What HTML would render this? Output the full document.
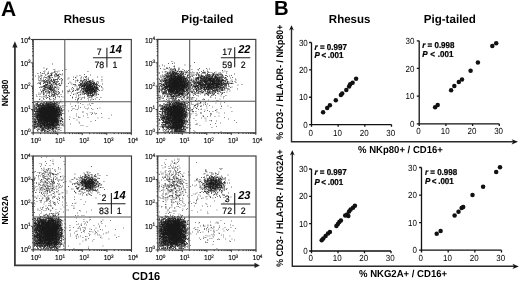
<!DOCTYPE html>
<html><head><meta charset="utf-8"><title>Figure</title>
<style>html,body{margin:0;padding:0;background:#fff}svg{display:block;text-rendering:geometricPrecision;filter:grayscale(1)}</style>
</head><body>
<svg width="520" height="282" viewBox="0 0 520 282" font-family='"Liberation Sans", sans-serif'>
<rect width="520" height="282" fill="#fff"/>
<text transform="translate(0.90,15.60) scale(1,1.0)" font-size="21" font-weight="bold" font-style="normal" text-anchor="start" fill="#000" >A</text>
<text transform="translate(273.90,14.50) scale(1,1.01)" font-size="20.3" font-weight="bold" font-style="normal" text-anchor="start" fill="#000" >B</text>
<text transform="translate(84.40,22.70) scale(1,1.02)" font-size="11.5" font-weight="bold" font-style="normal" text-anchor="middle" fill="#000" >Rhesus</text>
<text transform="translate(207.30,22.60) scale(1,1.02)" font-size="11.6" font-weight="bold" font-style="normal" text-anchor="middle" fill="#000" >Pig-tailed</text>
<text transform="translate(349.60,22.50) scale(1,1.02)" font-size="11.5" font-weight="bold" font-style="normal" text-anchor="middle" fill="#000" >Rhesus</text>
<text transform="translate(449.80,22.50) scale(1,1.02)" font-size="11.6" font-weight="bold" font-style="normal" text-anchor="middle" fill="#000" >Pig-tailed</text>
<path d="M14.9 46V265.4H255.5" stroke="#3a3a3a" stroke-width="1.8" fill="none"/>
<path d="M14.9 41.3L12.3 47.4H17.5Z" fill="#222"/>
<path d="M259.9 265.4L254.5 262.8V268Z" fill="#222"/>
<text transform="translate(7.9,106.3) rotate(-90) scale(1,1.06)" font-size="8.45" font-weight="bold" fill="#000">NKp80</text>
<text transform="translate(7.9,224.5) rotate(-90) scale(1,1.06)" font-size="8.3" font-weight="bold" fill="#000">NKG2A</text>
<text transform="translate(146.10,280.10) scale(1,1.05)" font-size="11" font-weight="bold" font-style="normal" text-anchor="middle" fill="#000" >CD16</text>
<path d="M87 115h.9M76 116h.9M97 108.5h.9M108.5 118.5h.9M75.5 109.5h.9M76 114h.9M79 123h.9M71.5 106.5h.9M92 113.5h.9M70 124h.9M90.5 121.5h.9M88 108h.9M91 108.5h.9M69.5 117h.9M85.5 108.5h.9M86.5 113.5h.9M92.5 103.5h.9M87.5 117.5h.9M78 102h.9M95 114h.9M97.5 118h.9M76.5 102h.9M89 104h.9M75 99.5h.9M82.5 125.5h.9M91.5 99.5h.9M70 104h.9M111 115h.9M96 113.5h.9M76.5 120h.9M78.5 122h.9M83 116h.9M82.5 112.5h.9M72 109h.9M82.5 111.5h.9M69 119.5h.9M78 117h.9M101.5 117.5h.9M83.5 101.5h.9M80 107.5h.9M99.5 108h.9M87 109h.9M90 105.5h.9M78.5 117.5h.9M95 120.5h.9M80.5 125.5h.9M92.5 109.5h.9M90.5 112.5h.9M101 113.5h.9M94 113h.9M84 107h.9M73.5 118.5h.9M81 99h.9M77 109.5h.9M99 99.5h.9M79.5 117.5h.9M61.5 103h.9M87.5 105h.9M92 113h.9M75 105.5h.9M91 114.5h.9M71 110.5h.9M86.5 126.5h.9M82.5 104.5h.9M68 111h.9M78 98h.9M75 106h.9M77 99h.9M72 97.5h.9M80.5 99.5h.9M76.5 93h.9M83 94h.9M64.5 105.5h.9M76 96h.9M72.5 91.5h.9M77 99.5h.9M67.5 93h.9M79.5 97.5h.9M64.5 103h.9M80 103.5h.9M78 106h.9M77 100.5h.9M60.5 100h.9M78 98.5h.9M62.5 97h.9M73.5 108.5h.9M72 97h.9M62.5 105.5h.9M61 96.5h.9M77.5 103h.9M70.5 83h.9M81.5 98h.9M73.5 94h.9" stroke="#222" stroke-width="0.9" stroke-opacity="0.7" fill="none"/>
<path d="M49 117.5h.9M50.5 118h.9M47.5 108.5h.9M45 113h.9M47 115.5h.9M44.5 118.5h.9M49.5 111.5h.9M55 109h.9M46.5 119.5h.9M46 120h.9M51.5 116.5h.9M50.5 111.5h.9M49.5 116.5h.9M44.5 115h.9M49 119h.9M52 108.5h.9M43 115.5h.9M47 114h.9M40.5 109.5h.9M43 116h.9M40.5 115h.9M48 112.5h.9M43 116.5h.9M50 107.5h.9M49.5 114.5h.9M48 117h.9M37.5 116h.9M46.5 120h.9M49 109h.9M49.5 107.5h.9M42 116h.9M47 117h.9M44.5 125h.9M45.5 117.5h.9M54 110.5h.9M45.5 118.5h.9M49 110.5h.9M53 107.5h.9M46.5 127.5h.9M48.5 116.5h.9M49.5 118h.9M49.5 117.5h.9M43.5 123.5h.9M49.5 116h.9M55.5 120.5h.9M42 109.5h.9M53 108h.9M49.5 121.5h.9M46 122h.9M58 117h.9M52.5 116h.9M43.5 115.5h.9M51.5 122h.9M48 118h.9M52 117h.9M52 120h.9M55.5 117h.9M46 118.5h.9M50 109h.9M49.5 125.5h.9M43.5 112h.9M46.5 114h.9M48 119h.9M53 119.5h.9M54.5 118h.9M43 107h.9M45.5 117h.9M52 109h.9M40 110.5h.9M47 117.5h.9M48.5 113.5h.9M55 118.5h.9M52 130h.9M47.5 118.5h.9M47.5 118h.9M48 110.5h.9M56 111.5h.9M47 109.5h.9M47.5 112h.9M50.5 109.5h.9M48.5 111.5h.9M48 113.5h.9M44 110h.9M49 107.5h.9M47 108h.9M54.5 117h.9M52 115h.9M49 119.5h.9M47.5 113h.9M54 118h.9M51.5 126h.9M43 120.5h.9M50.5 113.5h.9M41 109h.9M39.5 116.5h.9M47.5 105.5h.9M45 111h.9M50 118.5h.9M59.5 115h.9M45 112.5h.9M46 119.5h.9M50 109.5h.9M51.5 116h.9M51.5 110h.9M44 124h.9M48.5 112h.9M49 124.5h.9M44 109.5h.9M50 117.5h.9M45 109h.9M53.5 108h.9M50 115.5h.9M46.5 108.5h.9M48.5 120.5h.9M40 111h.9M44 115.5h.9M50.5 116.5h.9M39 117.5h.9M53 106h.9M41 122.5h.9M52.5 117.5h.9M52.5 109.5h.9M49.5 106.5h.9M42 108h.9M54.5 117.5h.9M55.5 113h.9M48.5 109h.9M48.5 122.5h.9M44.5 113h.9M54 112h.9M46.5 121.5h.9M49 117h.9M45.5 115h.9M46 111.5h.9M48.5 112.5h.9M53.5 113.5h.9M49 116.5h.9M46 117.5h.9M47.5 116h.9M46.5 116h.9M49 110h.9M47.5 104h.9M42.5 110h.9M45.5 111.5h.9M56.5 113.5h.9M46 108.5h.9M50.5 114h.9M55.5 115.5h.9M42.5 111.5h.9M46 113.5h.9M41 109.5h.9M52.5 115h.9M49 124h.9M45.5 120.5h.9M51 121.5h.9M46.5 122h.9M48.5 110.5h.9M44 124.5h.9M55 113.5h.9M46.5 113.5h.9M50.5 117.5h.9M49 115h.9M46.5 121h.9M52 111h.9M47.5 109.5h.9M48.5 118.5h.9M49 118h.9M54.5 120h.9M52 109.5h.9M51 120h.9M46.5 117h.9M42.5 123.5h.9M53.5 108.5h.9M53.5 116h.9M51.5 107h.9M52.5 111h.9M53 120h.9M53 112.5h.9M47 111h.9M56 119h.9M43.5 119.5h.9M51.5 111h.9M53 114.5h.9M57.5 120h.9M43.5 111h.9M41 119h.9M53 122.5h.9M44.5 109h.9M49 102h.9M41.5 109.5h.9M39.5 114h.9M49 114h.9M48 111.5h.9M49 115.5h.9M45 110h.9M42 114.5h.9M44.5 128h.9M41.5 118.5h.9M51.5 110.5h.9M48.5 110h.9M51 112.5h.9M44.5 106.5h.9M46 111h.9M44.5 111h.9M45 119h.9M50 112.5h.9M45.5 111h.9M50.5 108h.9M50.5 109h.9M58.5 114.5h.9M42.5 113.5h.9M53 120.5h.9M49 120h.9M42.5 116h.9M47 114.5h.9M52.5 105h.9M48.5 108.5h.9M49.5 118.5h.9M47.5 121.5h.9M54.5 115.5h.9M49 118.5h.9M39 112.5h.9M46 113h.9M40 111.5h.9M34 119.5h.9M46.5 116.5h.9M49 113h.9M43.5 117.5h.9M44.5 116.5h.9M49.5 123h.9M49 116h.9M49 122h.9M52.5 119.5h.9M51.5 114.5h.9M51.5 111.5h.9M46 103.5h.9M54 120.5h.9M43 105.5h.9M48.5 118h.9M43 110h.9M57 113.5h.9M55.5 116h.9M52.5 123.5h.9M37 119h.9M50 112h.9M49.5 115.5h.9M44 112.5h.9M48 114h.9M48 114.5h.9M49 112h.9M56 111h.9M46.5 118.5h.9M47 106.5h.9M40.5 111.5h.9M56 122.5h.9M53.5 101.5h.9M53 111.5h.9M52 118h.9M50 127.5h.9M48 102h.9M48 121.5h.9M49 122.5h.9M51.5 113.5h.9M46.5 110.5h.9M56.5 109h.9M49.5 119.5h.9M47.5 109h.9M44 113h.9M48.5 115.5h.9M47 120.5h.9M48 116.5h.9M48 107.5h.9M41.5 111h.9M45 115h.9M53 111h.9M45.5 119.5h.9M56 119.5h.9M47.5 114.5h.9M46 119h.9M51 117.5h.9M58.5 119.5h.9M48 125h.9M48 121h.9M44 116h.9M43.5 116.5h.9M44 114.5h.9M55 122h.9M45 119.5h.9M50 121.5h.9M58 113.5h.9M48 120.5h.9M46.5 113h.9M43 113.5h.9M49 112.5h.9M56 105h.9M53.5 119h.9M45 112h.9M46.5 111h.9M50.5 118.5h.9M50 115h.9M50.5 106.5h.9M50 116h.9M57.5 124.5h.9M51.5 117.5h.9M41 115.5h.9M51 114h.9M40 119.5h.9M42.5 120h.9M53 108.5h.9M48.5 117h.9M41 119.5h.9M47.5 117h.9M59.5 123.5h.9M45.5 108h.9M48.5 113h.9M48 105.5h.9M43.5 103.5h.9M49.5 107h.9M43.5 116h.9M54 114.5h.9M54 113.5h.9M54 116h.9M51.5 104.5h.9M47 110.5h.9M43 112h.9M42.5 114h.9M52.5 113.5h.9M53.5 124.5h.9M45.5 106.5h.9M53.5 109h.9M50 119.5h.9M52.5 111.5h.9M40.5 118h.9M55 118h.9M52 114.5h.9M55 119.5h.9M47 115h.9M47.5 119h.9M44 108h.9M60.5 107h.9M48 118.5h.9M56.5 108h.9M50 114h.9M41.5 112.5h.9M47 112.5h.9M53.5 121.5h.9M43 102.5h.9M54 119h.9M50.5 126h.9M44 115h.9M46.5 114.5h.9M47 118.5h.9M49 123.5h.9M46.5 109h.9M47.5 114h.9M44.5 117.5h.9M42 115h.9M49 111.5h.9M44.5 114h.9M53 114h.9M45.5 114h.9M51 108h.9M48 120h.9M51.5 117h.9M48.5 114.5h.9M52 116h.9M44 112h.9M48.5 115h.9M53.5 103.5h.9M52 108h.9M44 125.5h.9M40.5 113h.9M48.5 125h.9M54 117.5h.9M44 117h.9M45.5 118h.9M44 120.5h.9M50.5 117h.9M45.5 115.5h.9M51.5 121.5h.9M51 110h.9M44.5 111.5h.9M57.5 113h.9M47.5 110h.9M50 113.5h.9M49 114.5h.9M58 125h.9M42 130.5h.9M44.5 119.5h.9M43 117h.9M52.5 112.5h.9M53 101h.9M42.5 115.5h.9M47.5 124h.9M55.5 108h.9M36 124h.9M44 118h.9M54 102.5h.9M42 118h.9M55.5 109h.9M47 118h.9M45 117.5h.9M40.5 119.5h.9M47 120h.9M48.5 108h.9M44 121.5h.9M55 112.5h.9M57.5 115h.9M45.5 113h.9M46 125.5h.9M45.5 116h.9M44 108.5h.9M48 109.5h.9M50 116.5h.9M49 127h.9M42.5 111h.9M49.5 114h.9M43 119h.9M47.5 108h.9M39.5 110h.9M49.5 115h.9M48.5 114h.9M47 119.5h.9M47.5 119.5h.9M48 115h.9M43.5 119h.9M49.5 117h.9M51 117h.9M50 122.5h.9M50.5 115h.9M51 119h.9M46 121h.9M48 119.5h.9M52 111.5h.9M42 110h.9M54.5 119.5h.9M53.5 112.5h.9M50 124.5h.9M42 113.5h.9M37.5 111h.9M43 123h.9M55 117.5h.9M47.5 113.5h.9M50 108h.9M57 114.5h.9M56.5 110.5h.9M48.5 119.5h.9M51 116h.9M53.5 118h.9M45.5 119h.9M48.5 111h.9M52.5 117h.9M51.5 127.5h.9M51 113.5h.9M47.5 111.5h.9M50.5 107.5h.9M44.5 120.5h.9M41.5 115h.9M48.5 123.5h.9M50.5 127h.9M41 110.5h.9M47.5 120h.9M46 118h.9M45 116.5h.9M38.5 117h.9M46 116.5h.9M49 121h.9M52.5 119h.9M36.5 117h.9M51.5 123.5h.9M50.5 113h.9M49 104.5h.9M53 115h.9M58 118h.9M50 121h.9M55 111.5h.9M49 108.5h.9M56 109.5h.9M44.5 114.5h.9M52.5 115.5h.9M54 109h.9M42 111.5h.9M45 110.5h.9M46 106h.9M42 115.5h.9M51.5 114h.9M47 110h.9M53.5 107.5h.9M45 120h.9M50 120.5h.9M52 122h.9M50 117h.9M47.5 111h.9M53 110h.9M46 107.5h.9M47 116h.9M54.5 114.5h.9M59.5 114.5h.9M58 112.5h.9M48.5 121h.9M44.5 121.5h.9M51 106h.9M41.5 117.5h.9M42.5 115h.9M52 122.5h.9M50 111.5h.9M52 121h.9M51.5 120h.9M45 111.5h.9M44.5 109.5h.9M54 111.5h.9M49 109.5h.9M48 116h.9M41.5 114h.9M44 111.5h.9M47.5 122h.9M60.5 116h.9M53.5 117h.9M58.5 111h.9M48 109h.9M47.5 116.5h.9M54.5 115h.9M52 113h.9M46.5 122.5h.9M58 110h.9M57 110h.9M39.5 112.5h.9M52 117.5h.9M48 123h.9M47.5 115h.9M41 114.5h.9M46 112.5h.9M38.5 114.5h.9M54 119.5h.9M58 114.5h.9M40.5 114.5h.9M43.5 110.5h.9M46.5 109.5h.9M48.5 106h.9M47.5 123h.9M57.5 125.5h.9M58 109.5h.9M55 114h.9M52 119h.9M46 109.5h.9M55.5 114h.9M48.5 126.5h.9M47.5 110.5h.9M44 109h.9M51.5 119.5h.9M52.5 116.5h.9M49.5 112.5h.9M56 115h.9M46 110.5h.9M49.5 122h.9M46.5 125h.9M56 113h.9M40 116.5h.9M55.5 113.5h.9M52.5 110h.9M45 115.5h.9M39.5 120h.9M42 119.5h.9M46 110h.9M56.5 115.5h.9M45.5 105h.9M43.5 107.5h.9M51 120.5h.9M46 105h.9M40 110h.9M52 106.5h.9M50.5 108.5h.9M52 112h.9M49 106h.9M54.5 113h.9M51 118h.9M51 119.5h.9M42.5 113h.9M48 113h.9M43 124h.9M56.5 116.5h.9M43.5 111.5h.9M41 111h.9M48.5 109.5h.9M45.5 110h.9M51.5 124.5h.9M45.5 103h.9M61 109h.9M45 122.5h.9M43.5 107h.9M44.5 104h.9M47 122h.9M39.5 113.5h.9M49.5 113h.9M41 122h.9M47 121.5h.9M52.5 104h.9M43.5 114h.9M55.5 112.5h.9M50 113h.9M54.5 112.5h.9M47 116.5h.9M53.5 110.5h.9M60.5 121h.9M48.5 117.5h.9M41 123.5h.9M55 119h.9M52.5 114h.9M44 107.5h.9M53 105.5h.9M58.5 116.5h.9M52.5 118.5h.9M49.5 108.5h.9M57 120h.9M44.5 112h.9M51 116.5h.9M47 112h.9M50.5 104.5h.9M49.5 106h.9M43.5 115h.9M53 116.5h.9M44 117.5h.9M58.5 113h.9M52.5 123h.9M56 103.5h.9M43 114h.9M54 112.5h.9M49 104h.9M51 107.5h.9M39 124.5h.9M49.5 109h.9M45.5 109.5h.9M54.5 121h.9M54.5 107h.9M44 107h.9M55 120h.9M43 118h.9M51 110.5h.9M50.5 116h.9M46.5 104.5h.9M49 113.5h.9M46.5 112.5h.9M47 111.5h.9M50 114.5h.9M53 115.5h.9M54.5 110h.9M59.5 115.5h.9M52.5 108.5h.9M57.5 120.5h.9M57 115.5h.9M40 122h.9M52.5 108h.9M52.5 112h.9M48.5 121.5h.9M52 118.5h.9M53.5 114.5h.9M38.5 113.5h.9M52 115.5h.9M50.5 111h.9M45 113.5h.9M53.5 126.5h.9M48.5 130h.9M45 118.5h.9M50.5 115.5h.9M57 107.5h.9M53.5 112h.9M39 119h.9M50.5 102.5h.9M50.5 119h.9M44 110.5h.9M39.5 124h.9M44.5 119h.9M56.5 120h.9M51.5 108.5h.9M57 118.5h.9M48 111h.9M57 119h.9M40 117h.9M53 101.5h.9M45.5 113.5h.9M49.5 108h.9M60 112h.9M53.5 122h.9M46 125h.9M53 110.5h.9M44 123h.9M42 107.5h.9M46 122.5h.9M52.5 122h.9M51 107h.9M57.5 117h.9M54.5 119h.9M43.5 125h.9M53 123h.9M41.5 110.5h.9M56 113.5h.9M38 102h.9M48 127.5h.9M48 117.5h.9M54 108.5h.9M39 111.5h.9M49 105.5h.9M45.5 121.5h.9M45 114.5h.9M58.5 111.5h.9M42.5 119h.9M50.5 110.5h.9M60.5 109h.9M52.5 120.5h.9M50 110h.9M46.5 123h.9M52.5 118h.9M45 122h.9M54 126h.9M51.5 115.5h.9M50.5 119.5h.9M55 117h.9M45.5 120h.9M45.5 112.5h.9M54.5 120.5h.9M38.5 115h.9M40 103.5h.9M54 117h.9M43 117.5h.9M50.5 114.5h.9M50.5 105h.9M52 106h.9M49.5 109.5h.9M60 101.5h.9M54 108h.9M41.5 119h.9M51.5 112.5h.9M44.5 112.5h.9M48 112h.9M40.5 121h.9M56.5 101.5h.9M46.5 112h.9M50 106.5h.9M53.5 116.5h.9M54 120h.9M55.5 112h.9M48 108.5h.9M42.5 117h.9M47.5 104.5h.9M48 107h.9M51 112h.9M52 123h.9M42 105.5h.9M42.5 117.5h.9M43.5 114.5h.9M55 108.5h.9M50 111h.9M42 108.5h.9M54.5 114h.9M54.5 125h.9M55.5 119h.9M52 112.5h.9M48.5 106.5h.9M53 125h.9M47.5 120.5h.9M44.5 118h.9M55.5 115h.9M53.5 117.5h.9M54 111h.9M37.5 110h.9M47 113.5h.9M58.5 120.5h.9M47 121h.9M46 114.5h.9M47 107.5h.9M62 121.5h.9M55.5 121h.9M53 113h.9M55 112h.9M50.5 123h.9M46.5 110h.9M56 112.5h.9M42 114h.9M42.5 109h.9M56.5 122.5h.9M54.5 113.5h.9M51.5 119h.9M57 118h.9M41 112.5h.9M50 108.5h.9M53 117.5h.9M41.5 121h.9M54 110h.9M52 116.5h.9M37 112.5h.9M50 110.5h.9M50 122h.9M42.5 121h.9M57.5 113.5h.9M48 115.5h.9M41.5 120.5h.9M61.5 119h.9M55 110.5h.9M51.5 106h.9M55 115h.9M50.5 120h.9M53 104.5h.9M51 115h.9M51 125.5h.9M43 115h.9M45.5 110.5h.9M43 119.5h.9M46.5 115.5h.9M40.5 116.5h.9M43 113h.9M41.5 116h.9M51 122h.9M46 102.5h.9M53 118h.9M57 105h.9M43 109.5h.9M50.5 112.5h.9M42.5 120.5h.9M51.5 112h.9M41 108h.9M56.5 118h.9M39 117h.9M61 110.5h.9M53.5 126h.9M54.5 109h.9M49.5 120h.9M52 110.5h.9M37.5 117.5h.9M62 119.5h.9M52.5 121.5h.9M43.5 118.5h.9M39 110h.9M41 121h.9M48.5 107.5h.9M55 116h.9M43 112.5h.9M50 107h.9M43.5 117h.9M60 121h.9M45.5 114.5h.9M44.5 126h.9M53 116h.9M42 123.5h.9M36 117.5h.9M61 115h.9M56.5 119.5h.9M49.5 119h.9M42 116.5h.9M51 105h.9M54.5 126h.9M49.5 121h.9M60 113h.9M43 118.5h.9M48.5 104.5h.9M46.5 108h.9M46.5 107h.9M50.5 124.5h.9M61 114.5h.9M53 109h.9M45 127.5h.9M47 122.5h.9M47 109h.9M51.5 113h.9M57 123h.9M56 118.5h.9M61.5 118.5h.9M43.5 109.5h.9M54.5 116.5h.9M52.5 122.5h.9M55 120.5h.9M51 115.5h.9M48.5 119h.9M58.5 107.5h.9M54.5 123.5h.9M51.5 118h.9M51 123.5h.9M41 116.5h.9M62.5 107.5h.9M40.5 119h.9M55.5 116.5h.9M43.5 123h.9M50 105.5h.9M56.5 113h.9M37 116h.9M56.5 104.5h.9M43.5 105.5h.9M56.5 114.5h.9M45 118h.9M49 125h.9M49 103h.9M46.5 119h.9M46 116h.9M41 121.5h.9M49 126.5h.9M59 109.5h.9M49.5 110h.9M39.5 107h.9M47.5 112.5h.9M43.5 118h.9M43.5 113h.9M54 105h.9M38.5 117.5h.9M44 118.5h.9M45 104h.9M56.5 111.5h.9M50.5 99.5h.9M53 112h.9M45 105h.9M48 106h.9M54 118.5h.9M46.5 118h.9M44 119h.9M45 117h.9M59 118.5h.9M46.5 107.5h.9M58.5 109h.9M47 123.5h.9M51 111.5h.9M43 110.5h.9M46.5 115h.9M45 121h.9M54.5 107.5h.9M42.5 112.5h.9M41 106h.9M43 114.5h.9M51.5 109.5h.9M42.5 118h.9M43.5 109h.9M44.5 106h.9M44.5 115.5h.9M39.5 117h.9M54.5 108h.9M50 120h.9M50.5 122h.9M39 116h.9M38 112h.9M40.5 121.5h.9M48 106.5h.9M59.5 117h.9M53 121h.9M45 114h.9M42.5 114.5h.9M59.5 120.5h.9M57.5 116h.9M51 109h.9M55.5 110h.9M53.5 110h.9M44 105h.9M45.5 107h.9M54.5 116h.9M52.5 120h.9M42 118.5h.9M53.5 120h.9M39 115.5h.9M43 108.5h.9M50.5 121h.9M52.5 110.5h.9M57.5 105h.9M55.5 120h.9M54 115.5h.9M45.5 116.5h.9M57.5 111.5h.9M59.5 107.5h.9M52.5 106.5h.9M54.5 122h.9M44.5 117h.9M47 123h.9M46 120.5h.9M42.5 124h.9M43.5 110h.9M54 124h.9M56 117.5h.9M44 120h.9M53.5 113h.9M54 125.5h.9M54.5 112h.9M52.5 109h.9M51.5 104h.9M57 109h.9M58.5 107h.9M59 114.5h.9M53.5 111.5h.9M44.5 107h.9M52 107.5h.9M57.5 108.5h.9M51.5 105.5h.9M56 108.5h.9M55.5 117.5h.9M52.5 103h.9M48.5 124h.9M49 121.5h.9M54 115h.9M46.5 106h.9M59 110.5h.9M50.5 103.5h.9M58.5 105.5h.9M44.5 113.5h.9M57.5 103.5h.9M44 116.5h.9M46 112h.9M47 102h.9M56 115.5h.9M48.5 116h.9M47 104.5h.9M49.5 123.5h.9M42 105h.9M45.5 123h.9M55.5 106.5h.9M41.5 126h.9M52.5 113h.9M51 124h.9M43 111.5h.9M49.5 112h.9M61.5 118h.9M49.5 102.5h.9M39.5 109h.9M46 105.5h.9M52.5 104.5h.9M52 113.5h.9M41.5 113.5h.9M54.5 106.5h.9M46 121.5h.9M51 118.5h.9M43 109h.9M38 115h.9M52.5 114.5h.9M58.5 108h.9M56.5 112.5h.9M44.5 131.5h.9M45.5 122h.9M43.5 120h.9M41 111.5h.9M56 116h.9M52 107h.9M43.5 121.5h.9M54 121h.9M57 112h.9M47.5 121h.9M54 123.5h.9M50.5 107h.9M51.5 120.5h.9M58.5 117.5h.9M39 126h.9M58 113h.9M51.5 109h.9M51.5 108h.9M49.5 111h.9M54.5 118.5h.9M53.5 118.5h.9M42 110.5h.9M36 109h.9M60.5 108.5h.9M49.5 104h.9M44.5 110.5h.9M50.5 112h.9M44.5 120h.9M43 108h.9M51 109.5h.9M52 119.5h.9M51.5 106.5h.9M53 117h.9M57 120.5h.9M40.5 112.5h.9M47.5 123.5h.9M40.5 110h.9M47 113h.9M55.5 126h.9M50.5 105.5h.9M44 114h.9M42.5 107h.9M57.5 116.5h.9M52 120.5h.9M47.5 117.5h.9M41.5 120h.9M49.5 125h.9M46 104.5h.9M49.5 113.5h.9M55.5 119.5h.9M45.5 125h.9M53 121.5h.9M44.5 110h.9M42.5 118.5h.9M61 115.5h.9M50 118h.9M46 103h.9M40 116h.9M51 113h.9M39.5 121.5h.9M56 102.5h.9M59.5 110.5h.9M57.5 118h.9M43.5 106h.9M54.5 110.5h.9M58.5 115.5h.9M45 120.5h.9M52.5 126h.9M47.5 97.5h.9M44.5 121h.9M58 121.5h.9M52 123.5h.9M48.5 122h.9M53.5 111h.9M48 129h.9M55 114.5h.9M41 113.5h.9M47 119h.9M43.5 99.5h.9M34 116.5h.9M40.5 114h.9M51 114.5h.9M46 115h.9M56.5 111h.9M54 105.5h.9M60 114h.9M43 104h.9M42.5 110.5h.9M47.5 122.5h.9M42.5 112h.9M54.5 103h.9M62 122h.9M46.5 111.5h.9M34 109.5h.9M53.5 123.5h.9M51.5 103h.9M50 119h.9M44 122.5h.9M55 111h.9M53 119h.9M41.5 107h.9M60.5 113.5h.9M37 106.5h.9M55.5 123h.9M56.5 119h.9M50 126h.9M39.5 120.5h.9M39.5 121h.9M52 110h.9M57.5 109.5h.9M43.5 113.5h.9M45.5 106h.9M40.5 123.5h.9M45.5 121h.9M53.5 114h.9M53 122h.9M49.5 103.5h.9M39.5 108h.9M45 109.5h.9M51.5 115h.9M38.5 109h.9M39 121.5h.9M48 104.5h.9M54 121.5h.9M46.5 104h.9M41 117.5h.9M58.5 110.5h.9M50.5 125.5h.9M42 117.5h.9M43 124.5h.9M45.5 112h.9M47.5 124.5h.9M56 116.5h.9M49 107h.9M53 105h.9M60 122h.9M35 119h.9M54 122h.9M42 104.5h.9M61.5 125.5h.9M53.5 109.5h.9M53.5 106h.9M41.5 111.5h.9M55.5 125.5h.9M41.5 114.5h.9M40 108h.9M56.5 131.5h.9M48 128h.9M57.5 112.5h.9M50 125h.9M42.5 108h.9M55 115.5h.9M54 116.5h.9M36.5 104h.9M40 122.5h.9M37.5 113.5h.9M42 125h.9M58 108h.9M54 106.5h.9M53 129h.9M52 121.5h.9M46 114h.9M35.5 107h.9M44.5 124h.9M41.5 107.5h.9M42.5 122.5h.9M43.5 112.5h.9M55.5 122h.9M59 122h.9M37 126h.9M47 125h.9M39.5 122h.9M47.5 127.5h.9M38.5 122.5h.9M36 113h.9M58 123h.9M39 105h.9M50.5 120.5h.9M37 103.5h.9M34 114h.9M56 121h.9M41.5 104h.9M39 118.5h.9M55 122.5h.9M55 127.5h.9M51.5 101.5h.9M37.5 130h.9M50 127h.9M35.5 127h.9M38.5 127h.9M58 122.5h.9M52 105h.9M39 122.5h.9M61 113h.9M44.5 105h.9M58 121h.9M37.5 125.5h.9M34.5 107h.9M42 120.5h.9M54.5 108.5h.9M42 126h.9M38.5 128h.9M55.5 118.5h.9M38 125.5h.9M38 105.5h.9M55 110h.9M48.5 124.5h.9M52 114h.9M53 113.5h.9M55.5 107h.9M53.5 115h.9M38 121h.9M35.5 112h.9M56 106h.9M36.5 119h.9M40 127.5h.9M53.5 120.5h.9M57.5 110.5h.9M37 118.5h.9M44.5 125.5h.9M41.5 109h.9M38 110.5h.9M37 119.5h.9M38 123h.9M44.5 122.5h.9M51 108.5h.9M47.5 129h.9M60.5 110.5h.9M55.5 104.5h.9M39 119.5h.9M53 118.5h.9M34 111h.9M48 105h.9M40 118.5h.9M34.5 109.5h.9M40.5 108.5h.9M36.5 121h.9M47 105.5h.9M54.5 109.5h.9M41 114h.9M40.5 117.5h.9M56.5 125h.9M54 114h.9M37 109.5h.9M48 103h.9M56 112h.9M40.5 115.5h.9M37 113.5h.9M42 104h.9M48.5 107h.9M59.5 112.5h.9M36.5 111.5h.9M43.5 108.5h.9M38.5 108h.9M38.5 113h.9M41 126h.9M41.5 118h.9M47 107h.9M50 103h.9M51.5 118.5h.9M41.5 131h.9M41.5 108.5h.9M37 118h.9M41 126.5h.9M44.5 108h.9M52 126h.9M42 112.5h.9M40.5 111h.9M40 123.5h.9M53 124.5h.9M41 113h.9M34 108.5h.9M35.5 108h.9M40.5 116h.9M42.5 130h.9M45 126h.9M41 125.5h.9M38 124.5h.9M43.5 130.5h.9M36 127.5h.9M40.5 106.5h.9M56.5 126h.9M60.5 128h.9M42 122.5h.9M40.5 109h.9M57.5 123.5h.9M58 107.5h.9M42.5 107.5h.9M35 112h.9M36 114.5h.9M41.5 129.5h.9M45.5 109h.9M45.5 123.5h.9M39 110.5h.9M35 124.5h.9M40 119h.9M49.5 124h.9M56 117h.9M46.5 106.5h.9M40 112h.9M46.5 117.5h.9M40 105h.9M50.5 129h.9M41.5 103h.9M37 101.5h.9M39.5 107.5h.9M34.5 117h.9M54.5 130.5h.9M55.5 109.5h.9M62.5 125.5h.9M56.5 121.5h.9M38.5 109.5h.9M37.5 122h.9M56 120.5h.9M50 105h.9M56.5 129h.9M56 123.5h.9M41 105.5h.9M34 122.5h.9M39.5 109.5h.9M40.5 108h.9M38.5 104.5h.9M48.5 127h.9M40.5 120.5h.9M39.5 110.5h.9M55 123h.9M34 121h.9M48.5 126h.9M49.5 128.5h.9M39 118h.9M41 118.5h.9M49.5 129h.9M43 129h.9M38 114.5h.9M42.5 104h.9M60.5 110h.9M36.5 125.5h.9M37.5 118h.9M39.5 111h.9M54 127h.9M39 112h.9M35 122.5h.9M41.5 117h.9M37 115.5h.9M34.5 114.5h.9M55.5 125h.9M35.5 126.5h.9M34 125h.9M40.5 105h.9M34.5 128.5h.9M52 125.5h.9M42 119h.9M36.5 123.5h.9M40 120h.9M39 108.5h.9M55.5 102h.9M53.5 123h.9M41.5 122h.9M45 101.5h.9M55.5 124h.9M58.5 115h.9M34 122h.9M43.5 124h.9M39.5 118.5h.9M43.5 124.5h.9M39.5 115h.9M38.5 115.5h.9M39 109h.9M44.5 126.5h.9M34.5 125.5h.9M39.5 112h.9M41 128h.9M56 129h.9M41 129h.9M51.5 125.5h.9M58 106.5h.9M38.5 112.5h.9M41.5 131.5h.9M44 126.5h.9M34.5 122.5h.9M46 126h.9M38 106.5h.9M57 110.5h.9M53 123.5h.9M34 107h.9M57.5 127h.9M40.5 113.5h.9M36.5 125h.9M39.5 116h.9M41.5 113h.9M50 128h.9M45 107h.9M38 119h.9M38 106h.9M41.5 123.5h.9M53.5 128h.9M41.5 108h.9M37 111.5h.9M60.5 114.5h.9M36 118h.9M39.5 119.5h.9M48.5 129h.9M41 107.5h.9M48 124.5h.9M58.5 112h.9M36 111h.9M45.5 126h.9M39.5 117.5h.9M34 121.5h.9M42 128h.9M41 107h.9M39.5 126.5h.9M52.5 127h.9M47 108.5h.9M49 108h.9M57 121h.9M49.5 120.5h.9M37.5 120h.9M38 117h.9M34.5 115h.9M38 116.5h.9M36 107.5h.9M47.5 129.5h.9M41.5 121.5h.9M44 125h.9M53.5 119.5h.9M45 107.5h.9M52.5 107.5h.9M41.5 129h.9M46 128h.9M38.5 111h.9M43 111h.9M43.5 122.5h.9M39.5 103h.9M59 125.5h.9M45 123h.9M58 124.5h.9M42 111h.9M39.5 124.5h.9M47.5 128.5h.9M36.5 115h.9M57.5 121.5h.9M39 113h.9M57 111.5h.9M50.5 123.5h.9M54 103h.9M60 110h.9M48 103.5h.9M34.5 116.5h.9M54 122.5h.9M47.5 106.5h.9M42 106.5h.9M40 106h.9M40 115.5h.9M37 124.5h.9M36.5 116h.9M38.5 118.5h.9M51 124.5h.9M39 108h.9M53.5 132h.9M46 124h.9M55 107h.9M34.5 126h.9M42.5 106h.9M53.5 103h.9M39.5 125h.9M44.5 130.5h.9M57 121.5h.9M41 108.5h.9M41 120h.9M41 112h.9M37 117h.9M38.5 114h.9M40.5 126.5h.9M48 110h.9M54 107.5h.9M40 125.5h.9M37.5 115.5h.9M48.5 131.5h.9M37.5 123.5h.9M37.5 115h.9M55 116.5h.9M57 108h.9M53.5 125h.9M52.5 128.5h.9M44 113.5h.9M57.5 112h.9M40 117.5h.9M37 112h.9M37 114h.9M51 106.5h.9M38.5 107.5h.9M49 127.5h.9M37.5 112h.9M42.5 127h.9M42 128.5h.9M59 114h.9M35 124h.9M45.5 126.5h.9M41 116h.9M46 126.5h.9M34 123h.9M37 130.5h.9M59 112h.9M51 104.5h.9M54.5 121.5h.9M52.5 128h.9M37.5 111.5h.9M40 114.5h.9M38 109h.9M39 99.5h.9M55 124.5h.9M41.5 103.5h.9M38 121.5h.9M49 123h.9M40 112.5h.9M40 124.5h.9M57.5 122.5h.9M34 127.5h.9M41 124h.9M36.5 115.5h.9M38.5 106h.9M51.5 122.5h.9M43 129.5h.9M46.5 124h.9M59 103h.9M37.5 105h.9M56 110.5h.9M36.5 111h.9M52.5 129h.9M37 124h.9M63 124h.9M41.5 112h.9M58.5 114h.9M37 116.5h.9M56 107.5h.9M51.5 121h.9M48 124h.9M56 108h.9M41.5 119.5h.9M51 126h.9M51.5 123h.9M42 121.5h.9M53 124h.9M56 118h.9M39 123.5h.9M53 107h.9M43 104.5h.9M46 128.5h.9M43 121h.9M57.5 109h.9M48.5 125.5h.9M52 103h.9M56.5 109.5h.9M38.5 116h.9M47.5 106h.9M40.5 120h.9M51 121h.9M52 129.5h.9M41.5 125.5h.9M38 120h.9M39 115h.9M38.5 126.5h.9M56 126h.9M45 128.5h.9M55.5 110.5h.9M59.5 112h.9M55 121.5h.9M37.5 131.5h.9M41.5 123h.9M47.5 126h.9M52 127h.9M46.5 126.5h.9M34 127h.9M38.5 108.5h.9M54 127.5h.9M60.5 124h.9M38 111.5h.9M45 124h.9M57 130h.9M43 121.5h.9M35.5 107.5h.9M44.5 103.5h.9M44 122h.9M38 126h.9M59 109h.9M57.5 115.5h.9M45.5 124h.9M43 122h.9M35 104h.9M49 130.5h.9M51.5 128h.9M63.5 113.5h.9M50.5 131h.9M38 124h.9M43 128h.9M42 124h.9M40.5 112h.9M39.5 105.5h.9M43 105h.9M54.5 122.5h.9M50 124h.9M47 129.5h.9M40 126.5h.9M49 120.5h.9M47 104h.9M40 104h.9M49.5 100h.9M35 126h.9M40.5 125h.9M60.5 112h.9M48 126h.9M45 108.5h.9M38 114h.9M58 127.5h.9M38.5 111.5h.9M37.5 121h.9M52.5 124h.9M34 126.5h.9M59.5 102h.9M47.5 115.5h.9M40.5 127h.9M57 124.5h.9M34 120h.9M61 118.5h.9M47.5 126.5h.9M40 109.5h.9M52.5 127.5h.9M46 124.5h.9M37.5 119h.9M57 116.5h.9M50 106h.9M60 121.5h.9M45.5 130.5h.9M41 130.5h.9M50 125.5h.9M43 123.5h.9M49 106.5h.9M36.5 109.5h.9M35 115.5h.9M58.5 131h.9M36.5 105.5h.9M57.5 121h.9M42.5 127.5h.9M57.5 123h.9M35.5 120.5h.9M39.5 108.5h.9M58.5 113.5h.9M37.5 117h.9M40 109h.9M55.5 121.5h.9M56 121.5h.9M59 116.5h.9M35.5 118h.9M42.5 116.5h.9M42.5 123h.9M38 113h.9M56.5 124h.9M42.5 105h.9M56.5 127.5h.9M56.5 128h.9M54 125h.9M35.5 117.5h.9M57 102.5h.9M41 120.5h.9M52 124h.9M44 127.5h.9M42 117h.9M41.5 100.5h.9M41.5 124h.9M52 129h.9M50.5 127.5h.9M49.5 124.5h.9M43 125.5h.9M34 115h.9M39 111h.9M55.5 127.5h.9M53 128.5h.9M36 113.5h.9M44.5 108.5h.9M47.5 125.5h.9M60.5 123.5h.9M59 115h.9M57 106.5h.9M36.5 126.5h.9M42.5 125h.9M48.5 120h.9M51.5 131.5h.9M47.5 131.5h.9M47 124h.9M36 111.5h.9M60.5 112.5h.9M45 121.5h.9M39.5 111.5h.9M34 124.5h.9M35.5 123h.9M45 116h.9M57 112.5h.9M55 124h.9M45.5 108.5h.9M55 113h.9M55 105.5h.9M53.5 121h.9M46.5 127h.9M40.5 131h.9M55.5 111.5h.9M62 113.5h.9M51 123h.9M53.5 106.5h.9M53 125.5h.9M44 121h.9M44 106.5h.9M46.5 128.5h.9M39 114h.9M59 116h.9M39.5 123h.9M53 106.5h.9M38 105h.9M50.5 124h.9M56.5 115h.9M55.5 128h.9M61.5 109.5h.9M35 121.5h.9M41.5 126.5h.9M36.5 122.5h.9M35 127h.9M56.5 121h.9M51 111h.9M35.5 114.5h.9M61 120.5h.9M58.5 120h.9M40 118h.9M35 123h.9M47 127h.9M38.5 119.5h.9M44 111h.9M42 129h.9M34 111.5h.9M42.5 109.5h.9M41 115h.9M46 123h.9M50.5 110h.9M46 107h.9M44.5 116h.9M51 129.5h.9M58.5 124.5h.9M39.5 105h.9M59 129.5h.9M60.5 106h.9M38 119.5h.9M53 126h.9M37 105h.9M46.5 124.5h.9M34.5 111h.9M38 129.5h.9M40 113.5h.9M55 131h.9M37.5 128.5h.9M36 104h.9M57 109.5h.9M56.5 110h.9M46.5 123.5h.9M43.5 126.5h.9M51.5 124h.9M54.5 111.5h.9M37 126.5h.9M34 110.5h.9M37 114.5h.9M40.5 126h.9M58 115h.9M63.5 109.5h.9M35 119.5h.9M47 131.5h.9M41.5 116.5h.9M46.5 120.5h.9M42.5 108.5h.9M53 127h.9M60.5 121.5h.9M57.5 111h.9M34 118.5h.9M36.5 124h.9M53 126.5h.9M38 108h.9M47.5 105h.9M44 126h.9M39 116.5h.9M56 114h.9M42.5 106.5h.9M36.5 112h.9M53.5 122.5h.9M59.5 114h.9M44.5 124.5h.9M39 106h.9M40 121h.9M55 103.5h.9M36 121.5h.9M43.5 122h.9M55 131.5h.9M44 105.5h.9M43.5 120.5h.9M40 128h.9M43 126h.9M40.5 117h.9M62.5 110.5h.9M48 128.5h.9M52 124.5h.9M56 122h.9M41 125h.9M52 103.5h.9M58 119h.9M44.5 130h.9M37 103h.9M36 116.5h.9M37 115h.9M55 121h.9M35.5 105h.9M53 104h.9M58 116h.9M38.5 118h.9M52.5 106h.9M54 113h.9M41 103h.9M61.5 124h.9M38.5 106.5h.9M34.5 102.5h.9M35.5 113h.9M34.5 124.5h.9M57 111h.9M37.5 121.5h.9M40 115h.9M51 125h.9M45 105.5h.9M54.5 103.5h.9M52.5 130.5h.9M62 124.5h.9M47 106h.9M38 115.5h.9M54.5 104h.9M55 106.5h.9M35 113h.9M41.5 106.5h.9M44 119.5h.9M53.5 131.5h.9M59 127h.9M37 123.5h.9M62 111h.9M40 126h.9M56 110h.9M44.5 107.5h.9M45 106h.9M47 126h.9M36.5 110.5h.9M50 123h.9M39 109.5h.9M40.5 106h.9M40.5 130.5h.9M44.5 123.5h.9M60 120.5h.9M59 108.5h.9M61.5 111.5h.9M43.5 128h.9M55.5 128.5h.9M39.5 127h.9M42.5 129.5h.9M60 107h.9M39 114.5h.9M37 117.5h.9M38.5 120.5h.9M43.5 125.5h.9M44 127h.9M36.5 106h.9M37 120h.9M48.5 104h.9M54.5 106h.9M46 117h.9M42 112h.9M59.5 111.5h.9M36.5 108.5h.9M53 131.5h.9M35.5 109h.9M43 107.5h.9M59 111.5h.9M35 111.5h.9M41.5 127.5h.9M52.5 125h.9M42 122h.9M34.5 114h.9M48 108h.9M37 110.5h.9M42 123h.9M35.5 121.5h.9M43 106h.9M55 125h.9M56.5 118.5h.9M56.5 108.5h.9M45 108h.9M35.5 119h.9M46.5 131.5h.9M34 128.5h.9M47 125.5h.9M47.5 127h.9M50 102h.9M39.5 129.5h.9M40 124h.9M42 109h.9M45.5 122.5h.9M48 126.5h.9M57.5 124h.9M44.5 129.5h.9M51 128h.9M50 126.5h.9M36 115.5h.9M40 113h.9M43.5 130h.9M59.5 118h.9M34.5 105.5h.9M63.5 126h.9M62.5 119.5h.9M58 112h.9M36.5 107.5h.9M52.5 125.5h.9M34.5 127h.9M37.5 102h.9M51.5 126.5h.9M34.5 123h.9M55.5 111h.9M56.5 123.5h.9M39.5 106.5h.9M57 115h.9M39 120.5h.9M39.5 115.5h.9M39.5 104.5h.9M60.5 119h.9M34 106.5h.9M53.5 129h.9M49 111h.9M45 125h.9M56 128h.9M50 102.5h.9M41.5 128h.9M34.5 124h.9M54 104.5h.9M35 116.5h.9M38.5 120h.9M57 117h.9M38.5 110.5h.9M36.5 103.5h.9M40.5 105.5h.9M38.5 124h.9M54 104h.9M43 128.5h.9M39.5 122.5h.9M49 128h.9M37.5 106.5h.9M45.5 127h.9M46 109h.9M48 127h.9M39.5 125.5h.9M57 122.5h.9M47.5 128h.9M58 105.5h.9M62.5 106h.9M53.5 104h.9M37.5 114h.9M36.5 129.5h.9M61 117.5h.9M36.5 119.5h.9M35.5 122.5h.9M46.5 103h.9M58 109h.9M58 107h.9M36.5 127.5h.9M44 131.5h.9M62.5 122h.9M54 109.5h.9M57 116h.9M58.5 109.5h.9M36 117h.9M55.5 105h.9M56 124h.9M35.5 122h.9M46.5 103.5h.9M44 129h.9M52.5 124.5h.9M43 120h.9M51 102.5h.9M40.5 107.5h.9M46.5 125.5h.9M50 104.5h.9M45.5 131h.9M38.5 122h.9M35.5 109.5h.9M47.5 131h.9M37.5 109.5h.9M36 105h.9M36.5 118h.9M52 128.5h.9M55 129h.9M41 110h.9M58 129.5h.9M40 120.5h.9M52.5 107h.9M39 129h.9M37.5 108.5h.9M38.5 112h.9M38 122.5h.9M57.5 114.5h.9M56 123h.9M40.5 127.5h.9M44 102.5h.9M49.5 130.5h.9M57 119.5h.9M54.5 105h.9M56.5 107.5h.9M34 105h.9M39.5 114.5h.9M48.5 105.5h.9M51 122.5h.9M56 125h.9M38.5 126h.9M61 108.5h.9M44 123.5h.9M37 104.5h.9M35.5 111h.9M46.5 129h.9M49 125.5h.9M36.5 101.5h.9M54.5 111h.9M60.5 130.5h.9M56 114.5h.9M38 120.5h.9M52 128h.9M40.5 122h.9M43.5 127.5h.9M47 124.5h.9M56 109h.9M55 126.5h.9M42 124.5h.9M45.5 125.5h.9M50 128.5h.9M41 118h.9M38 122h.9M58.5 128h.9M36 126.5h.9M38.5 121.5h.9M53.5 128.5h.9M53 130h.9M42 130h.9M35.5 108.5h.9M56.5 125.5h.9M44.5 131h.9M45 128h.9M52 125h.9M54 126.5h.9M51 104h.9M54.5 125.5h.9M34.5 108h.9M59 110h.9M35 120.5h.9M59.5 125h.9M40.5 124h.9M47.5 103.5h.9M53 109.5h.9M47.5 107.5h.9M35 113.5h.9M56.5 124.5h.9M43.5 108h.9M56.5 107h.9M58.5 104h.9M55.5 76.5h.9M59 76.5h.9M45.5 91.5h.9M46.5 89.5h.9M56.5 85h.9M47.5 84h.9M45 84h.9M44 73h.9M53 79.5h.9M48 86h.9M55.5 84.5h.9M44 85.5h.9M37.5 73.5h.9M44 89.5h.9M39 87.5h.9M45.5 96h.9M58 78h.9M49.5 89.5h.9M48 79h.9M40 90h.9M54.5 75.5h.9M52 87.5h.9M46.5 88h.9M51 91.5h.9M57.5 78.5h.9M58 81.5h.9M55 74h.9M50.5 78h.9M49.5 96.5h.9M47.5 102.5h.9M38.5 82.5h.9M44 87h.9M43.5 83.5h.9M52.5 90h.9M62 92h.9M53.5 88.5h.9M43.5 95h.9M43.5 68h.9M57 96h.9M44.5 71h.9M57 75h.9M52 77.5h.9M52 73h.9M44.5 87h.9M58 74.5h.9M55.5 93.5h.9M46 86h.9M46 102h.9M46.5 91.5h.9M40 76h.9M40.5 74h.9M43 90h.9M40 84.5h.9M49 77.5h.9M38 80h.9M41.5 75.5h.9M45 89.5h.9M52.5 95h.9M45.5 81.5h.9M58.5 71h.9M60.5 94.5h.9M47.5 93.5h.9M62 70.5h.9M37.5 83.5h.9M54.5 82.5h.9M54 95.5h.9M48.5 75.5h.9M54 94.5h.9M42.5 90.5h.9M44 82.5h.9M51 87.5h.9M41 87.5h.9M54.5 79.5h.9M46 78h.9M50.5 89h.9M51 81h.9M56.5 90h.9M54 81.5h.9M58.5 88h.9M45.5 75h.9M51 79.5h.9M50.5 84.5h.9M41 92h.9M50 87.5h.9M49 87.5h.9M51.5 81h.9M43 93h.9M40 94h.9M47 84.5h.9M54 88h.9M57 79.5h.9M39.5 81h.9M43 83.5h.9M47 82.5h.9M48 72h.9M51 95.5h.9M49 88h.9M51 75.5h.9M47 97.5h.9M44.5 86.5h.9M46.5 85h.9M58.5 93.5h.9M56.5 76h.9M45 75h.9M43.5 94h.9M41 76h.9M55.5 83h.9M58.5 96.5h.9M54.5 81h.9M38.5 94.5h.9M45.5 97.5h.9M44 77h.9M55 84h.9M46 98.5h.9M52.5 93h.9M49.5 88h.9M40 82.5h.9M48 91h.9M51 89.5h.9M58 75.5h.9M53.5 90h.9M53 91.5h.9M57 75.5h.9M57 80h.9M59 83.5h.9M53.5 86h.9M55.5 93h.9M53.5 89.5h.9M56 79.5h.9M43.5 92.5h.9M49 89.5h.9M61 78.5h.9M45 88h.9M46 69.5h.9M57.5 78h.9M47 74h.9M46 94h.9M51 73h.9M49.5 91.5h.9M43 82h.9M51 74.5h.9M44.5 90.5h.9M51.5 96.5h.9M54 82.5h.9M41.5 97h.9M52 86.5h.9M54.5 72.5h.9M50.5 81.5h.9M43.5 81.5h.9M52 88h.9M43 92h.9M47.5 91h.9M43 94.5h.9M59 74h.9M54 71.5h.9M44.5 85.5h.9M50.5 87h.9M53.5 96.5h.9M48 77h.9M54.5 70h.9M60.5 79h.9M61.5 80.5h.9M58 94h.9M41.5 80.5h.9M53.5 80h.9M57.5 92h.9M45 79.5h.9M47.5 76.5h.9M53 96.5h.9M42.5 91.5h.9M49.5 82.5h.9M38 78h.9M45.5 84.5h.9M54.5 99.5h.9M56.5 87h.9M47.5 92.5h.9M50 75.5h.9M39 83.5h.9M54 76h.9M47.5 73h.9M40 78.5h.9M43 88.5h.9M46 87.5h.9M60 85.5h.9M50.5 77h.9M49 99h.9M53 95h.9M49 96.5h.9M36.5 96.5h.9M50 86.5h.9M56 74.5h.9M43 90.5h.9M51 90h.9M56 85h.9M43 78h.9M47 79h.9M44.5 88h.9M48.5 81.5h.9M47.5 90.5h.9M55 87.5h.9M49.5 97h.9M55.5 71.5h.9M43 98.5h.9M35 76h.9M54.5 86.5h.9M58.5 84.5h.9M58.5 83.5h.9M40 83.5h.9M43.5 73.5h.9M50.5 88.5h.9M43.5 71.5h.9M39.5 96.5h.9M53.5 100h.9M53.5 94.5h.9M56.5 88.5h.9M56 94.5h.9M41 78h.9M39.5 80.5h.9M53 92.5h.9M38 76h.9M46 84.5h.9M55.5 91.5h.9M49 92.5h.9M55 94h.9M51.5 93h.9M58.5 77.5h.9M61.5 83h.9M44 88.5h.9M48 88.5h.9M60 74.5h.9M55.5 73.5h.9M59 97h.9M41.5 93h.9M39 77h.9M47.5 83.5h.9M40 87h.9M38.5 93h.9M57.5 75.5h.9M40 72.5h.9M43.5 85.5h.9M42.5 80.5h.9M40.5 79.5h.9M48 92h.9M57 82h.9M56.5 75.5h.9M42 73.5h.9M53 98.5h.9M61 83.5h.9M46 80.5h.9M44 80.5h.9M49 81.5h.9M61.5 75h.9M47.5 82.5h.9M49 98.5h.9M43.5 88h.9M51 94h.9M43 80h.9M53 79h.9M55 79.5h.9M49 76.5h.9M50 86h.9M53.5 89h.9M43.5 81h.9M46.5 85.5h.9M52.5 91h.9M36 95h.9M39.5 99h.9M56 74h.9M45.5 82.5h.9M50.5 80.5h.9M53.5 92.5h.9M49 93.5h.9M43.5 97h.9M46.5 82h.9M45 91.5h.9M58.5 93h.9M50 85.5h.9M57.5 84.5h.9M44 82h.9M46 90h.9M49 95h.9M42 87h.9M43.5 93.5h.9M53.5 82.5h.9M54.5 77h.9M51 85h.9M49.5 78.5h.9M51.5 87h.9M45 82h.9M56 92h.9M43.5 86.5h.9M60.5 85h.9M57.5 76h.9M47 84h.9M47.5 88.5h.9M54.5 80h.9M44.5 81h.9M62 91h.9M42 90h.9M51 84.5h.9M48.5 92.5h.9M49.5 82h.9M50.5 89.5h.9M54 93.5h.9M56.5 81.5h.9M53 80.5h.9M50 88h.9M56.5 82h.9M43 86.5h.9M46.5 77.5h.9M52 85.5h.9M59 92.5h.9M54.5 87.5h.9M50 83h.9M53.5 80.5h.9M51 80h.9M49.5 77.5h.9M52.5 81.5h.9M41.5 86.5h.9M55.5 81.5h.9M53.5 95.5h.9M47 82h.9M45.5 85h.9M52 94.5h.9M51.5 74h.9M58.5 102h.9M41 91.5h.9M47.5 86h.9M55 83.5h.9M47 80.5h.9M52 83h.9M53 83h.9M58 76h.9M52 64h.9M49 83.5h.9M49 88.5h.9M47.5 82h.9M53 88h.9M54.5 90h.9M50 89.5h.9M50.5 74h.9M57 94.5h.9M51.5 90.5h.9M53 90h.9M46 85h.9M48.5 85h.9M41.5 81.5h.9M45 87.5h.9M50 90h.9M45.5 82h.9M51.5 89h.9M56 84h.9M50.5 90.5h.9M55 97.5h.9M50.5 86.5h.9M50 89h.9M61 82h.9M53.5 91.5h.9M50 87h.9M52 81.5h.9M49 79h.9M50.5 80h.9M58 89.5h.9M57 72h.9M49.5 80.5h.9M53.5 84h.9M48 73.5h.9M46 81h.9M51.5 75.5h.9M53.5 84.5h.9M50.5 83.5h.9M54.5 74.5h.9M45 86h.9M59 85.5h.9M49 86h.9M54.5 93h.9M53 82.5h.9M49.5 83.5h.9M59 79.5h.9M54 81h.9M46.5 68.5h.9M45.5 92.5h.9M53.5 72.5h.9M49 82.5h.9M49 91.5h.9M49.5 88.5h.9M54 90.5h.9M48 87h.9M48.5 77h.9M48 80.5h.9M53.5 69.5h.9M53.5 83h.9M51 88.5h.9M43.5 86h.9M45 85h.9M46 96h.9M45.5 87h.9M55 91h.9M47 87h.9M45.5 95.5h.9M50.5 92.5h.9M43.5 96.5h.9M54 92h.9M48.5 76.5h.9M54.5 87h.9M44 90h.9M48.5 79.5h.9M50.5 73.5h.9M51.5 85.5h.9M56 83h.9M49.5 86.5h.9M46.5 87h.9M52 90.5h.9M51.5 95h.9M49.5 75.5h.9M52 89.5h.9M48.5 87.5h.9M48 95.5h.9M47.5 88h.9M51 75h.9M49.5 85.5h.9M55 96h.9M48.5 89.5h.9M55.5 87.5h.9M44 86.5h.9M45 77.5h.9M51.5 84.5h.9M57.5 87h.9M58 91.5h.9M47 88h.9M92.5 93h.9M88 81.5h.9M91.5 83.5h.9M89.5 91h.9M85.5 83.5h.9M84.5 90h.9M93 88h.9M95.5 87h.9M95.5 84.5h.9M87 86h.9M95.5 89h.9M96 84.5h.9M87.5 90.5h.9M92 89h.9M96.5 90h.9M90.5 89h.9M94.5 90h.9M88 89.5h.9M89 91h.9M93.5 89.5h.9M89.5 89.5h.9M90.5 85h.9M90.5 82h.9M86.5 88.5h.9M95.5 91.5h.9M89.5 85h.9M89 82.5h.9M88.5 86h.9M90.5 89.5h.9M86.5 91h.9M93.5 87h.9M89 84h.9M87 90.5h.9M86.5 88h.9M86.5 91.5h.9M91 86.5h.9M85 91h.9M93.5 94h.9M89 84.5h.9M93.5 85h.9M88.5 90.5h.9M93 99.5h.9M86.5 90h.9M86 88h.9M88 87.5h.9M94 82.5h.9M87.5 84.5h.9M92 93h.9M87 82h.9M83.5 83h.9M95.5 91h.9M89.5 88.5h.9M94 92.5h.9M91 84.5h.9M83.5 85.5h.9M91.5 87h.9M94 83.5h.9M95 87.5h.9M96 87.5h.9M91.5 91h.9M89.5 88h.9M90.5 86.5h.9M85.5 90h.9M93 92h.9M91.5 89h.9M87 87h.9M92.5 86.5h.9M88 83.5h.9M95 88.5h.9M88 88h.9M88 94h.9M89 89h.9M86 91h.9M86.5 93h.9M89 81.5h.9M81 86h.9M97.5 87.5h.9M91.5 88.5h.9M91 84h.9M87 91h.9M91 91.5h.9M90 90h.9M90.5 90.5h.9M84.5 84h.9M89.5 92h.9M83 86h.9M89.5 81.5h.9M89 85.5h.9M93 82h.9M94.5 84h.9M90 87.5h.9M86 79h.9M95.5 92h.9M85 91.5h.9M89 92h.9M87.5 87.5h.9M95 84h.9M91.5 90.5h.9M94 90h.9M89 85h.9M93.5 83h.9M89.5 84.5h.9M89.5 92.5h.9M91 87h.9M91.5 98h.9M92 86h.9M89 90.5h.9M84.5 89.5h.9M89 87.5h.9M80 91h.9M87 88h.9M93 84h.9M80 80.5h.9M97.5 88.5h.9M88.5 84h.9M84 83.5h.9M91.5 90h.9M92 87.5h.9M91.5 89.5h.9M98 94.5h.9M87 89h.9M91 89.5h.9M90.5 84h.9M87.5 91h.9M91 91h.9M94.5 84.5h.9M94 87.5h.9M92.5 88.5h.9M84 97h.9M91 86h.9M88.5 87h.9M94.5 88.5h.9M89.5 87.5h.9M97.5 81.5h.9M85.5 90.5h.9M92 91.5h.9M86.5 94.5h.9M96.5 86h.9M96 83.5h.9M86.5 90.5h.9M93 84.5h.9M90 88h.9M84 86.5h.9M86 89h.9M92 90.5h.9M88.5 85h.9M91 96.5h.9M85.5 84.5h.9M90.5 87.5h.9M92 86.5h.9M84.5 85h.9M96 93h.9M98 90h.9M87.5 86h.9M87.5 96h.9M97 88.5h.9M90 95.5h.9M90 86.5h.9M91.5 93h.9M96 88h.9M90.5 94h.9M88.5 87.5h.9M95 84.5h.9M89 86h.9M95.5 90.5h.9M92 92h.9M97.5 94h.9M95 92h.9M92 96.5h.9M90.5 86h.9M90 86h.9M93 89.5h.9M92.5 89h.9M91.5 86h.9M92.5 88h.9M87 94h.9M87.5 91.5h.9M86.5 85.5h.9M88.5 82h.9M88.5 89h.9M92 85.5h.9M86.5 85h.9M96.5 87h.9M90 89h.9M94.5 93.5h.9M95 89.5h.9M86 90.5h.9M91 88.5h.9M86 94h.9M91.5 84h.9M85.5 86.5h.9M92 95.5h.9M89.5 93.5h.9M87 90h.9M83.5 88.5h.9M90 91.5h.9M87.5 86.5h.9M89.5 82h.9M86.5 92.5h.9M86 82.5h.9M85 81.5h.9M87 86.5h.9M87 81.5h.9M90 89.5h.9M102 84h.9M84 87h.9M92 88.5h.9M86.5 87.5h.9M88.5 84.5h.9M90 83h.9M91 93.5h.9M89.5 86h.9M94 86.5h.9M89 90h.9M85 83h.9M92.5 85h.9M89 89.5h.9M97 89.5h.9M87.5 88h.9M95.5 93h.9M83.5 91.5h.9M87 92h.9M93.5 87.5h.9M93.5 90h.9M88 90.5h.9M88 85h.9M96 94h.9M90.5 87h.9M84.5 87.5h.9M90.5 91.5h.9M91 81h.9M86.5 89h.9M87.5 92.5h.9M92.5 89.5h.9M94.5 92.5h.9M87.5 93.5h.9M85 90.5h.9M84.5 86h.9M94 91h.9M93 95.5h.9M86.5 87h.9M88 90h.9M96 90h.9M87 91.5h.9M92 88h.9M89 95.5h.9M90.5 91h.9M84 88.5h.9M90 94h.9M90.5 82.5h.9M85 88.5h.9M91.5 92h.9M86.5 83.5h.9M80 85.5h.9M82.5 90h.9M90 88.5h.9M92 87h.9M88.5 89.5h.9M84.5 83.5h.9M89.5 85.5h.9M93.5 94.5h.9M91.5 88h.9M89 91.5h.9M92 92.5h.9M86.5 82h.9M90.5 93.5h.9M94 92h.9M85.5 87.5h.9M89.5 82.5h.9M91 95.5h.9M88 92.5h.9M78.5 92.5h.9M93.5 82.5h.9M87.5 83.5h.9M86 86h.9M86 88.5h.9M85 84.5h.9M89.5 90h.9M89.5 86.5h.9M91 90.5h.9M89.5 87h.9M92 81.5h.9M88.5 81.5h.9M94.5 86h.9M93 88.5h.9M88.5 94.5h.9M96.5 89.5h.9M81.5 84h.9M93.5 88h.9M90 92h.9M93.5 90.5h.9M92.5 84h.9M88 91h.9M90.5 84.5h.9M94 89.5h.9M87.5 88.5h.9M87.5 94h.9M95.5 88h.9M92.5 87.5h.9M93 91.5h.9M94.5 91h.9M94.5 94h.9M90 93.5h.9M93 89h.9M96.5 82h.9M96 83h.9M87 89.5h.9M86.5 84h.9M81.5 88.5h.9M93 91h.9M95.5 90h.9M85.5 85h.9M84 88h.9M88 79.5h.9M90.5 93h.9M92 94.5h.9M84.5 90.5h.9M79.5 95h.9M96.5 85.5h.9M85 88h.9M95 87h.9M89 81h.9M92 80h.9M89.5 83.5h.9M85.5 86h.9M83.5 90h.9M99 86.5h.9M85 89h.9M89 93h.9M95 99h.9M82.5 92h.9M85 89.5h.9M93 83.5h.9M87 84.5h.9M87.5 89h.9M94.5 87h.9M93.5 86.5h.9M86 83.5h.9M92 83.5h.9M96.5 88.5h.9M87.5 85.5h.9M96 88.5h.9M95.5 88.5h.9M87.5 79h.9M89 88.5h.9M82.5 88.5h.9M84 83h.9M88.5 88.5h.9M90 84.5h.9M91 89h.9M86.5 89.5h.9M91 88h.9M91.5 85.5h.9M86.5 86.5h.9M93.5 84h.9M97 84.5h.9M93 85.5h.9M92.5 83h.9M81 90h.9M95 91h.9M97 91.5h.9M94.5 85.5h.9M101 86.5h.9M87.5 87h.9M91 92.5h.9M82 83h.9M91 82.5h.9M86.5 84.5h.9M83 89.5h.9M98 83h.9M96.5 84h.9M85.5 88.5h.9M90 84h.9M85 85h.9M94 87h.9M90 93h.9M94 90.5h.9M88 93.5h.9M83 92h.9M88.5 86.5h.9M94.5 90.5h.9M89.5 90.5h.9M90 83.5h.9M80.5 92.5h.9M86 92.5h.9M85.5 91.5h.9M82 86h.9M81 86.5h.9M82 85h.9M73 79.5h.9M82 82h.9M83.5 92.5h.9M96 86.5h.9M90 80.5h.9M79.5 75.5h.9M79 85h.9M83 78h.9M81 87h.9M88.5 97.5h.9M77 81h.9M93.5 81h.9M69.5 82h.9M86 86.5h.9M87.5 83h.9M89 97h.9M88 100h.9M86.5 83h.9M92.5 83.5h.9M82 94h.9M83 80.5h.9M79.5 85.5h.9M92.5 80h.9M77.5 80.5h.9M99.5 85.5h.9M82.5 89h.9M83 91.5h.9M73 88.5h.9M85.5 89h.9M99 90.5h.9M88.5 90h.9M84 86h.9M89.5 81h.9M102.5 89h.9M75.5 78h.9M87.5 92h.9M98 89.5h.9M93.5 91h.9M83 85h.9M88 95h.9M76.5 90h.9M90 92.5h.9M80.5 84h.9M82.5 85.5h.9M82.5 94h.9M81.5 87h.9M96.5 87.5h.9M95.5 95h.9M84 93.5h.9M96.5 97.5h.9M84 79.5h.9M83 87h.9M80.5 84.5h.9M96 95h.9M87 95.5h.9M86 85h.9M83.5 88h.9M92 90h.9M81 89h.9M82.5 92.5h.9M75.5 97.5h.9M79 88h.9M82.5 81.5h.9M76.5 87h.9M82 85.5h.9M69.5 91.5h.9M84 90h.9M77.5 89h.9M84 82h.9M88.5 85.5h.9M86 83h.9M86 87h.9M90 87h.9M77.5 90h.9M88.5 93h.9M86 93h.9M79 82.5h.9M84 94.5h.9M81.5 85.5h.9M75.5 85.5h.9M75.5 80.5h.9M77 89h.9M85 93.5h.9M101.5 79.5h.9M92 89.5h.9M96 91h.9M92.5 92h.9M78 89h.9M72 91.5h.9M78.5 89h.9M84.5 93h.9M85 77.5h.9M88.5 80.5h.9M80.5 79h.9M80 84h.9M83.5 86h.9M80 94.5h.9M84 84h.9M80 83.5h.9M74.5 86h.9M83 88h.9M88.5 82.5h.9M83.5 80h.9M93.5 88.5h.9M75 84.5h.9M84.5 82h.9M84 98h.9M94.5 96h.9M80 85h.9M101.5 77h.9M86 77h.9M82 86.5h.9M84.5 79.5h.9M78.5 84.5h.9M83 84h.9M92 95h.9M97 77h.9M92.5 90h.9M76.5 76h.9M81 80.5h.9M73 84.5h.9M67.5 79h.9M91.5 103.5h.9M94 86h.9M68.5 78h.9M85 92h.9M80.5 81.5h.9M77.5 92.5h.9M88 78h.9M86 80.5h.9M86 80h.9M93.5 91.5h.9M90 95h.9M90.5 96h.9M81.5 90h.9M92 94h.9M93 95h.9M92 82h.9M78 99h.9M88.5 93.5h.9M88 88.5h.9M76 89h.9M82 88.5h.9M85.5 82.5h.9M88 87h.9M75.5 94h.9M84 74.5h.9M90 85.5h.9M84 91h.9M78 96h.9M86 91.5h.9M85 80h.9M94.5 86.5h.9M77 90h.9M71 93h.9M83.5 86.5h.9M87.5 90h.9M79.5 86.5h.9M82.5 97.5h.9M75 90.5h.9M88 93h.9M101.5 90.5h.9M81.5 84.5h.9M82.5 86.5h.9M90.5 90h.9M98 85.5h.9M90 82h.9M87.5 85h.9M83 91h.9M78 85.5h.9M90.5 97.5h.9M87 83h.9M80.5 94h.9M84.5 85.5h.9M82.5 83.5h.9M84 80h.9M94 91.5h.9M79.5 85h.9M84 85h.9M79 87h.9M94 94h.9M80.5 78h.9M94.5 92h.9M83 89h.9M92.5 95h.9M82.5 82h.9M84.5 93.5h.9M85 85.5h.9M90 75h.9M74 84.5h.9M86.5 81.5h.9M68 91.5h.9M78 95h.9M94 84h.9M81 77h.9M80.5 87.5h.9M82 91.5h.9M87.5 93h.9M79.5 87.5h.9M100.5 97.5h.9M83.5 85h.9M97 87.5h.9M84 85.5h.9M81.5 86h.9M81 84h.9M93.5 89h.9M80.5 82h.9M81 83.5h.9M69 90h.9M75 77.5h.9M82 82.5h.9M83.5 84.5h.9M96 85.5h.9M87.5 96.5h.9M88 86.5h.9M87 88.5h.9M88 95.5h.9M90 100h.9M86.5 86h.9M80.5 91h.9M89 87h.9M79.5 92h.9M87.5 71.5h.9M61.5 81h.9M84.5 76.5h.9M101.5 81h.9M72.5 90h.9M72 98h.9M73 77h.9M70 95.5h.9M67 91h.9M71 89h.9M62 74h.9M65.5 69.5h.9M86 76.5h.9M82 81h.9M73 94.5h.9M66.5 86.5h.9M72 87.5h.9M68.5 91h.9M77 80h.9M77 93.5h.9M101.5 87.5h.9M62 79.5h.9M75 82h.9M91.5 95.5h.9M71.5 84h.9M55 98h.9M78 108h.9M87.5 98.5h.9M86 87.5h.9M68 83.5h.9M73 90.5h.9" stroke="#111" stroke-width="0.9" stroke-opacity="0.8" fill="none"/>
<rect x="33.2" y="39.5" width="98.10000000000001" height="93.4" fill="none" stroke="#3a3a3a" stroke-width="1.15"/>
<path d="M64.8 39.5V132.9M33.2 101.8H131.3" stroke="#555" stroke-width="1.05" fill="none"/>
<path d="M33.2 132.90h-2.2M33.20 132.9v2.2M33.2 125.87h-1.2M40.58 132.9v1.2M33.2 121.76h-1.2M44.90 132.9v1.2M33.2 118.84h-1.2M47.97 132.9v1.2M33.2 116.58h-1.2M50.34 132.9v1.2M33.2 114.73h-1.2M52.28 132.9v1.2M33.2 113.17h-1.2M53.93 132.9v1.2M33.2 111.81h-1.2M55.35 132.9v1.2M33.2 110.62h-1.2M56.60 132.9v1.2M33.2 109.55h-2.2M57.73 132.9v2.2M33.2 102.52h-1.2M65.11 132.9v1.2M33.2 98.41h-1.2M69.43 132.9v1.2M33.2 95.49h-1.2M72.49 132.9v1.2M33.2 93.23h-1.2M74.87 132.9v1.2M33.2 91.38h-1.2M76.81 132.9v1.2M33.2 89.82h-1.2M78.45 132.9v1.2M33.2 88.46h-1.2M79.87 132.9v1.2M33.2 87.27h-1.2M81.13 132.9v1.2M33.2 86.20h-2.2M82.25 132.9v2.2M33.2 79.17h-1.2M89.63 132.9v1.2M33.2 75.06h-1.2M93.95 132.9v1.2M33.2 72.14h-1.2M97.02 132.9v1.2M33.2 69.88h-1.2M99.39 132.9v1.2M33.2 68.03h-1.2M101.33 132.9v1.2M33.2 66.47h-1.2M102.98 132.9v1.2M33.2 65.11h-1.2M104.40 132.9v1.2M33.2 63.92h-1.2M105.65 132.9v1.2M33.2 62.85h-2.2M106.78 132.9v2.2M33.2 55.82h-1.2M114.16 132.9v1.2M33.2 51.71h-1.2M118.48 132.9v1.2M33.2 48.79h-1.2M121.54 132.9v1.2M33.2 46.53h-1.2M123.92 132.9v1.2M33.2 44.68h-1.2M125.86 132.9v1.2M33.2 43.12h-1.2M127.50 132.9v1.2M33.2 41.76h-1.2M128.92 132.9v1.2M33.2 40.57h-1.2M130.18 132.9v1.2M33.2 39.5h-2.2M131.3 132.9v2.2" stroke="#222" stroke-width="0.85" fill="none"/>
<text transform="translate(20.50,134.70) scale(1,1.08)" font-size="6.7" fill="#000" stroke="#000" stroke-width=".12">10<tspan font-size="4.7" dy="-2.4">0</tspan></text>
<text transform="translate(30.80,143.40) scale(1,1.08)" font-size="6.7" fill="#000" stroke="#000" stroke-width=".12">10<tspan font-size="4.7" dy="-2.4">0</tspan></text>
<text transform="translate(20.50,111.70) scale(1,1.08)" font-size="6.7" fill="#000" stroke="#000" stroke-width=".12">10<tspan font-size="4.7" dy="-2.4">1</tspan></text>
<text transform="translate(55.03,143.40) scale(1,1.08)" font-size="6.7" fill="#000" stroke="#000" stroke-width=".12">10<tspan font-size="4.7" dy="-2.4">1</tspan></text>
<text transform="translate(20.50,88.70) scale(1,1.08)" font-size="6.7" fill="#000" stroke="#000" stroke-width=".12">10<tspan font-size="4.7" dy="-2.4">2</tspan></text>
<text transform="translate(79.26,143.40) scale(1,1.08)" font-size="6.7" fill="#000" stroke="#000" stroke-width=".12">10<tspan font-size="4.7" dy="-2.4">2</tspan></text>
<text transform="translate(20.50,65.70) scale(1,1.08)" font-size="6.7" fill="#000" stroke="#000" stroke-width=".12">10<tspan font-size="4.7" dy="-2.4">3</tspan></text>
<text transform="translate(103.49,143.40) scale(1,1.08)" font-size="6.7" fill="#000" stroke="#000" stroke-width=".12">10<tspan font-size="4.7" dy="-2.4">3</tspan></text>
<text transform="translate(20.50,42.70) scale(1,1.08)" font-size="6.7" fill="#000" stroke="#000" stroke-width=".12">10<tspan font-size="4.7" dy="-2.4">4</tspan></text>
<text transform="translate(127.72,143.40) scale(1,1.08)" font-size="6.7" fill="#000" stroke="#000" stroke-width=".12">10<tspan font-size="4.7" dy="-2.4">4</tspan></text>
<path d="M92.9 57.7H121.7M106.9 47.7V67.6" stroke="#222" stroke-width="1.1" fill="none"/>
<text transform="translate(99.30,55.30) scale(1,1.05)" font-size="8.8" font-weight="normal" font-style="normal" text-anchor="middle" fill="#000" stroke="#000" stroke-width=".15">7</text>
<text transform="translate(99.30,67.70) scale(1,1.05)" font-size="8.8" font-weight="normal" font-style="normal" text-anchor="middle" fill="#000" stroke="#000" stroke-width=".15">78</text>
<text transform="translate(115.00,67.70) scale(1,1.05)" font-size="8.8" font-weight="normal" font-style="normal" text-anchor="middle" fill="#000" stroke="#000" stroke-width=".15">1</text>
<text transform="translate(121.80,53.00) scale(1,1.05)" font-size="11" font-weight="bold" font-style="italic" text-anchor="end" fill="#000" >14</text>
<path d="M210 116h.9M215 123.5h.9M221 106.5h.9M203 116.5h.9M207 116.5h.9M209 111.5h.9M196.5 115h.9M196 124h.9M203 116h.9M210.5 114h.9M204 111.5h.9M171 109.5h.9M188 102.5h.9M207 104h.9M198.5 100.5h.9M204.5 110h.9M197.5 104.5h.9M219.5 99h.9M211 121h.9M215.5 110.5h.9M188 120h.9M220 123h.9M195.5 124.5h.9M231.5 111.5h.9M199 93h.9M202.5 116h.9M179 111.5h.9M208 100h.9M192 92h.9M195.5 120.5h.9M216 121h.9M236 122.5h.9M197 124h.9M187 122h.9M174 116.5h.9M195.5 115.5h.9M209.5 120.5h.9M185.5 116.5h.9M190.5 113.5h.9M224 117.5h.9M220.5 108.5h.9M221 106h.9M190 128.5h.9M193.5 130.5h.9M189.5 122.5h.9M200 106.5h.9M200.5 109.5h.9M211 120.5h.9M214.5 116.5h.9M212.5 111.5h.9M216 126.5h.9M218.5 113h.9M200.5 112.5h.9M200.5 113h.9M195 107.5h.9M234 120.5h.9M203 99h.9M192.5 113h.9M193.5 118.5h.9M199.5 125.5h.9M204.5 118h.9M203.5 103h.9M205.5 119h.9M228 119h.9M195.5 113.5h.9M206.5 108h.9M224 102.5h.9M186.5 110h.9M190.5 114.5h.9M220.5 131.5h.9M189.5 117h.9M211 114h.9M192.5 99h.9M215.5 103h.9M230.5 107.5h.9M195.5 111.5h.9M192 111.5h.9M205.5 121h.9M190 125h.9M187.5 122.5h.9M193.5 107h.9M201 109h.9M227.5 106h.9M216.5 100.5h.9M220.5 102h.9M218.5 116h.9M201 106h.9M189.5 117.5h.9M215 110.5h.9M193 108.5h.9M224 113h.9M200.5 113.5h.9M194.5 131.5h.9M212 107h.9M210 115h.9M212.5 101.5h.9M198 109.5h.9M210 124.5h.9M185.5 117.5h.9M211.5 127.5h.9M184 99h.9M209 105.5h.9M210 113.5h.9M220 104h.9M191.5 101.5h.9M201 118h.9M216.5 109.5h.9M216.5 112h.9M197.5 102h.9" stroke="#222" stroke-width="0.9" stroke-opacity="0.7" fill="none"/>
<path d="M178 109h.9M183 111h.9M172.5 113.5h.9M185.5 115h.9M184 114.5h.9M172.5 116h.9M180.5 104.5h.9M171.5 116.5h.9M176 107.5h.9M171.5 112h.9M174 109.5h.9M167.5 106h.9M176 115.5h.9M171.5 106.5h.9M172.5 109h.9M167 118h.9M177 101h.9M185.5 103.5h.9M175 115.5h.9M176 109.5h.9M171 115h.9M174.5 111.5h.9M169 114.5h.9M172.5 108h.9M174 109h.9M178 112.5h.9M175 106.5h.9M178 105h.9M183 104h.9M181 115.5h.9M174.5 120h.9M168 117h.9M175.5 108.5h.9M177 109h.9M181.5 107h.9M177 111.5h.9M190 116h.9M175 111h.9M179.5 111.5h.9M172 96.5h.9M171.5 113h.9M175 106h.9M177.5 110h.9M180 113h.9M161.5 112h.9M182 115h.9M183.5 118.5h.9M183 101h.9M176 119h.9M179 113.5h.9M182.5 108h.9M172 110h.9M179 116.5h.9M176 110h.9M185 111.5h.9M173 105.5h.9M171.5 118h.9M176 113.5h.9M173.5 109.5h.9M183 105.5h.9M168.5 111.5h.9M170 115.5h.9M178 122h.9M180 120.5h.9M170.5 110h.9M182.5 109.5h.9M167 107h.9M181.5 113.5h.9M172 108h.9M174 114h.9M185 113h.9M173 107h.9M177.5 117h.9M185.5 110.5h.9M176.5 106h.9M172.5 111.5h.9M177.5 112.5h.9M170.5 112h.9M173 116h.9M173.5 117h.9M179.5 122h.9M174 111h.9M178.5 117h.9M182 99.5h.9M184 120.5h.9M168 111.5h.9M176 117.5h.9M170.5 110.5h.9M179.5 114h.9M177.5 114.5h.9M176 109h.9M173.5 109h.9M171.5 98.5h.9M168 114h.9M181 111h.9M175.5 110.5h.9M176.5 117.5h.9M178 113.5h.9M180 112.5h.9M185.5 103h.9M175.5 112.5h.9M179.5 110.5h.9M168.5 116h.9M174.5 109.5h.9M173 106h.9M173 110.5h.9M182 120h.9M177 107.5h.9M176.5 111h.9M175 102.5h.9M175 114.5h.9M173 122.5h.9M173.5 114h.9M174 106.5h.9M167.5 107.5h.9M176.5 125h.9M176 114h.9M178 100.5h.9M171 115.5h.9M172 114h.9M180 107h.9M173 109h.9M178.5 111.5h.9M173 119.5h.9M170.5 109h.9M169.5 108h.9M173.5 116h.9M174 108.5h.9M170.5 107h.9M176.5 115.5h.9M172 112.5h.9M183.5 110h.9M180 118.5h.9M172.5 118h.9M171.5 104.5h.9M175.5 106.5h.9M179.5 107.5h.9M169.5 110.5h.9M181.5 112.5h.9M180 112h.9M175.5 114h.9M178.5 105.5h.9M179.5 101.5h.9M182.5 113h.9M173 117.5h.9M185.5 112.5h.9M170 110h.9M179.5 110h.9M176.5 105.5h.9M180.5 110h.9M168.5 115h.9M176 113h.9M181 115h.9M176.5 109.5h.9M171 114.5h.9M177 118.5h.9M177 110h.9M171.5 109.5h.9M182.5 117.5h.9M173.5 112h.9M173 118h.9M175.5 113.5h.9M177.5 120.5h.9M174.5 114.5h.9M179 113h.9M177.5 116.5h.9M182 109h.9M176.5 111.5h.9M177.5 110.5h.9M177.5 113.5h.9M166.5 109.5h.9M178 107.5h.9M179 114h.9M176.5 113h.9M177 112h.9M174.5 107.5h.9M172.5 110h.9M183.5 119.5h.9M179 107.5h.9M175.5 117.5h.9M184 114h.9M175 113h.9M172.5 110.5h.9M182.5 112.5h.9M169.5 116h.9M175 116h.9M174 110h.9M178.5 111h.9M170.5 111h.9M175.5 110h.9M179.5 103.5h.9M171 111.5h.9M183 109.5h.9M175.5 105.5h.9M174 113h.9M179 119.5h.9M177.5 118h.9M182.5 114h.9M169 110.5h.9M182.5 115h.9M174 112.5h.9M178 110h.9M177 105h.9M173.5 105h.9M179 109h.9M181 120h.9M173.5 113h.9M176.5 112h.9M181.5 113h.9M178 110.5h.9M174.5 110.5h.9M178 114h.9M174.5 113.5h.9M165 116h.9M168 120.5h.9M178 119.5h.9M178.5 107h.9M177 117h.9M175 112.5h.9M179 115.5h.9M176.5 116h.9M183.5 107h.9M169.5 112.5h.9M173.5 105.5h.9M175 121h.9M167 110.5h.9M170.5 102.5h.9M181.5 117.5h.9M178.5 116.5h.9M175.5 118h.9M182.5 107h.9M171.5 113.5h.9M185.5 118h.9M176 111h.9M173.5 113.5h.9M181.5 111h.9M178.5 110.5h.9M177 118h.9M167.5 112h.9M166.5 114.5h.9M176 112h.9M181 116h.9M172.5 103h.9M176.5 117h.9M169 106.5h.9M169 111h.9M176 110.5h.9M179.5 111h.9M182 110h.9M172.5 115h.9M175.5 121.5h.9M180 109h.9M171.5 109h.9M176 106.5h.9M178 115h.9M165 108h.9M180 111.5h.9M181 108.5h.9M178.5 124h.9M178 119h.9M178.5 112h.9M182 104.5h.9M176 108h.9M171.5 108h.9M175 102h.9M172.5 109.5h.9M167 109h.9M175.5 106h.9M181 113.5h.9M162 108h.9M182 101.5h.9M176 107h.9M173 115.5h.9M177.5 117.5h.9M175 107h.9M175.5 111h.9M183 114.5h.9M177 116h.9M175 110h.9M172 103.5h.9M175.5 116h.9M179.5 108h.9M182 109.5h.9M184 119h.9M167 122h.9M183 101.5h.9M164 116h.9M175.5 114.5h.9M172.5 112.5h.9M166 111h.9M169 116h.9M177 112.5h.9M168 118.5h.9M181.5 105.5h.9M182.5 111h.9M189 120.5h.9M181.5 111.5h.9M179 111.5h.9M177.5 104.5h.9M181 114.5h.9M167 111.5h.9M180 117h.9M173.5 119.5h.9M165 109h.9M172.5 117h.9M178 117h.9M174 115h.9M183.5 110.5h.9M177.5 112h.9M178 112h.9M168.5 102.5h.9M180.5 115h.9M178 108h.9M171 109.5h.9M178.5 115h.9M169 112h.9M182 112.5h.9M176.5 110.5h.9M190.5 110h.9M180 115h.9M174 106h.9M180 108.5h.9M182.5 112h.9M171.5 122.5h.9M185.5 111h.9M173.5 116.5h.9M174.5 115.5h.9M172.5 117.5h.9M174.5 119.5h.9M185 114.5h.9M171 110.5h.9M175.5 118.5h.9M177 121.5h.9M180.5 117.5h.9M174.5 122.5h.9M177 115h.9M190 108h.9M170.5 116h.9M180.5 116h.9M174 108h.9M185 117h.9M173.5 115h.9M174.5 115h.9M176.5 110h.9M174.5 100.5h.9M180.5 112h.9M181 108h.9M186 107h.9M185 116h.9M178.5 106.5h.9M180.5 112.5h.9M182 115.5h.9M180 108h.9M181 114h.9M171.5 114h.9M179 103.5h.9M166.5 112.5h.9M173.5 110.5h.9M180.5 111.5h.9M177 102h.9M172 112h.9M179 112h.9M176.5 109h.9M169.5 105h.9M179.5 109h.9M170.5 112.5h.9M178 115.5h.9M179.5 108.5h.9M187 107h.9M176 116h.9M175 116.5h.9M170.5 108.5h.9M168.5 111h.9M167.5 109.5h.9M177.5 104h.9M168.5 105.5h.9M166.5 108.5h.9M167.5 113h.9M184 113.5h.9M181.5 115.5h.9M171.5 107.5h.9M173 116.5h.9M180.5 111h.9M179.5 120.5h.9M177.5 109.5h.9M176.5 108.5h.9M178.5 102.5h.9M184 116.5h.9M177 128h.9M178.5 121h.9M176 103.5h.9M174.5 110h.9M180 105h.9M177.5 116h.9M175.5 107.5h.9M169 105.5h.9M172.5 106.5h.9M176.5 103h.9M172 107h.9M176.5 116.5h.9M178.5 114.5h.9M184.5 106h.9M165.5 107.5h.9M178 111.5h.9M176.5 118h.9M182 114.5h.9M173 121h.9M173 99h.9M184.5 104.5h.9M178.5 113h.9M180 110.5h.9M176.5 106.5h.9M175 114h.9M175.5 109.5h.9M178 118h.9M174 117h.9M175.5 103h.9M177.5 113h.9M175.5 120h.9M179.5 120h.9M181 117h.9M177 108h.9M179 120.5h.9M180.5 113.5h.9M174.5 114h.9M172.5 111h.9M174 110.5h.9M183 109h.9M184.5 113.5h.9M170 112.5h.9M169.5 118.5h.9M160.5 116h.9M179 118h.9M183.5 111.5h.9M175 108.5h.9M172 116h.9M179.5 113h.9M182 116h.9M179.5 118.5h.9M174 115.5h.9M175 118h.9M182 108h.9M176 103h.9M177.5 97h.9M179 106.5h.9M178.5 112.5h.9M178.5 108.5h.9M164.5 107.5h.9M168.5 107h.9M187 103.5h.9M174 118.5h.9M175.5 115.5h.9M175 111.5h.9M184 113h.9M167.5 110h.9M178.5 116h.9M180 114.5h.9M176.5 108h.9M180 106.5h.9M181 109h.9M179.5 112.5h.9M178 102.5h.9M172 113h.9M170.5 113.5h.9M174 105h.9M177.5 111.5h.9M172 104.5h.9M171 113h.9M182.5 116h.9M175 107.5h.9M182 121.5h.9M176 112.5h.9M184 110h.9M173 98.5h.9M172.5 101.5h.9M170 123.5h.9M177 106h.9M173.5 111h.9M182 113.5h.9M185.5 119h.9M175.5 99.5h.9M179 114.5h.9M169.5 120.5h.9M179.5 113.5h.9M171 121.5h.9M170 106h.9M174.5 108.5h.9M183 112h.9M181.5 108h.9M177 113h.9M176 114.5h.9M177 107h.9M177 113.5h.9M179 117.5h.9M177.5 109h.9M171.5 110h.9M166.5 118.5h.9M184 117h.9M172 125h.9M173 112.5h.9M167.5 117.5h.9M173 106.5h.9M174 116h.9M177 116.5h.9M185 114h.9M182.5 110.5h.9M173.5 118h.9M167.5 118h.9M184 111.5h.9M184.5 116h.9M178 113h.9M165 111h.9M182 113h.9M177.5 111h.9M173.5 110h.9M181 117.5h.9M167 108h.9M163.5 112h.9M183.5 109h.9M173 109.5h.9M173 111.5h.9M177.5 121h.9M170 113h.9M169 111.5h.9M181.5 108.5h.9M170 108h.9M187 105h.9M172 119.5h.9M170 119h.9M171.5 105h.9M179.5 117.5h.9M175.5 117h.9M165 115h.9M183 115h.9M162 105.5h.9M168 116h.9M174.5 111h.9M168 102h.9M165.5 109.5h.9M164.5 106h.9M171.5 106h.9M170 120.5h.9M170 106.5h.9M180.5 119.5h.9M170.5 116.5h.9M187 117h.9M188 108.5h.9M177.5 105.5h.9M181 103h.9M174 113.5h.9M183 106h.9M177 122h.9M170.5 113h.9M162.5 98.5h.9M173.5 106.5h.9M178 99.5h.9M168 111h.9M183.5 117.5h.9M184 104h.9M173.5 107.5h.9M184 112h.9M176.5 121h.9M172.5 119.5h.9M167 112.5h.9M174 114.5h.9M175.5 107h.9M168.5 107.5h.9M171.5 116h.9M175 117h.9M172 114.5h.9M176 116.5h.9M162.5 108.5h.9M180.5 108.5h.9M171.5 111h.9M172.5 112h.9M182.5 120.5h.9M172.5 114h.9M172.5 106h.9M176 111.5h.9M178 108.5h.9M178.5 104h.9M176 124h.9M178 114.5h.9M169 122.5h.9M174 120h.9M178 106h.9M183 104.5h.9M173 112h.9M179 108.5h.9M189 114h.9M170 108.5h.9M171 118h.9M175.5 115h.9M169 110h.9M175.5 109h.9M176 117h.9M181 104.5h.9M176 101.5h.9M177.5 123h.9M171.5 103h.9M174 101.5h.9M175.5 102h.9M179.5 106.5h.9M179 103h.9M178 116h.9M171.5 112.5h.9M176 120h.9M177 114.5h.9M175 112h.9M175 110.5h.9M179.5 115h.9M172 113.5h.9M179.5 106h.9M170.5 119.5h.9M170.5 108h.9M179.5 117h.9M182 104h.9M171 114h.9M173.5 115.5h.9M171 109h.9M174.5 116h.9M187.5 102.5h.9M175.5 113h.9M175 109.5h.9M174.5 118.5h.9M173.5 112.5h.9M179 107h.9M193 111.5h.9M179 111h.9M176.5 113.5h.9M177.5 114h.9M176 119.5h.9M171.5 121.5h.9M169 113.5h.9M175 119.5h.9M163.5 100.5h.9M168.5 109h.9M180 103.5h.9M181.5 118.5h.9M184.5 113h.9M170 115h.9M174.5 113h.9M176.5 102.5h.9M174 111.5h.9M180.5 109h.9M174.5 109h.9M181 118h.9M177 108.5h.9M169 119h.9M169 106h.9M166 107h.9M182.5 113.5h.9M170 118.5h.9M181.5 109h.9M176.5 120h.9M178 121h.9M177.5 106.5h.9M171 112.5h.9M180.5 105.5h.9M175.5 102.5h.9M180 103h.9M180.5 118.5h.9M170 107h.9M173.5 108.5h.9M174 103h.9M181 110h.9M180.5 110.5h.9M179 116h.9M165 113h.9M173 110h.9M179.5 112h.9M172.5 107.5h.9M170.5 117.5h.9M174 122.5h.9M174.5 106h.9M177 105.5h.9M181.5 104h.9M186 109h.9M176 108.5h.9M177.5 119.5h.9M172 106h.9M167.5 109h.9M177.5 108.5h.9M183 115.5h.9M184.5 108h.9M170 104h.9M181.5 106.5h.9M176.5 107h.9M186.5 109.5h.9M178.5 115.5h.9M182.5 108.5h.9M179 112.5h.9M172 109.5h.9M171.5 114.5h.9M173.5 114.5h.9M163.5 113.5h.9M173 111h.9M177.5 115.5h.9M180 113.5h.9M174 117.5h.9M180 109.5h.9M170.5 107.5h.9M171.5 111.5h.9M183 112.5h.9M172 116.5h.9M170.5 106.5h.9M182 111h.9M177.5 105h.9M174.5 108h.9M172 106.5h.9M174.5 112h.9M164.5 112.5h.9M173 105h.9M172 100h.9M176 104.5h.9M174.5 120.5h.9M176.5 114h.9M174.5 105h.9M177.5 107h.9M187.5 113.5h.9M173 108h.9M167 108.5h.9M175 117.5h.9M177 119.5h.9M172 111.5h.9M181 116.5h.9M169 113h.9M176.5 115h.9M169.5 109.5h.9M182.5 109h.9M176.5 112.5h.9M184.5 111.5h.9M176.5 107.5h.9M180.5 108h.9M173 122h.9M172 115h.9M178 109.5h.9M167.5 117h.9M174.5 125h.9M174 112h.9M175 108h.9M177 110.5h.9M171 112h.9M171.5 119h.9M169.5 113h.9M179.5 107h.9M175 113.5h.9M177 111h.9M166 117.5h.9M169.5 111.5h.9M185 105.5h.9M181 106.5h.9M173 120h.9M170 117.5h.9M174.5 117h.9M182 111.5h.9M181.5 114.5h.9M185.5 116.5h.9M167 114.5h.9M170.5 115.5h.9M176 98.5h.9M181.5 110h.9M185 104.5h.9M169 102.5h.9M180 115.5h.9M179.5 109.5h.9M178 103.5h.9M183 113.5h.9M177.5 97.5h.9M181 112h.9M171 101.5h.9M182.5 116.5h.9M181.5 116h.9M170 111.5h.9M175.5 112h.9M178.5 108h.9M168.5 105h.9M171 102.5h.9M173 113.5h.9M177 120.5h.9M178.5 117.5h.9M184.5 121h.9M173 117h.9M180.5 105h.9M169.5 114.5h.9M171 97h.9M171.5 115h.9M168 114.5h.9M181 107.5h.9M184.5 108.5h.9M178.5 120.5h.9M177.5 106h.9M170.5 111.5h.9M174.5 102.5h.9M164 112h.9M185.5 110h.9M173 113h.9M170 103.5h.9M177 109.5h.9M172 119h.9M172.5 103.5h.9M172 109h.9M167 115h.9M167.5 108h.9M184.5 114.5h.9M169.5 108.5h.9M172.5 105h.9M184.5 109.5h.9M182 105h.9M186 111.5h.9M175.5 111.5h.9M179.5 115.5h.9M173 115h.9M174 107.5h.9M181.5 121h.9M170 116.5h.9M174 105.5h.9M175 115h.9M181 107h.9M179 118.5h.9M179.5 123h.9M173.5 107h.9M164.5 109.5h.9M172.5 122h.9M183 107.5h.9M178 105.5h.9M184.5 102h.9M179.5 114.5h.9M169 101.5h.9M184.5 116.5h.9M181.5 115h.9M184 115.5h.9M179 105h.9M183.5 109.5h.9M179.5 118h.9M176 118.5h.9M181.5 105h.9M185 126.5h.9M170.5 106h.9M174.5 106.5h.9M171 118.5h.9M179.5 116h.9M169.5 114h.9M172 107.5h.9M177.5 107.5h.9M184.5 102.5h.9M188 110.5h.9M179 110h.9M178.5 121.5h.9M175.5 119.5h.9M183.5 102.5h.9M177 124.5h.9M182 118.5h.9M176 102h.9M173.5 108h.9M178.5 109h.9M179 110.5h.9M172 117h.9M179 115h.9M180.5 121h.9M182.5 105h.9M176 102.5h.9M182 107.5h.9M173 107.5h.9M168 110.5h.9M168.5 113h.9M182 103.5h.9M186.5 110h.9M172 105h.9M178 116.5h.9M172.5 113h.9M173 104.5h.9M174.5 119h.9M168 113h.9M176.5 119.5h.9M175 120h.9M181.5 109.5h.9M169 120h.9M175.5 116.5h.9M182.5 120h.9M174.5 105.5h.9M175.5 108h.9M168.5 104h.9M172.5 118.5h.9M180.5 119h.9M177 106.5h.9M184 106.5h.9M171 108.5h.9M183 107h.9M180 111h.9M170 104.5h.9M180.5 121.5h.9M172.5 116.5h.9M174.5 112.5h.9M170 112h.9M175.5 121h.9M165.5 104.5h.9M183 118.5h.9M174 104h.9M185 116.5h.9M172.5 120h.9M182.5 119h.9M174.5 107h.9M169 108.5h.9M183 117h.9M185 115.5h.9M183 102h.9M176.5 102h.9M181.5 112h.9M169.5 104h.9M163.5 109.5h.9M186 112.5h.9M183.5 115h.9M168 113.5h.9M181.5 116.5h.9M171.5 115.5h.9M173 119h.9M164.5 117h.9M181.5 106h.9M179 109.5h.9M167.5 116.5h.9M169.5 112h.9M170 113.5h.9M169.5 116.5h.9M173.5 111.5h.9M167.5 115.5h.9M170 120h.9M160.5 114.5h.9M183 113h.9M181.5 110.5h.9M180.5 116.5h.9M168 115h.9M181.5 102.5h.9M167.5 113.5h.9M178.5 113.5h.9M180.5 104h.9M163 115h.9M188 110h.9M170.5 115h.9M192 109.5h.9M174.5 118h.9M162 118h.9M165.5 110h.9M180 107.5h.9M178 111h.9M167.5 112.5h.9M174.5 116.5h.9M183 111.5h.9M186.5 106.5h.9M180 104h.9M175.5 105h.9M181 119.5h.9M177.5 119h.9M178 102h.9M182.5 114.5h.9M186.5 114.5h.9M187 121h.9M178.5 110h.9M178 104h.9M165 111.5h.9M180 114h.9M183 106.5h.9M180 106h.9M175 105.5h.9M172 111h.9M169.5 115.5h.9M177.5 108h.9M180.5 114h.9M170 114.5h.9M184 118h.9M179 108h.9M177.5 118.5h.9M186 115.5h.9M180.5 118h.9M189 112.5h.9M171 108h.9M176.5 104h.9M181 110.5h.9M182 107h.9M165.5 112h.9M172 118h.9M171 107.5h.9M178 123.5h.9M181 112.5h.9M172 115.5h.9M171.5 105.5h.9M166 117h.9M186 103h.9M173 114.5h.9M176.5 104.5h.9M173 114h.9M163 108.5h.9M176.5 101.5h.9M174 116.5h.9M168 107h.9M186 114h.9M181.5 124h.9M169.5 121h.9M168.5 109.5h.9M179 117h.9M176 121.5h.9M173.5 102.5h.9M178.5 109.5h.9M181.5 103h.9M179.5 119h.9M187 115h.9M165 112h.9M167 115.5h.9M176.5 114.5h.9M170 109.5h.9M165 113.5h.9M176 106h.9M170.5 98.5h.9M186.5 107.5h.9M180.5 120.5h.9M173 101h.9M166 106.5h.9M176.5 100.5h.9M174 107h.9M166.5 112h.9M176 115h.9M165 109.5h.9M181 121h.9M175 109h.9M184 104.5h.9M168.5 108.5h.9M163.5 108.5h.9M168 108.5h.9M169 118h.9M179.5 104.5h.9M167 113h.9M191.5 109.5h.9M181 111.5h.9M169.5 119h.9M167 118.5h.9M184 108.5h.9M177.5 102.5h.9M187.5 113h.9M172.5 100h.9M178.5 104.5h.9M175.5 122h.9M171 107h.9M169 104.5h.9M179.5 102.5h.9M174.5 104.5h.9M161 108h.9M171.5 117h.9M185.5 114h.9M179 104.5h.9M182.5 121h.9M184.5 114h.9M180.5 113h.9M183.5 119h.9M169.5 109h.9M168.5 119.5h.9M184 111h.9M182.5 110h.9M167 105h.9M175.5 103.5h.9M168.5 118h.9M177 104h.9M180.5 123h.9M173.5 117.5h.9M184 115h.9M181.5 107.5h.9M167.5 105h.9M180.5 109.5h.9M165.5 120h.9M177 114h.9M170 111h.9M181 106h.9M173 108.5h.9M189 113h.9M179 106h.9M189 112h.9M165 119.5h.9M183.5 122.5h.9M167.5 100.5h.9M178 118.5h.9M171 116h.9M171.5 108.5h.9M171 113.5h.9M172.5 115.5h.9M174.5 104h.9M185 106h.9M177 117.5h.9M166 114.5h.9M167 116h.9M176.5 121.5h.9M175 104.5h.9M171 117.5h.9M168.5 112h.9M169.5 107.5h.9M170.5 109.5h.9M178.5 119h.9M182 116.5h.9M168.5 116.5h.9M177.5 121.5h.9M179 122.5h.9M179.5 125.5h.9M176 125.5h.9M176 123.5h.9M175 123h.9M183 127h.9M178 125.5h.9M176 118h.9M184 116h.9M181 126h.9M179 120h.9M179 126.5h.9M179.5 130.5h.9M173.5 131.5h.9M169.5 125.5h.9M175.5 123h.9M175 128.5h.9M179.5 119.5h.9M176.5 120.5h.9M173 127.5h.9M180 131.5h.9M173.5 120.5h.9M176 121h.9M176.5 125.5h.9M184 120h.9M181 129.5h.9M176.5 126.5h.9M180.5 122h.9M171 123h.9M178 121.5h.9M173 125h.9M175 128h.9M169 123.5h.9M181.5 120.5h.9M178.5 128h.9M174 119h.9M176.5 129h.9M178 131.5h.9M177.5 128.5h.9M174.5 124h.9M180 120h.9M170 131.5h.9M178.5 124.5h.9M178.5 122.5h.9M172.5 121.5h.9M179 122h.9M170 124h.9M175 126.5h.9M181.5 120h.9M174 120.5h.9M178 124h.9M183.5 120.5h.9M173 127h.9M170.5 118h.9M180.5 124h.9M175.5 125h.9M177 123.5h.9M177.5 124.5h.9M176 126h.9M177 115.5h.9M180.5 123.5h.9M187 125h.9M170.5 117h.9M173.5 123.5h.9M175.5 124.5h.9M184.5 122h.9M175.5 123.5h.9M177 131.5h.9M175.5 126.5h.9M175.5 127h.9M180.5 115.5h.9M173.5 124.5h.9M179 124.5h.9M175 124.5h.9M172 123.5h.9M177 121h.9M178.5 127.5h.9M186 119h.9M179 125h.9M180 117.5h.9M168 121.5h.9M179 128.5h.9M180 127h.9M176 129h.9M175.5 127.5h.9M179.5 126.5h.9M171.5 124h.9M180 121h.9M173.5 126h.9M177.5 125h.9M180.5 125.5h.9M173.5 128.5h.9M175.5 122.5h.9M178.5 131.5h.9M178.5 126.5h.9M172.5 127.5h.9M178 120.5h.9M177.5 126h.9M169.5 119.5h.9M177.5 124h.9M179.5 131.5h.9M181 129h.9M181.5 131.5h.9M180 124.5h.9M175.5 128h.9M181 119h.9M179.5 129.5h.9M171.5 126h.9M173.5 126.5h.9M181 127.5h.9M177.5 122.5h.9M175.5 131.5h.9M185 125h.9M185.5 121h.9M176 122.5h.9M176 123h.9M171.5 127h.9M172 128.5h.9M177 125.5h.9M174.5 123h.9M175 127h.9M174.5 126h.9M183 122h.9M171 126h.9M175 127.5h.9M181.5 125h.9M175 129.5h.9M174.5 127.5h.9M177.5 115h.9M178 126h.9M176 126.5h.9M185.5 114.5h.9M173.5 127.5h.9M174.5 117.5h.9M181.5 118h.9M180.5 117h.9M171.5 122h.9M172 121.5h.9M177.5 128h.9M183 120.5h.9M181 125.5h.9M184 122h.9M167.5 120.5h.9M176.5 124.5h.9M181.5 127h.9M175 124h.9M180 118h.9M172 124h.9M177.5 131.5h.9M174 123.5h.9M176 131h.9M181.5 130h.9M182 117.5h.9M172 120.5h.9M178.5 123.5h.9M176 127.5h.9M175.5 129.5h.9M182 123.5h.9M174 127.5h.9M178.5 127h.9M180.5 129h.9M179 127.5h.9M171 126.5h.9M178 128h.9M177 130.5h.9M175 125.5h.9M172 127h.9M172 122h.9M179 121h.9M163 119h.9M170 110.5h.9M178.5 125h.9M184.5 118h.9M173 126h.9M177.5 127h.9M173.5 125h.9M182.5 123h.9M174.5 122h.9M181 120.5h.9M180 123h.9M177 120h.9M180.5 127.5h.9M182.5 121.5h.9M176.5 124h.9M182 125h.9M173 125.5h.9M180.5 130.5h.9M175.5 129h.9M176 122h.9M183 129h.9M182.5 122h.9M181 126.5h.9M175.5 119h.9M175 119h.9M174 125h.9M174.5 123.5h.9M172.5 123h.9M177.5 123.5h.9M174 118h.9M177 127.5h.9M180.5 131.5h.9M180 124h.9M180 119.5h.9M183 131.5h.9M172.5 120.5h.9M173 126.5h.9M177.5 126.5h.9M177.5 120h.9M183 128h.9M181.5 121.5h.9M176.5 126h.9M177 126.5h.9M176.5 128.5h.9M175 121.5h.9M173 124.5h.9M182.5 122.5h.9M182.5 129h.9M182.5 124h.9M181 123h.9M174 122h.9M174 129h.9M171.5 125.5h.9M171.5 121h.9M178 117.5h.9M174 129.5h.9M175 125h.9M179 119h.9M176 120.5h.9M172.5 119h.9M172.5 127h.9M178.5 129h.9M176.5 122h.9M175.5 120.5h.9M179 125.5h.9M180.5 127h.9M171 131.5h.9M178 126.5h.9M173 124h.9M176.5 130h.9M175.5 130h.9M178.5 118.5h.9M174 125.5h.9M176.5 122.5h.9M173.5 125.5h.9M182 110.5h.9M171 120.5h.9M182.5 123.5h.9M183.5 126.5h.9M174.5 121h.9M175.5 125.5h.9M172 131.5h.9M171.5 125h.9M180.5 126.5h.9M180 125.5h.9M176.5 131.5h.9M176.5 127h.9M181 113h.9M171.5 123h.9M174 128h.9M178 122.5h.9M180.5 129.5h.9M168.5 122h.9M176.5 128h.9M174.5 131.5h.9M177.5 127.5h.9M178 123h.9M174.5 121.5h.9M181.5 128h.9M179 129.5h.9M181.5 119.5h.9M182 126.5h.9M182 120.5h.9M170 107.5h.9M172.5 129h.9M177.5 129h.9M178 130h.9M183 120h.9M177 127h.9M178.5 122h.9M183 123.5h.9M183.5 117h.9M182 119.5h.9M174 123h.9M176 125h.9M169 123h.9M183.5 124.5h.9M178 120h.9M181 127h.9M179 126h.9M176 131.5h.9M174 127h.9M177 126h.9M176 128h.9M180 119h.9M180 126.5h.9M171.5 129h.9M179 124h.9M172 126.5h.9M176 129.5h.9M177.5 122h.9M179.5 121h.9M177.5 129.5h.9M177 119h.9M180 125h.9M178.5 130h.9M170 122h.9M176 128.5h.9M178.5 114h.9M182 122.5h.9M174 124h.9M178.5 131h.9M167 127.5h.9M181.5 119h.9M179.5 122.5h.9M169.5 123.5h.9M172.5 123.5h.9M173 120.5h.9M186 128h.9M175 103h.9M180 122h.9M178.5 128.5h.9M174.5 124.5h.9M179 131.5h.9M174 121.5h.9M181 131.5h.9M182 126h.9M180 127.5h.9M175.5 131h.9M169.5 127h.9M174 131.5h.9M182 121h.9M180 122.5h.9M179.5 121.5h.9M183 117.5h.9M178 127h.9M184.5 123.5h.9M178 127.5h.9M173.5 124h.9M172 130h.9M184 121.5h.9M174 130.5h.9M174.5 129h.9M182 131.5h.9M178 125h.9M179.5 131h.9M173.5 106h.9M173.5 128h.9M176.5 119h.9M182.5 129.5h.9M172.5 126h.9M181.5 123h.9M170 118h.9M177.5 125.5h.9M181 124h.9M170.5 120.5h.9M178.5 125.5h.9M179.5 129h.9M176.5 131h.9M173 128.5h.9M173.5 127h.9M180.5 128.5h.9M173.5 121.5h.9M179.5 126h.9M177.5 131h.9M184.5 131.5h.9M177 128.5h.9M181 123.5h.9M171.5 128h.9M186 122h.9M180 128.5h.9M182 129.5h.9M185 108.5h.9M169 125.5h.9M175 130.5h.9M180 116.5h.9M185.5 120.5h.9M170 117h.9M183 116h.9M178.5 119.5h.9M175.5 126h.9M170 124.5h.9M179 127h.9M183 128.5h.9M186.5 121h.9M186 121h.9M179 128h.9M177 129.5h.9M181.5 126.5h.9M179 123h.9M178.5 120h.9M185 121h.9M181 122h.9M180.5 114.5h.9M176 124.5h.9M175 123.5h.9M172 125.5h.9M180.5 124.5h.9M181.5 125.5h.9M176 127h.9M170 128.5h.9M179 123.5h.9M170.5 114h.9M179.5 116.5h.9M174.5 130.5h.9M174.5 127h.9M179.5 124.5h.9M178.5 123h.9M171.5 131h.9M181 130.5h.9M173.5 123h.9M168.5 117.5h.9M181 122.5h.9M175 122h.9M178 124.5h.9M173 128h.9M175.5 124h.9M176 130h.9M183 121h.9M170.5 120h.9M172.5 124h.9M170.5 123.5h.9M183.5 128.5h.9M180.5 125h.9M181.5 122.5h.9M182.5 117h.9M170.5 119h.9M186.5 116.5h.9M180 130.5h.9M172.5 130h.9M173.5 130h.9M181 128h.9M171.5 128.5h.9M179.5 128.5h.9M181.5 123.5h.9M171 111h.9M185.5 127.5h.9M176.5 130.5h.9M180.5 120h.9M179.5 124h.9M188.5 119h.9M176.5 123h.9M175 131.5h.9M188.5 115h.9M182.5 125.5h.9M168 124.5h.9M174 126h.9M168 131.5h.9M173.5 118.5h.9M179 121.5h.9M170.5 125h.9M169.5 115h.9M180 121.5h.9M185 124.5h.9M176.5 123.5h.9M183.5 125.5h.9M179.5 127.5h.9M178 128.5h.9M171 127.5h.9M175 120.5h.9M171 130h.9M165 123h.9M186.5 105.5h.9M177 122.5h.9M175 130h.9M181 125h.9M178 106.5h.9M168.5 120.5h.9M173.5 103.5h.9M170 125h.9M164 113h.9M162.5 128h.9M164 106.5h.9M162 109.5h.9M170.5 104h.9M166 118.5h.9M163 108h.9M163 129h.9M165 120h.9M162 114.5h.9M160.5 117.5h.9M166.5 124.5h.9M166.5 108h.9M169.5 127.5h.9M166.5 118h.9M166 123.5h.9M160.5 127h.9M187.5 108h.9M168 122h.9M169.5 111h.9M168 119h.9M162 127.5h.9M164.5 122.5h.9M164.5 121.5h.9M163 118h.9M174.5 125.5h.9M163.5 118h.9M163 127.5h.9M169 115h.9M170.5 121h.9M188 124.5h.9M169.5 124.5h.9M164 104h.9M175 131h.9M161.5 118h.9M165.5 109h.9M163 128h.9M167 102.5h.9M171.5 124.5h.9M164 122h.9M168 120h.9M166 108h.9M163.5 125h.9M168.5 128h.9M163.5 107h.9M164 107.5h.9M163 104h.9M178.5 102h.9M168.5 114h.9M166 109.5h.9M185 112.5h.9M164 107h.9M165.5 108h.9M162 106.5h.9M165 121.5h.9M169 125h.9M183.5 127.5h.9M166.5 110h.9M165.5 111.5h.9M183 118h.9M171 121h.9M180 126h.9M166.5 110.5h.9M182 122h.9M184 102.5h.9M170 128h.9M171 122h.9M168 128.5h.9M162.5 123h.9M165 104.5h.9M160 117.5h.9M170 126.5h.9M161.5 119h.9M184 123.5h.9M184 103.5h.9M186 113h.9M165.5 129h.9M169.5 117h.9M166.5 119.5h.9M182 125.5h.9M167 124h.9M160 114.5h.9M161.5 109h.9M166 122h.9M167 123.5h.9M163 124.5h.9M169 117.5h.9M162 123h.9M181 121.5h.9M165.5 123h.9M165 119h.9M158.5 113.5h.9M168 126.5h.9M170 127h.9M167 120h.9M166.5 107.5h.9M186.5 109h.9M166 119h.9M171.5 110.5h.9M164.5 115h.9M163 117h.9M183 126.5h.9M168 108h.9M163 120.5h.9M177 125h.9M171.5 119.5h.9M173 123h.9M184 129.5h.9M175.5 128.5h.9M177 129h.9M166 120h.9M184 131h.9M184.5 117h.9M187 121.5h.9M171.5 107h.9M164.5 113h.9M163 117.5h.9M185 117.5h.9M166.5 117.5h.9M172.5 125h.9M183.5 127h.9M169 103.5h.9M168 125.5h.9M162 127h.9M171 127h.9M161 108.5h.9M163 106h.9M182.5 102h.9M183 108.5h.9M179.5 105.5h.9M159 99h.9M166.5 117h.9M168 117.5h.9M166 110.5h.9M168 109.5h.9M163 111.5h.9M166.5 115h.9M162.5 117h.9M165 123.5h.9M163 126h.9M158.5 118.5h.9M167.5 118.5h.9M166 123h.9M167 109.5h.9M164 117.5h.9M165.5 105.5h.9M173 118.5h.9M168.5 118.5h.9M159 123h.9M169.5 122h.9M159.5 120h.9M170.5 128h.9M169.5 126h.9M172.5 101h.9M164.5 124.5h.9M166.5 113.5h.9M166 108.5h.9M161.5 126h.9M167 122.5h.9M166 118h.9M162 122.5h.9M168.5 120h.9M165.5 121.5h.9M161.5 126.5h.9M166.5 121h.9M173 123.5h.9M164.5 110.5h.9M162.5 120h.9M166.5 130h.9M166.5 109h.9M171.5 120h.9M161.5 122.5h.9M164 122.5h.9M181.5 122h.9M167.5 126h.9M169.5 117.5h.9M167.5 114.5h.9M162.5 125h.9M167 116.5h.9M177 103.5h.9M181 102h.9M182 119h.9M175 122.5h.9M181 105h.9M163.5 107.5h.9M163.5 122.5h.9M171.5 118.5h.9M166.5 105h.9M168 110h.9M164.5 127h.9M188 105h.9M162 113.5h.9M173.5 121h.9M164 118.5h.9M163 107h.9M179 131h.9M161.5 116.5h.9M173.5 122.5h.9M178.5 105h.9M166 104h.9M167.5 119h.9M164 119h.9M168 126h.9M162 108.5h.9M165.5 107h.9M185.5 123h.9M161.5 106h.9M184 105.5h.9M163.5 121h.9M168.5 103h.9M167.5 128h.9M160 116h.9M167 111h.9M166.5 126h.9M163.5 110h.9M182 130h.9M168 119.5h.9M169.5 101.5h.9M170.5 121.5h.9M182.5 125h.9M163 122h.9M163 116.5h.9M169 108h.9M159 119.5h.9M159 105.5h.9M168.5 123h.9M168.5 130h.9M165.5 124h.9M174 126.5h.9M184 126.5h.9M162 118.5h.9M172.5 122.5h.9M169.5 122.5h.9M166.5 123h.9M165.5 113h.9M163 115.5h.9M181.5 127.5h.9M184.5 123h.9M166.5 131.5h.9M168.5 106h.9M168 131h.9M167 113.5h.9M166 113h.9M183.5 129.5h.9M169.5 106.5h.9M169 127.5h.9M166.5 129h.9M167.5 121h.9M172 128h.9M174.5 128.5h.9M182 124.5h.9M163 111h.9M168.5 124h.9M162.5 116h.9M184 109h.9M169 120.5h.9M160 109.5h.9M160 111.5h.9M169 109.5h.9M167.5 123h.9M168 112h.9M166.5 125h.9M170.5 122h.9M165 110.5h.9M169.5 106h.9M179.5 127h.9M170.5 129h.9M183.5 131.5h.9M164 111.5h.9M186.5 115.5h.9M165 124.5h.9M163.5 104h.9M166 126.5h.9M168.5 110h.9M168 107.5h.9M168.5 129.5h.9M162.5 115.5h.9M166.5 127h.9M161 109.5h.9M169 121h.9M188.5 108.5h.9M167.5 111h.9M162 112.5h.9M164 126h.9M159 111.5h.9M167 127h.9M164.5 114.5h.9M165.5 114.5h.9M164 118h.9M166 116.5h.9M174 119.5h.9M168.5 119h.9M167 128.5h.9M181 103.5h.9M162 109h.9M172.5 121h.9M186 124h.9M164.5 118.5h.9M162 120.5h.9M167 121.5h.9M162.5 126h.9M163.5 120.5h.9M160.5 107h.9M167 123h.9M174 103.5h.9M163 127h.9M167.5 111.5h.9M164.5 114h.9M172.5 102h.9M182.5 115.5h.9M167 114h.9M186.5 112.5h.9M168.5 123.5h.9M169.5 126.5h.9M177.5 103.5h.9M167 104h.9M170.5 114.5h.9M172 120h.9M183 123h.9M166 129.5h.9M178.5 130.5h.9M161.5 105.5h.9M164 109.5h.9M166.5 122h.9M167.5 104h.9M168 122.5h.9M172 123h.9M162 110.5h.9M164.5 131.5h.9M180 104.5h.9M167.5 120h.9M162.5 117.5h.9M170 121h.9M167.5 106.5h.9M164 119.5h.9M181 124.5h.9M184.5 120h.9M168 109h.9M162 111h.9M162 113h.9M173 103h.9M163 120h.9M169 127h.9M169 129.5h.9M184 128h.9M161.5 111.5h.9M162 107.5h.9M167.5 122.5h.9M165.5 112.5h.9M183.5 111h.9M159 129h.9M159 120h.9M168 112.5h.9M184 108h.9M160.5 109h.9M173.5 122h.9M186.5 127h.9M159.5 120.5h.9M161.5 115h.9M164 111h.9M171.5 130h.9M164 125h.9M165 130.5h.9M178.5 106h.9M166.5 123.5h.9M158.5 124h.9M166 105h.9M159.5 126.5h.9M161 124.5h.9M170.5 123h.9M161.5 113.5h.9M160 105h.9M167.5 131.5h.9M162.5 112h.9M166 122.5h.9M166.5 105.5h.9M185 130h.9M161.5 125h.9M169.5 129.5h.9M172.5 124.5h.9M168.5 117h.9M182 123h.9M169.5 128h.9M164.5 118h.9M169 122h.9M167.5 127.5h.9M181.5 126h.9M159.5 111.5h.9M166.5 116h.9M165.5 115h.9M165.5 108.5h.9M164 109h.9M183.5 123h.9M182 114h.9M158.5 116.5h.9M162 120h.9M158.5 106.5h.9M163 131h.9M166 119.5h.9M164.5 117.5h.9M164.5 107h.9M187.5 127.5h.9M185 106.5h.9M170.5 127h.9M176.5 127.5h.9M165 120.5h.9M165.5 116h.9M172.5 107h.9M184.5 122.5h.9M167 117h.9M169 114h.9M170 126h.9M162.5 109h.9M163 118.5h.9M165.5 125.5h.9M160.5 118h.9M168.5 115.5h.9M172 127.5h.9M161.5 119.5h.9M167.5 108.5h.9M185 129h.9M163 121h.9M175 118.5h.9M169 121.5h.9M166 127.5h.9M165.5 114h.9M185 107.5h.9M167.5 123.5h.9M168.5 126h.9M161 118h.9M168 115.5h.9M165.5 106.5h.9M185 129.5h.9M183.5 130.5h.9M164.5 115.5h.9M185.5 131h.9M168 127h.9M171.5 120.5h.9M165 125.5h.9M162 126h.9M166 121.5h.9M184.5 121.5h.9M165.5 102h.9M165.5 127.5h.9M161 115.5h.9M161.5 116h.9M166 120.5h.9M161 119.5h.9M168 123h.9M172 118.5h.9M165 117h.9M159 114h.9M164.5 106.5h.9M183.5 104h.9M183.5 126h.9M170 116h.9M171 122.5h.9M182.5 130.5h.9M159 129.5h.9M158.5 120.5h.9M163.5 122h.9M159.5 104.5h.9M162.5 122.5h.9M167.5 127h.9M163.5 124.5h.9M160.5 106.5h.9M168 118h.9M180 129.5h.9M190.5 111h.9M167 119.5h.9M168 128h.9M170 114h.9M183 124.5h.9M164.5 124h.9M165 122.5h.9M167.5 119.5h.9M164.5 110h.9M170.5 124.5h.9M164.5 126.5h.9M165 116.5h.9M165.5 118h.9M171.5 127.5h.9M163.5 117h.9M165 124h.9M162.5 130h.9M184 110.5h.9M164 116.5h.9M164 129.5h.9M162.5 118.5h.9M171 128.5h.9M162 112h.9M162.5 126.5h.9M165.5 126.5h.9M172.5 126.5h.9M170.5 127.5h.9M165 122h.9M162.5 124.5h.9M164.5 105.5h.9M160.5 108.5h.9M179 101h.9M162 117.5h.9M182.5 131.5h.9M163 121.5h.9M187 128h.9M167.5 126.5h.9M165 126h.9M166.5 121.5h.9M188 81.5h.9M177 83h.9M187 94h.9M181.5 76.5h.9M181.5 85.5h.9M173 81.5h.9M173 78.5h.9M176.5 80.5h.9M175.5 76.5h.9M170 86h.9M187.5 86.5h.9M188.5 78h.9M179 85.5h.9M177 84h.9M174.5 69.5h.9M170.5 83h.9M178 80.5h.9M176 79h.9M179 77.5h.9M181 72.5h.9M187 78h.9M176 72h.9M177 87h.9M174.5 78.5h.9M178 88h.9M171 82h.9M184.5 85h.9M179 80.5h.9M169.5 81.5h.9M176 84.5h.9M182 82h.9M179.5 86.5h.9M173 77.5h.9M179.5 79.5h.9M178 76.5h.9M173 92h.9M178 92h.9M170 84h.9M174 86h.9M169.5 82h.9M181 82.5h.9M181.5 94.5h.9M173.5 86h.9M183.5 82h.9M168 86h.9M175.5 87.5h.9M179 81h.9M179 83h.9M173.5 87.5h.9M166 85h.9M172.5 81.5h.9M173 84.5h.9M175 81.5h.9M180.5 86h.9M177.5 78h.9M177 80h.9M170.5 83.5h.9M177.5 80h.9M181 77.5h.9M178 89h.9M172.5 76h.9M172.5 79.5h.9M169 89.5h.9M170 80.5h.9M165 81.5h.9M177.5 76h.9M176 84h.9M175.5 74h.9M189 88h.9M176 81.5h.9M180 87h.9M169 81h.9M174 77h.9M172.5 80h.9M176.5 91h.9M170 85h.9M172.5 83h.9M172.5 90.5h.9M177 75h.9M169 82h.9M176.5 89h.9M178.5 79h.9M176.5 86h.9M176.5 91.5h.9M177 85h.9M180.5 82.5h.9M178.5 81h.9M176 77h.9M179.5 79h.9M172 73.5h.9M180 83h.9M169.5 86h.9M183 95h.9M173 86h.9M174.5 92.5h.9M178.5 80.5h.9M166 86h.9M173.5 80.5h.9M179.5 88.5h.9M177.5 88.5h.9M170 83.5h.9M182.5 81.5h.9M185.5 82.5h.9M171.5 79.5h.9M173.5 92.5h.9M169.5 84h.9M172.5 92h.9M175 79h.9M187 94.5h.9M185.5 83.5h.9M174 90h.9M173.5 92h.9M179 85h.9M174 79h.9M175 92.5h.9M175 83.5h.9M176 78h.9M177.5 77.5h.9M174.5 82h.9M172 72.5h.9M179 82.5h.9M176.5 81.5h.9M176 92h.9M166 88.5h.9M175.5 83h.9M172 71.5h.9M170.5 78h.9M173.5 81.5h.9M171 87.5h.9M165.5 75h.9M180.5 76h.9M174.5 91.5h.9M171.5 81.5h.9M175.5 78.5h.9M165.5 84.5h.9M183 80h.9M181.5 81.5h.9M175 84.5h.9M177.5 81h.9M172.5 80.5h.9M174.5 84h.9M173 80.5h.9M178.5 92h.9M170 86.5h.9M178.5 91h.9M170.5 81h.9M176.5 83.5h.9M182 86.5h.9M185 88h.9M168 82h.9M179 94.5h.9M183.5 78.5h.9M176 87h.9M183 83h.9M171.5 83h.9M176 83.5h.9M187.5 96.5h.9M179.5 80.5h.9M180.5 74.5h.9M175 90h.9M175 86h.9M180.5 86.5h.9M176.5 88h.9M184.5 94h.9M172 80h.9M171.5 82.5h.9M178 88.5h.9M168.5 82.5h.9M183 77.5h.9M185.5 81h.9M169.5 88.5h.9M174 67h.9M180 86h.9M173.5 71h.9M178.5 96.5h.9M167.5 90.5h.9M175.5 92.5h.9M179 93h.9M178.5 84.5h.9M176.5 79.5h.9M174.5 87h.9M171 82.5h.9M175 87h.9M177.5 81.5h.9M174.5 85h.9M170 80h.9M176 83h.9M181.5 86.5h.9M179 90h.9M174.5 79.5h.9M169 88.5h.9M177 92h.9M182 84h.9M175.5 79.5h.9M183 84.5h.9M181 87h.9M186 84h.9M173.5 96h.9M181.5 89.5h.9M177 85.5h.9M184 86.5h.9M173.5 96.5h.9M179.5 85.5h.9M171.5 79h.9M176 89.5h.9M175 81h.9M173.5 83.5h.9M172.5 96.5h.9M169 80h.9M178 89.5h.9M176.5 82h.9M176.5 76.5h.9M175.5 80.5h.9M172.5 83.5h.9M178 82h.9M177.5 83h.9M178.5 90h.9M170 84.5h.9M172.5 82h.9M185.5 90h.9M179 76.5h.9M170.5 87h.9M181 88h.9M180 82h.9M179.5 86h.9M177 76h.9M176 80.5h.9M177.5 76.5h.9M179.5 78.5h.9M167 82h.9M173 73h.9M183 81h.9M187 89.5h.9M170.5 86h.9M182 91h.9M168.5 69h.9M182.5 69.5h.9M175 93.5h.9M179 77h.9M172 88.5h.9M171 86.5h.9M169.5 86.5h.9M166.5 87h.9M159.5 89h.9M170.5 87.5h.9M176.5 85.5h.9M174 87h.9M178.5 85.5h.9M173.5 85h.9M179.5 84.5h.9M178.5 83h.9M174 85.5h.9M170 88h.9M166 83.5h.9M179.5 83.5h.9M176 93.5h.9M166.5 94h.9M172 85h.9M174 80.5h.9M184 92h.9M181.5 76h.9M179.5 91h.9M168.5 81.5h.9M174 78.5h.9M169 85h.9M182.5 78.5h.9M182.5 85h.9M168 81h.9M181 83.5h.9M180 82.5h.9M170.5 80h.9M177.5 85h.9M177.5 79h.9M174 81h.9M171.5 90.5h.9M170.5 81.5h.9M177 87.5h.9M173 88.5h.9M163.5 77.5h.9M174.5 88h.9M167 77h.9M177 86h.9M183 76h.9M177.5 82h.9M174.5 83.5h.9M180.5 81h.9M165.5 85h.9M173.5 87h.9M181.5 84.5h.9M166.5 91h.9M170.5 88h.9M178.5 86h.9M177 78h.9M181 80.5h.9M177.5 84.5h.9M181.5 87.5h.9M166.5 76.5h.9M190.5 74h.9M178 84.5h.9M188 70.5h.9M177 82h.9M183 75h.9M179 84.5h.9M177 77h.9M175.5 89.5h.9M184 85.5h.9M180.5 83h.9M185 78.5h.9M168.5 79h.9M166.5 82h.9M179 88.5h.9M185 83h.9M170.5 75h.9M170.5 74.5h.9M171.5 85h.9M175.5 82.5h.9M181.5 88.5h.9M175.5 86.5h.9M168 90h.9M166.5 88.5h.9M177.5 85.5h.9M178 73.5h.9M172.5 87.5h.9M179.5 77.5h.9M173 86.5h.9M185 86.5h.9M172 82h.9M174 73h.9M173 79.5h.9M180 93.5h.9M171.5 84.5h.9M172 83h.9M168.5 78h.9M177.5 91h.9M185.5 87h.9M179.5 90.5h.9M178.5 78h.9M174.5 92h.9M168 82.5h.9M168.5 89h.9M170 91.5h.9M174 83.5h.9M171.5 90h.9M170 92.5h.9M173.5 83h.9M175 78.5h.9M178 91h.9M183 89.5h.9M174 84h.9M171.5 74h.9M182 74h.9M177 82.5h.9M172.5 82.5h.9M170.5 93h.9M171.5 87.5h.9M172.5 72.5h.9M170 89.5h.9M177.5 90.5h.9M170.5 84h.9M187 75h.9M170.5 89h.9M180.5 82h.9M171 78.5h.9M187.5 86h.9M177 91h.9M182.5 78h.9M176 82h.9M179.5 83h.9M181.5 84h.9M178.5 77.5h.9M176 89h.9M176 85h.9M172.5 99h.9M179 95.5h.9M178.5 80h.9M169.5 79.5h.9M170.5 76.5h.9M180.5 79h.9M177 83.5h.9M184 85h.9M184 82h.9M180 84h.9M175.5 79h.9M171.5 78.5h.9M170.5 91h.9M180.5 71h.9M167.5 87.5h.9M182 87.5h.9M172.5 87h.9M177 91.5h.9M161.5 82.5h.9M180 80.5h.9M163.5 81.5h.9M174 90.5h.9M171 92.5h.9M181 88.5h.9M170 82.5h.9M178.5 81.5h.9M165.5 90h.9M175.5 85.5h.9M174.5 89h.9M178.5 95.5h.9M182.5 86h.9M180 75.5h.9M182 85.5h.9M180.5 94.5h.9M166 86.5h.9M175.5 82h.9M180.5 85h.9M181 79.5h.9M175 82.5h.9M175.5 77.5h.9M168.5 79.5h.9M181.5 81h.9M175 85.5h.9M162.5 93h.9M176 82.5h.9M180 84.5h.9M178.5 87.5h.9M173 89h.9M170 81h.9M175.5 93.5h.9M177 84.5h.9M174.5 81.5h.9M180.5 80.5h.9M178 93h.9M177.5 83.5h.9M179 93.5h.9M176 74.5h.9M174.5 84.5h.9M176.5 90h.9M176 88.5h.9M169.5 77.5h.9M174.5 76h.9M181 90.5h.9M179.5 81h.9M166.5 86h.9M177 78.5h.9M184 90h.9M178.5 88h.9M171.5 83.5h.9M178 90h.9M165.5 92h.9M173 87.5h.9M166 82.5h.9M172 79.5h.9M174 85h.9M181 78.5h.9M178 85h.9M182.5 83h.9M171 84h.9M173.5 76h.9M171 92h.9M181 83h.9M181 74h.9M178.5 94h.9M168 93h.9M189.5 87h.9M179.5 87h.9M181.5 79h.9M184 86h.9M173 92.5h.9M174 82.5h.9M169 78.5h.9M171 91.5h.9M182 79h.9M172.5 78.5h.9M181.5 80h.9M171.5 78h.9M175 95h.9M169 84h.9M173 84h.9M184.5 82h.9M169 82.5h.9M180.5 93.5h.9M177 81.5h.9M172 94h.9M172 78h.9M175.5 88h.9M179.5 89.5h.9M168.5 76.5h.9M167 88h.9M181 78h.9M180 92.5h.9M173.5 77h.9M178.5 84h.9M162.5 93.5h.9M181 91.5h.9M174 68.5h.9M177.5 71.5h.9M169 78h.9M180.5 85.5h.9M172 91.5h.9M183 82h.9M177.5 92h.9M169.5 83.5h.9M175 83h.9M175 76h.9M168.5 80.5h.9M180.5 83.5h.9M171 93.5h.9M166.5 93.5h.9M172 84.5h.9M176 86.5h.9M184 91h.9M175 76.5h.9M184.5 83.5h.9M186.5 88.5h.9M186 78.5h.9M177 93h.9M183 87h.9M183 86h.9M182.5 85.5h.9M183 86.5h.9M181 82h.9M178.5 78.5h.9M182.5 83.5h.9M175 82h.9M174.5 81h.9M169.5 75.5h.9M164 76.5h.9M168.5 80h.9M187 83h.9M171.5 88.5h.9M170.5 82.5h.9M168.5 85.5h.9M175.5 81h.9M172.5 86.5h.9M188 91h.9M174.5 86.5h.9M163.5 94h.9M176 87.5h.9M173.5 70h.9M172 81h.9M171 89.5h.9M167.5 77.5h.9M175.5 90h.9M184 84h.9M172 86h.9M173.5 73.5h.9M184.5 85.5h.9M177.5 79.5h.9M173 82.5h.9M171.5 76.5h.9M174.5 83h.9M183.5 86h.9M169 76.5h.9M172 87h.9M178 87h.9M179.5 93h.9M175.5 83.5h.9M183 89h.9M174.5 76.5h.9M176 94h.9M184 80h.9M176 88h.9M183.5 86.5h.9M176.5 81h.9M173 75h.9M178 70h.9M181 92h.9M182.5 86.5h.9M183.5 92.5h.9M170 69.5h.9M179 79.5h.9M173 91.5h.9M182 83h.9M177.5 82.5h.9M183.5 89h.9M164.5 79.5h.9M170 77h.9M169.5 90.5h.9M184.5 84.5h.9M175.5 73.5h.9M183 87.5h.9M170.5 94h.9M187.5 84h.9M170 87.5h.9M171.5 85.5h.9M167 72.5h.9M176.5 88.5h.9M173 74h.9M174 89h.9M171.5 98h.9M170 87h.9M181.5 85h.9M167.5 89h.9M175.5 100.5h.9M171.5 87h.9M187 83.5h.9M176 81h.9M172 85.5h.9M178 83h.9M182 77h.9M174 77.5h.9M174.5 89.5h.9M160.5 89.5h.9M169.5 78.5h.9M170 75h.9M174.5 90h.9M175.5 70.5h.9M166 79.5h.9M167.5 84.5h.9M183.5 83h.9M170.5 73h.9M173.5 84h.9M178.5 82h.9M175.5 78h.9M165.5 92.5h.9M177 93.5h.9M176.5 84h.9M181.5 89h.9M173.5 78h.9M178 79.5h.9M178 83.5h.9M183 91.5h.9M171 81.5h.9M176 96.5h.9M168.5 84.5h.9M181 93h.9M172 91h.9M174 96.5h.9M183 79.5h.9M174.5 86h.9M176 92.5h.9M186 90.5h.9M185 81h.9M164.5 89.5h.9M184 77h.9M169 90.5h.9M179 89.5h.9M180 83.5h.9M184 81h.9M175.5 93h.9M179 97.5h.9M189 80h.9M176.5 86.5h.9M168 87h.9M183.5 87.5h.9M185 73h.9M181.5 82h.9M166.5 78h.9M164.5 82.5h.9M169.5 87h.9M180 81.5h.9M175 88.5h.9M169.5 85.5h.9M182.5 89h.9M174 86.5h.9M168.5 89.5h.9M175.5 98h.9M179.5 75h.9M182 85h.9M184 83h.9M180.5 79.5h.9M172 71h.9M180 88.5h.9M182 80h.9M174 94h.9M179.5 75.5h.9M181.5 82.5h.9M173.5 79.5h.9M170.5 79h.9M167 89.5h.9M172 89.5h.9M178 85.5h.9M181 89h.9M172.5 81h.9M178 77h.9M182 94.5h.9M175 80.5h.9M174.5 80h.9M183.5 85h.9M174.5 82.5h.9M181.5 77h.9M173.5 84.5h.9M178 80h.9M168.5 85h.9M173 83.5h.9M165 86.5h.9M165.5 87h.9M174.5 93h.9M174 83h.9M180 85.5h.9M174 76h.9M176 80h.9M182 88h.9M177 80.5h.9M175.5 84h.9M177 81h.9M172.5 73.5h.9M179.5 78h.9M182 89h.9M178 79h.9M168.5 93.5h.9M177 92.5h.9M181.5 79.5h.9M173 97.5h.9M181.5 78.5h.9M175.5 75h.9M179 86h.9M178.5 75.5h.9M171.5 86.5h.9M185.5 85.5h.9M173.5 72h.9M182 72h.9M178.5 89h.9M181.5 88h.9M171 80h.9M171.5 92h.9M182.5 97h.9M182 93.5h.9M166.5 67.5h.9M177 71.5h.9M174 87.5h.9M166 91h.9M169 80.5h.9M172 90.5h.9M165.5 81h.9M173 82h.9M178 75h.9M171 88.5h.9M176.5 84.5h.9M193 91h.9M174 79.5h.9M177.5 86.5h.9M179.5 88h.9M165.5 83.5h.9M168 94.5h.9M180.5 80h.9M168 75h.9M166 76.5h.9M171 84.5h.9M185 80h.9M180.5 88.5h.9M181 90h.9M172.5 74.5h.9M177.5 74.5h.9M181.5 77.5h.9M175 74h.9M167.5 85.5h.9M167 86.5h.9M182 90h.9M184.5 88h.9M175.5 89h.9M166 87.5h.9M188.5 87h.9M179.5 85h.9M180 88h.9M170 95h.9M173.5 85.5h.9M172 80.5h.9M165 91.5h.9M170 90h.9M170 72h.9M178.5 77h.9M166.5 85h.9M178.5 87h.9M176.5 83h.9M195.5 77.5h.9M178.5 85h.9M175.5 86h.9M184.5 91h.9M170 81.5h.9M185 81.5h.9M168.5 86h.9M176.5 77.5h.9M184.5 86h.9M177.5 88h.9M172.5 86h.9M173 89.5h.9M179.5 77h.9M177.5 89.5h.9M182.5 94.5h.9M187.5 89.5h.9M180 80h.9M173 85h.9M173.5 90h.9M171 94h.9M169 88h.9M171.5 88h.9M179.5 81.5h.9M177 79h.9M173 81h.9M179.5 89h.9M179 80h.9M183 73h.9M169.5 74h.9M175 84h.9M184.5 78.5h.9M168 84.5h.9M171 89h.9M171 87h.9M166.5 74h.9M183.5 87h.9M180 81h.9M171 76h.9M172.5 79h.9M180 85h.9M172 90h.9M172.5 90h.9M176.5 82.5h.9M186.5 87.5h.9M174 84.5h.9M171 90h.9M181 94h.9M169.5 89.5h.9M183.5 78h.9M177 86.5h.9M180.5 88h.9M170.5 78.5h.9M174 88h.9M181.5 99h.9M167.5 82h.9M172.5 89h.9M165.5 84h.9M187 84.5h.9M186.5 83h.9M183 91h.9M186.5 90h.9M174.5 90.5h.9M181.5 90h.9M170.5 75.5h.9M180 89.5h.9M180 89h.9M175.5 87h.9M173.5 82h.9M171 91h.9M175 88h.9M175 85h.9M178.5 88.5h.9M181 75h.9M169 87h.9M172 84h.9M174.5 88.5h.9M182 81.5h.9M184.5 86.5h.9M180.5 89h.9M170 79h.9M183.5 77h.9M180.5 89.5h.9M169 79h.9M174 82h.9M172 78.5h.9M172 74h.9M169 86h.9M167.5 84h.9M181 84h.9M164 80.5h.9M189 82.5h.9M183 81.5h.9M187 93.5h.9M169.5 90h.9M169.5 93.5h.9M172 79h.9M183.5 82.5h.9M172.5 69.5h.9M181 86h.9M179 84h.9M182 83.5h.9M176 95.5h.9M183.5 84.5h.9M171 85h.9M171 86h.9M177.5 89h.9M180 77.5h.9M171.5 81h.9M186 85.5h.9M182.5 82h.9M176.5 75.5h.9M171.5 84h.9M170.5 90.5h.9M178.5 79.5h.9M172 82.5h.9M166 85.5h.9M186 83h.9M175.5 88.5h.9M174 78h.9M171 83.5h.9M167 82.5h.9M169.5 81h.9M182.5 82.5h.9M179 92.5h.9M172.5 94h.9M170.5 85.5h.9M184 83.5h.9M177 77.5h.9M187.5 85.5h.9M179.5 93.5h.9M176.5 92h.9M183.5 71.5h.9M167 80.5h.9M165.5 78.5h.9M183.5 80.5h.9M166.5 79.5h.9M176.5 90.5h.9M173 88h.9M178.5 90.5h.9M175.5 81.5h.9M169 72.5h.9M180 90h.9M183.5 76h.9M179.5 84h.9M174.5 75.5h.9M165.5 82h.9M176 78.5h.9M184 87h.9M172 92h.9M171 75.5h.9M176.5 89.5h.9M180.5 78.5h.9M171.5 75.5h.9M183.5 90.5h.9M169 85.5h.9M181 76h.9M162.5 76.5h.9M187.5 80.5h.9M178.5 82.5h.9M172.5 77h.9M180 92h.9M172 77h.9M172.5 88.5h.9M170 90.5h.9M185.5 77.5h.9M173.5 71.5h.9M168 86.5h.9M175 70.5h.9M165 83h.9M173 83h.9M162.5 79h.9M168.5 82h.9M164 89.5h.9M168.5 97h.9M182 87h.9M183 80.5h.9M177.5 90h.9M176.5 85h.9M173 76h.9M172.5 84h.9M174 89.5h.9M172 70h.9M166.5 75h.9M175 87.5h.9M177.5 87h.9M172.5 91h.9M163.5 92.5h.9M182.5 88h.9M182 77.5h.9M175 73.5h.9M176 96h.9M181.5 71.5h.9M168 77h.9M163 81.5h.9M185.5 84h.9M187.5 87.5h.9M179.5 90h.9M179 87h.9M172.5 85h.9M173.5 82.5h.9M174 80h.9M168 90.5h.9M180.5 75h.9M173.5 74h.9M167 73.5h.9M179 94h.9M180.5 87h.9M173 87h.9M181.5 92h.9M174.5 96.5h.9M169.5 91.5h.9M167.5 80h.9M180.5 77h.9M175 89.5h.9M176 79.5h.9M180.5 90.5h.9M172.5 85.5h.9M170 76h.9M177.5 86h.9M178 76h.9M163.5 83.5h.9M175 78h.9M171.5 97h.9M167 83h.9M178 77.5h.9M168.5 88h.9M187 86.5h.9M179.5 76.5h.9M165 75.5h.9M181 93.5h.9M182 94h.9M179.5 91.5h.9M173.5 86.5h.9M175.5 96h.9M179 81.5h.9M166.5 83.5h.9M177 90h.9M170.5 86.5h.9M170.5 92.5h.9M180 78.5h.9M182 86h.9M169 87.5h.9M183.5 83.5h.9M173 78h.9M173.5 88h.9M176.5 78.5h.9M172.5 78h.9M165 87h.9M178 86h.9M171 88h.9M173.5 78.5h.9M180.5 93h.9M171 94.5h.9M189.5 82h.9M175 80h.9M168.5 100h.9M177.5 92.5h.9M176.5 79h.9M172 75h.9M166.5 76h.9M162 88.5h.9M191 79h.9M184 84.5h.9M171 83h.9M175 77.5h.9M183.5 89.5h.9M178.5 91.5h.9M183 76.5h.9M179.5 92h.9M180.5 76.5h.9M181.5 78h.9M182.5 90h.9M169 92h.9M171 75h.9M186 80h.9M186 86.5h.9M185.5 82h.9M170 88.5h.9M170.5 82h.9M179 75h.9M176.5 77h.9M175.5 91h.9M168 85.5h.9M183 78.5h.9M166 90.5h.9M170.5 90h.9M177 74h.9M167.5 90h.9M167 78h.9M182.5 80.5h.9M181 94.5h.9M188 84.5h.9M161.5 88.5h.9M186.5 90.5h.9M165.5 86h.9M182.5 89.5h.9M166 92.5h.9M176 90.5h.9M187.5 84.5h.9M164.5 69.5h.9M181.5 73.5h.9M168.5 76h.9M187.5 89h.9M181 73h.9M163.5 84.5h.9M162.5 84h.9M181.5 93h.9M174.5 85.5h.9M178 69h.9M177 90.5h.9M180 96.5h.9M175.5 80h.9M184.5 80.5h.9M185 79.5h.9M171.5 86h.9M168.5 87.5h.9M175 79.5h.9M176.5 80h.9M163 93.5h.9M181.5 93.5h.9M169.5 88h.9M180 72h.9M165.5 88h.9M175.5 94h.9M176.5 74h.9M168.5 92h.9M172.5 84.5h.9M168.5 86.5h.9M184 79h.9M180.5 84h.9M172 93h.9M183.5 85.5h.9M173 73.5h.9M186 78h.9M169 91h.9M169 67.5h.9M179 88h.9M170.5 91.5h.9M181 85h.9M167.5 87h.9M184.5 91.5h.9M175.5 85h.9M184 78.5h.9M174 93.5h.9M166 84h.9M182 92h.9M170.5 85h.9M170 74h.9M179 86.5h.9M177.5 87.5h.9M160.5 77.5h.9M174.5 95h.9M168 84h.9M187 79.5h.9M180 91h.9M176.5 87h.9M182 81h.9M185 89h.9M184.5 83h.9M187 85h.9M161.5 87.5h.9M188.5 83h.9M166.5 85.5h.9M180.5 81.5h.9M174.5 72.5h.9M173.5 95h.9M183 88.5h.9M185 82h.9M182 92.5h.9M175 77h.9M171.5 91h.9M189 83.5h.9M176 93h.9M182.5 77h.9M178 84h.9M188 75h.9M164.5 87.5h.9M180.5 97h.9M173.5 81h.9M166.5 88h.9M173.5 90.5h.9M184 88.5h.9M181 80h.9M174.5 87.5h.9M183 88h.9M184.5 84h.9M176 91h.9M182 95.5h.9M172.5 75.5h.9M177.5 91.5h.9M181.5 75.5h.9M174.5 94.5h.9M179 78.5h.9M182.5 90.5h.9M170.5 96h.9M165 90.5h.9M180 90.5h.9M172 83.5h.9M173.5 89.5h.9M181 84.5h.9M187.5 78h.9M163 85.5h.9M166 77.5h.9M178 78h.9M181.5 86h.9M172 86.5h.9M176 73.5h.9M170.5 76h.9M171.5 94.5h.9M161 84.5h.9M168.5 81h.9M181.5 91h.9M174 88.5h.9M188.5 87.5h.9M169.5 96.5h.9M178 87.5h.9M173 85.5h.9M164.5 82h.9M177.5 95h.9M182.5 93.5h.9M165 88.5h.9M178 82.5h.9M177.5 74h.9M174 91h.9M178 92.5h.9M178 78.5h.9M177 79.5h.9M172.5 88h.9M173 91h.9M178.5 103h.9M179 82h.9M178 86.5h.9M174.5 93.5h.9M180.5 90h.9M173 80h.9M170.5 77.5h.9M169.5 95h.9M176 72.5h.9M175.5 97.5h.9M181 81h.9M187.5 88.5h.9M184 87.5h.9M178.5 73h.9M178 75.5h.9M179.5 82h.9M169.5 85h.9M186 81h.9M177.5 75.5h.9M182 74.5h.9M173.5 73h.9M177.5 101.5h.9M184 77.5h.9M186.5 83.5h.9M176 86h.9M180.5 96.5h.9M169 84.5h.9M167.5 86.5h.9M169 91.5h.9M183 85h.9M170 94.5h.9M171 81h.9M170 85.5h.9M185 91.5h.9M182.5 88.5h.9M182 93h.9M181 86.5h.9M172 97h.9M179 95h.9M166.5 89h.9M186.5 86h.9M171 79h.9M182 89.5h.9M187.5 94h.9M172.5 75h.9M180.5 87.5h.9M166.5 86.5h.9M173 90.5h.9M185 84h.9M176.5 87.5h.9M169.5 73h.9M185.5 88h.9M181 87.5h.9M175 86.5h.9M179.5 87.5h.9M179 87.5h.9M173 79h.9M185 74.5h.9M180.5 78h.9M178.5 76h.9M168 79.5h.9M162 91h.9M175.5 72.5h.9M166 80.5h.9M179.5 80h.9M170.5 89.5h.9M171 73h.9M175.5 84.5h.9M167.5 88h.9M180 86.5h.9M169 81.5h.9M182.5 91.5h.9M174 74.5h.9M181.5 83h.9M187 98h.9M173.5 88.5h.9M178.5 93.5h.9M187 91.5h.9M174 81.5h.9M168.5 90h.9M171 77.5h.9M171.5 89h.9M168 73h.9M186.5 77h.9M165.5 71.5h.9M178.5 83.5h.9M182.5 92.5h.9M169 83.5h.9M178 94h.9M173 90h.9M161.5 86h.9M181 81.5h.9M169.5 82.5h.9M176.5 73.5h.9M169.5 80h.9M179 78h.9M185.5 89h.9M178.5 68h.9M165.5 87.5h.9M183.5 93h.9M187.5 85h.9M177.5 78.5h.9M185.5 86h.9M185.5 87.5h.9M169.5 93h.9M180 94h.9M185 79h.9M176.5 92.5h.9M177.5 73.5h.9M167 85h.9M177 95.5h.9M185.5 81.5h.9M183 82.5h.9M187 92h.9M173 77h.9M178.5 94.5h.9M188 82.5h.9M167 74h.9M164.5 88h.9M169.5 94h.9M158.5 95h.9M158.5 83.5h.9M174 63h.9M176 91.5h.9M190 91.5h.9M159 91.5h.9M178 95.5h.9M167 87h.9M164.5 78.5h.9M165.5 74h.9M170.5 95.5h.9M169 93.5h.9M174.5 99.5h.9M159 91h.9M182.5 80h.9M175 93h.9M185.5 79h.9M183.5 97h.9M166.5 80.5h.9M158.5 78.5h.9M170.5 92h.9M163.5 80h.9M179 100.5h.9M177 89h.9M187 80.5h.9M166 80h.9M174.5 77h.9M188 92.5h.9M164 92h.9M159 92h.9M176 90h.9M179.5 82.5h.9M164 86h.9M179.5 94.5h.9M171.5 73.5h.9M170.5 68.5h.9M162.5 84.5h.9M172.5 93.5h.9M163 87.5h.9M167.5 83h.9M169.5 89h.9M175 98h.9M167.5 95.5h.9M169 105h.9M167.5 74h.9M162.5 80.5h.9M167.5 104.5h.9M177 88h.9M182 84.5h.9M172.5 97h.9M164.5 86h.9M186.5 85.5h.9M165 78h.9M188 87h.9M171.5 75h.9M160 80.5h.9M174.5 98h.9M182 90.5h.9M182.5 79.5h.9M190.5 97.5h.9M166.5 97h.9M175 91.5h.9M158.5 91.5h.9M166 84.5h.9M177 73h.9M167.5 96.5h.9M158.5 89h.9M162 75h.9M178 94.5h.9M188.5 102.5h.9M169.5 76.5h.9M166.5 77.5h.9M170.5 72h.9M160.5 105.5h.9M163.5 89h.9M163 89h.9M159 83.5h.9M174 72.5h.9M165.5 86.5h.9M173 96h.9M164 66h.9M197 82.5h.9M167.5 89.5h.9M174 75.5h.9M189 95h.9M165 80.5h.9M184 96.5h.9M189.5 87.5h.9M158.5 97h.9M161.5 80.5h.9M158.5 88.5h.9M166 68.5h.9M173.5 72.5h.9M164.5 74.5h.9M172 63.5h.9M168 89.5h.9M183 93.5h.9M182.5 91h.9M166.5 81.5h.9M164.5 86.5h.9M169.5 91h.9M159.5 99.5h.9M166 94h.9M191 83h.9M174 66h.9M162 72h.9M189.5 99h.9M166.5 80h.9M163 94h.9M188.5 99h.9M165.5 95h.9M184.5 87.5h.9M182.5 95.5h.9M180.5 77.5h.9M158.5 73h.9M171 70h.9M171.5 91.5h.9M193.5 90h.9M174 91.5h.9M194.5 88.5h.9M188.5 74h.9M164.5 88.5h.9M166.5 82.5h.9M164 87.5h.9M186 87.5h.9M164 78.5h.9M182.5 87.5h.9M177.5 77h.9M180 76.5h.9M180 79h.9M165 77h.9M161.5 76h.9M182.5 81h.9M187.5 97.5h.9M174.5 75h.9M159 86.5h.9M186.5 96h.9M180.5 94h.9M160.5 90.5h.9M164.5 80h.9M175.5 91.5h.9M191 85.5h.9M170.5 71.5h.9M165 84.5h.9M183.5 84h.9M183.5 90h.9M165 82.5h.9M174.5 71h.9M168.5 75.5h.9M184.5 79h.9M165 81h.9M161.5 89h.9M183 85.5h.9M185.5 80.5h.9M161.5 98h.9M161.5 79.5h.9M169.5 80.5h.9M164.5 81h.9M172.5 93h.9M165 93h.9M179 79h.9M165.5 80.5h.9M164 90h.9M161 81.5h.9M165.5 80h.9M170 77.5h.9M165.5 81.5h.9M176 76.5h.9M171.5 61.5h.9M170.5 70.5h.9M158.5 97.5h.9M169 94.5h.9M166 75.5h.9M159.5 80h.9M185.5 99.5h.9M165.5 93h.9M168 74h.9M169 83h.9M175.5 77h.9M174 99h.9M183.5 81h.9M187.5 82.5h.9M186.5 82.5h.9M171 77h.9M162.5 81.5h.9M164 85.5h.9M173 69h.9M180.5 98h.9M168 91.5h.9M170.5 88.5h.9M186 91h.9M164 93.5h.9M182.5 84h.9M177.5 94h.9M168 63.5h.9M158.5 85h.9M173 76.5h.9M180 74h.9M166.5 84h.9M167 94h.9M183 97h.9M163 81h.9M184.5 76.5h.9M171.5 95.5h.9M166.5 73.5h.9M173 74.5h.9M166 88h.9M173.5 66.5h.9M186.5 79.5h.9M160.5 86.5h.9M163 84.5h.9M161 90h.9M179 72h.9M186 92h.9M169 101h.9M186 85h.9M179 71.5h.9M175 69h.9M167.5 86h.9M160 96h.9M160 98h.9M170.5 95h.9M185 72h.9M175 99h.9M180 73.5h.9M163.5 92h.9M187.5 82h.9M171.5 69h.9M182.5 73.5h.9M162 65h.9M177 94h.9M164.5 72h.9M176.5 96h.9M168.5 77h.9M181 71.5h.9M175 74.5h.9M186 88h.9M169 86.5h.9M183.5 91h.9M160 83.5h.9M164 85h.9M160 76h.9M183.5 79.5h.9M186 98h.9M169.5 79h.9M168.5 91.5h.9M168 76.5h.9M167 96.5h.9M163 76h.9M185.5 85h.9M184.5 96h.9M169 71h.9M158.5 86h.9M189.5 89.5h.9M189.5 86.5h.9M186 71h.9M159 97.5h.9M183 90.5h.9M174.5 74h.9M172 72h.9M183 73.5h.9M174.5 78h.9M179.5 74h.9M160 85.5h.9M161.5 86.5h.9M188.5 86h.9M186.5 72.5h.9M185 84.5h.9M167 79h.9M170 92h.9M167 68.5h.9M165 78.5h.9M164 96h.9M186 81.5h.9M180 79.5h.9M167.5 98h.9M171.5 77.5h.9M171 74.5h.9M185.5 93.5h.9M172 92.5h.9M172 76.5h.9M160 68.5h.9M170.5 101.5h.9M163 85h.9M177.5 84h.9M186.5 92.5h.9M173.5 93.5h.9M164 96.5h.9M190.5 80h.9M181 99h.9M187 90.5h.9M174.5 73h.9M161.5 80h.9M163.5 78.5h.9M185.5 80h.9M172 87.5h.9M185.5 94.5h.9M167 87.5h.9M184.5 92h.9M163.5 85.5h.9M161.5 85h.9M160 81.5h.9M164 91h.9M164.5 87h.9M170.5 77h.9M171.5 96.5h.9M167.5 79h.9M171 79.5h.9M158.5 93h.9M188.5 83.5h.9M162.5 86h.9M184 88h.9M171.5 89.5h.9M174 76.5h.9M165.5 72h.9M175 96h.9M175 71h.9M188 90h.9M162.5 92h.9M161 84h.9M158.5 95.5h.9M161 86.5h.9M190.5 84.5h.9M168 83.5h.9M159 79.5h.9M165.5 91.5h.9M170 73h.9M160.5 83.5h.9M173 71.5h.9M181.5 72h.9M172.5 96h.9M158.5 90h.9M164 80h.9M159 66h.9M161 91h.9M173 93.5h.9M186 89.5h.9M165 93.5h.9M173 95.5h.9M163 98h.9M180.5 103.5h.9M158.5 82h.9M186.5 85h.9M164 87h.9M167.5 96h.9M183.5 74.5h.9M170.5 97h.9M178 81.5h.9M174 95h.9M167.5 81h.9M173 96.5h.9M175 69.5h.9M166 99.5h.9M168 91h.9M165.5 88.5h.9M180 78h.9M159 89h.9M194 83.5h.9M189 102h.9M183.5 98h.9M178 95h.9M169 89h.9M191.5 99h.9M171 96h.9M158.5 84.5h.9M158.5 91h.9M173.5 89h.9M163 88.5h.9M159 87.5h.9M183.5 95h.9M179 91.5h.9M177 96h.9M159 73h.9M191 91h.9M190 87h.9M186 72.5h.9M168.5 92.5h.9M179 90.5h.9M167 76h.9M169 90h.9M182.5 84.5h.9M162 85h.9M167.5 72h.9M181 95h.9M177 89.5h.9M186.5 101h.9M168.5 99h.9M183.5 80h.9M163 92.5h.9M191 85h.9M162 96h.9M172.5 91.5h.9M168.5 83h.9M170 78.5h.9M163.5 69h.9M173.5 75h.9M169 73.5h.9M165 89.5h.9M188.5 97.5h.9M163.5 91.5h.9M165 88h.9M164.5 95h.9M184 81.5h.9M187.5 75.5h.9M180.5 96h.9M171.5 99h.9M161.5 78h.9M163.5 81h.9M181 85.5h.9M174.5 80.5h.9M162.5 89.5h.9M165 83.5h.9M183.5 72.5h.9M166 82h.9M184.5 65h.9M163.5 86h.9M161.5 92.5h.9M168.5 75h.9M168 78h.9M164 84h.9M180.5 71.5h.9M185 86h.9M184 82.5h.9M167 76.5h.9M162 89.5h.9M176 85.5h.9M164 76h.9M160.5 85h.9M162 88h.9M165 79h.9M169.5 98.5h.9M179 74.5h.9M168 92h.9M171 76.5h.9M180.5 75.5h.9M183.5 79h.9M177.5 71h.9M160.5 97h.9M175.5 94.5h.9M169.5 75h.9M167 84h.9M164 83h.9M170.5 79.5h.9M186.5 95.5h.9M175.5 76h.9M171.5 80.5h.9M187 75.5h.9M175 73h.9M189.5 90.5h.9M173 93h.9M179 69h.9M188 88.5h.9M164 92.5h.9M183 90h.9M169.5 84.5h.9M186.5 86.5h.9M194 87h.9M161.5 91h.9M185 95.5h.9M187 76.5h.9M171 90.5h.9M178.5 99.5h.9M174 100.5h.9M162 94h.9M183.5 97.5h.9M167.5 75.5h.9M167 95h.9M206 87h.9M237.5 85h.9M210.5 82h.9M223.5 82.5h.9M209.5 88.5h.9M217 83h.9M221.5 80.5h.9M223 87.5h.9M209 77.5h.9M212.5 79h.9M212 86.5h.9M226.5 79.5h.9M212 76.5h.9M207.5 76.5h.9M200.5 83h.9M195.5 82.5h.9M201 78.5h.9M217.5 84h.9M204.5 77h.9M209.5 74.5h.9M208 83h.9M204.5 73h.9M207 81h.9M216.5 85h.9M210 76h.9M218.5 73h.9M214 84h.9M202 85h.9M210.5 91.5h.9M220 81.5h.9M225.5 82h.9M203 78h.9M217 87h.9M222 88.5h.9M230.5 81h.9M211.5 84h.9M220.5 88.5h.9M206 83h.9M221.5 90h.9M219 88.5h.9M202 82.5h.9M208.5 80.5h.9M211.5 80h.9M216 78.5h.9M214 91h.9M216 81.5h.9M216.5 79.5h.9M205 77.5h.9M203.5 80h.9M216 86h.9M205 84.5h.9M209.5 72.5h.9M212.5 84h.9M226 85.5h.9M214.5 86h.9M224.5 88.5h.9M219.5 85h.9M206.5 93.5h.9M226 80h.9M210 88h.9M222.5 79.5h.9M216 80.5h.9M209.5 90.5h.9M200.5 87h.9M217 80h.9M212.5 85h.9M231 75.5h.9M209.5 79.5h.9M213.5 79.5h.9M209.5 75.5h.9M208.5 85.5h.9M223 77h.9M223 82.5h.9M204.5 89h.9M209.5 85.5h.9M210.5 79.5h.9M220 84.5h.9M213.5 77h.9M210.5 85h.9M215 85h.9M216 89h.9M211.5 83.5h.9M212 83.5h.9M217.5 75.5h.9M218 84h.9M208 87h.9M218 83.5h.9M200 82.5h.9M211.5 81h.9M221.5 80h.9M229.5 83.5h.9M218.5 77h.9M216.5 86h.9M232 81.5h.9M225 85h.9M215 82h.9M213 82.5h.9M197.5 77.5h.9M219.5 91.5h.9M208 87.5h.9M216 84h.9M203.5 78.5h.9M207.5 91.5h.9M221 85h.9M218.5 82h.9M235.5 80h.9M220.5 82.5h.9M227.5 88.5h.9M217 79.5h.9M212.5 82.5h.9M212 82.5h.9M214 85.5h.9M219 88h.9M231 83.5h.9M214.5 84.5h.9M206 84.5h.9M214.5 79.5h.9M200.5 82.5h.9M217 77.5h.9M194.5 84h.9M197 83h.9M217 83.5h.9M218 80h.9M208 93h.9M213 87.5h.9M216.5 82h.9M217.5 79h.9M205.5 83h.9M213 82h.9M199 83h.9M204.5 84.5h.9M208 78h.9M213 79.5h.9M219 83h.9M211.5 74.5h.9M210.5 93h.9M214 87h.9M211.5 84.5h.9M210 87h.9M222 84h.9M215 83h.9M202 83.5h.9M206.5 87.5h.9M210 83h.9M207.5 88h.9M213 90.5h.9M212 86h.9M217.5 83.5h.9M225.5 77.5h.9M209 80.5h.9M214.5 78.5h.9M217.5 82.5h.9M223.5 87h.9M205 76h.9M212 75.5h.9M218 81h.9M223.5 86h.9M208 80.5h.9M210.5 88.5h.9M216.5 83.5h.9M217.5 82h.9M200 83h.9M235.5 82.5h.9M210.5 84.5h.9M210 77.5h.9M214 82.5h.9M217.5 79.5h.9M213.5 83.5h.9M222 79.5h.9M214 83.5h.9M213 91h.9M209.5 91.5h.9M225 83.5h.9M222 81h.9M213.5 83h.9M225 80.5h.9M211.5 86h.9M197 79h.9M208.5 92h.9M211.5 79h.9M212.5 83h.9M217.5 89.5h.9M205 73h.9M217 86.5h.9M211 83.5h.9M224.5 85.5h.9M215 75.5h.9M217 93.5h.9M212 76h.9M209 89h.9M220.5 78h.9M212 78h.9M205 87h.9M217.5 80h.9M212.5 92h.9M211 89.5h.9M219 85h.9M203.5 81h.9M217 81h.9M214.5 85h.9M213.5 84.5h.9M213.5 81h.9M208.5 83.5h.9M208 84h.9M214.5 87.5h.9M214 80h.9M220.5 83h.9M220 85.5h.9M226.5 71.5h.9M203 86h.9M223.5 81h.9M216.5 88h.9M212.5 81.5h.9M213.5 78.5h.9M220.5 96h.9M201 79h.9M220.5 77h.9M220.5 87h.9M197.5 85.5h.9M194 84h.9M217 78.5h.9M203 92h.9M216.5 75.5h.9M204 76.5h.9M200.5 84h.9M213 85h.9M203.5 73.5h.9M204 78h.9M213 81.5h.9M219 78.5h.9M206 84h.9M216 83h.9M205 86.5h.9M219.5 87h.9M213 87h.9M205.5 86h.9M220.5 76h.9M237 89h.9M209.5 79h.9M210.5 82.5h.9M210 89h.9M206 81h.9M203 87.5h.9M220 80.5h.9M201 80.5h.9M224 88h.9M207 82h.9M208.5 89.5h.9M212.5 85.5h.9M210 80.5h.9M202 80.5h.9M213 84h.9M222.5 77h.9M213.5 87h.9M215.5 82.5h.9M209 78.5h.9M214 79.5h.9M212.5 80h.9M203.5 85h.9M212.5 93.5h.9M212 92.5h.9M210 93.5h.9M202 76.5h.9M215.5 80.5h.9M204 89h.9M213 81h.9M216 87.5h.9M208 81h.9M202.5 82.5h.9M228.5 82h.9M227 80h.9M209 92.5h.9M207.5 90h.9M203.5 88h.9M214 94h.9M219.5 79.5h.9M211.5 76.5h.9M227 81.5h.9M211.5 78.5h.9M224 83.5h.9M214.5 80h.9M221.5 78h.9M207.5 84h.9M218.5 79.5h.9M200.5 76h.9M216 90.5h.9M217.5 87h.9M204 81h.9M207 86h.9M209.5 84.5h.9M220 73h.9M215 88h.9M208.5 85h.9M219 86.5h.9M208 84.5h.9M214.5 75h.9M225.5 84.5h.9M206.5 74.5h.9M220 88h.9M231.5 87h.9M214.5 87h.9M212 81.5h.9M214.5 90h.9M218.5 80h.9M218 88h.9M208 77h.9M220 78h.9M213.5 73.5h.9M203 84h.9M199.5 77.5h.9M218.5 89.5h.9M212.5 76h.9M217.5 86h.9M210 82.5h.9M201.5 93h.9M206.5 81h.9M221 87.5h.9M225.5 87h.9M209 74.5h.9M224 80.5h.9M222.5 84.5h.9M195 87.5h.9M217 74.5h.9M227.5 83h.9M209 79h.9M220 86h.9M211.5 85h.9M214.5 81.5h.9M216.5 76h.9M219.5 83h.9M207 84.5h.9M222.5 83h.9M217 86h.9M208 86h.9M216.5 82.5h.9M198 80h.9M202 81h.9M198 79.5h.9M212 88h.9M215.5 83.5h.9M188 77.5h.9M213.5 82h.9M219.5 89h.9M208 90h.9M208.5 88.5h.9M221.5 77.5h.9M195.5 86h.9M215.5 77h.9M219.5 91h.9M213 92h.9M218.5 77.5h.9M224 84h.9M211 77h.9M214 78h.9M220 87.5h.9M228 83.5h.9M208.5 87.5h.9M222 85h.9M219 80h.9M222 87.5h.9M208.5 88h.9M198.5 81h.9M214.5 92.5h.9M207 85.5h.9M222 90.5h.9M218 80.5h.9M206.5 83h.9M209.5 76h.9M216.5 84h.9M206 77.5h.9M221 84.5h.9M205 81h.9M215 78.5h.9M197 78h.9M215 90h.9M207.5 78.5h.9M203 88h.9M209.5 89h.9M204.5 87h.9M196 79.5h.9M218 77h.9M224.5 77.5h.9M210.5 77h.9M212 80.5h.9M216 87h.9M214 77h.9M216.5 78.5h.9M213 94h.9M206 88.5h.9M215 92h.9M216 84.5h.9M222.5 76h.9M205.5 83.5h.9M203 76h.9M228.5 86h.9M197 86h.9M195.5 79h.9M216 88h.9M210.5 83.5h.9M212.5 84.5h.9M200.5 85.5h.9M202.5 79h.9M201.5 82.5h.9M208 78.5h.9M207.5 85h.9M212 89h.9M218.5 87.5h.9M199 82.5h.9M198.5 89h.9M217.5 85h.9M220 84h.9M206.5 93h.9M223.5 83.5h.9M212 83h.9M213.5 85h.9M211 78h.9M222.5 89.5h.9M213 78.5h.9M221.5 76.5h.9M220 87h.9M216 83.5h.9M226 73h.9M209 86.5h.9M212 79h.9M213 84.5h.9M209.5 87h.9M199 84.5h.9M220 81h.9M204.5 81.5h.9M226 79h.9M213 74.5h.9M200.5 78.5h.9M200 81h.9M223.5 87.5h.9M216 77h.9M209 87.5h.9M210.5 80.5h.9M222.5 86.5h.9M209.5 87.5h.9M206.5 81.5h.9M218 84.5h.9M213 80h.9M215 83.5h.9M212.5 81h.9M210.5 86.5h.9M225.5 95.5h.9M218.5 87h.9M209.5 78.5h.9M218.5 83h.9M217 82h.9M198.5 76.5h.9M211.5 78h.9M216 85h.9M219.5 76.5h.9M218 75h.9M203.5 82h.9M221.5 90.5h.9M226 85h.9M208.5 87h.9M212.5 74h.9M209 76.5h.9M221 83.5h.9M197 78.5h.9M195 87h.9M231.5 83h.9M200 80.5h.9M215.5 77.5h.9M200 80h.9M206 89h.9M223.5 84.5h.9M208 72.5h.9M222 85.5h.9M215.5 81h.9M218.5 84.5h.9M204.5 82.5h.9M216.5 84.5h.9M219 82h.9M214.5 76.5h.9M223 80.5h.9M220.5 81h.9M210.5 76h.9M218.5 84h.9M212.5 83.5h.9M225 77.5h.9M223 84.5h.9M211 80h.9M218 85h.9M217.5 85.5h.9M200 77.5h.9M207 86.5h.9M208.5 89h.9M225.5 79h.9M218 74h.9M222.5 72h.9M200.5 77.5h.9M207.5 79.5h.9M217 85h.9M213 85.5h.9M224 78.5h.9M209 85h.9M214 83h.9M202 76h.9M209.5 80h.9M215.5 86.5h.9M231.5 80h.9M210 80h.9M210.5 78h.9M221 83h.9M212.5 88.5h.9M207.5 85.5h.9M227 82.5h.9M220 92.5h.9M216.5 74.5h.9M210 79h.9M202.5 81h.9M219 81h.9M226.5 88.5h.9M203 89.5h.9M206 88h.9M212 85h.9M213.5 80.5h.9M208 89.5h.9M200 85h.9M213.5 74h.9M209 80h.9M204 83h.9M222 88h.9M202.5 81.5h.9M220.5 75h.9M208.5 80h.9M201.5 83.5h.9M219 84.5h.9M211 81.5h.9M221 82h.9M222.5 90.5h.9M210 87.5h.9M206.5 83.5h.9M203.5 86h.9M218.5 75.5h.9M207 73.5h.9M213.5 86h.9M213 88h.9M205.5 81h.9M208 88.5h.9M213 74h.9M190.5 72.5h.9M207.5 71.5h.9M218 83h.9M216.5 80h.9M216.5 78h.9M205.5 84.5h.9M220.5 77.5h.9M200 89.5h.9M210.5 87.5h.9M209 83.5h.9M221 74h.9M206.5 84.5h.9M204 85h.9M203.5 81.5h.9M193.5 81.5h.9M204 85.5h.9M225 81.5h.9M216.5 79h.9M209.5 83h.9M208.5 79.5h.9M207 75.5h.9M220 74.5h.9M216.5 88.5h.9M209 81h.9M216.5 81h.9M217.5 78.5h.9M216 85.5h.9M208 74.5h.9M205 79h.9M206 79.5h.9M228 85h.9M220.5 88h.9M209 79.5h.9M219.5 78h.9M221 81h.9M202 87h.9M224 92.5h.9M215.5 84h.9M207.5 87h.9M216 82h.9M206 81.5h.9M219 84h.9M221 89.5h.9M209.5 84h.9M214 82h.9M212 80h.9M209.5 81.5h.9M221.5 83.5h.9M223 82h.9M223.5 88h.9M202 79.5h.9M228.5 89.5h.9M192 87h.9M214 88h.9M213.5 90.5h.9M230.5 83.5h.9M222 80.5h.9M222 75.5h.9M230 87.5h.9M205.5 85h.9M218.5 82.5h.9M219 89h.9M206 82.5h.9M221 90.5h.9M211.5 80.5h.9M220.5 82h.9M220.5 79h.9M222 75h.9M207.5 80h.9M212 90h.9M197.5 83.5h.9M212 77.5h.9M229 76h.9M218 79h.9M215.5 79.5h.9M221 85.5h.9M218.5 86.5h.9M197 87.5h.9M207.5 86h.9M224.5 71h.9M215 76h.9M219 74.5h.9M213 83h.9M221 80h.9M206 80h.9M218 87h.9M205 83.5h.9M195 86.5h.9M221.5 82.5h.9M206.5 88h.9M213.5 74.5h.9M208.5 82.5h.9M195 82.5h.9M225 86h.9M211.5 81.5h.9M205 85.5h.9M213 75h.9M207.5 81.5h.9M212 82h.9M207 75h.9M215 87h.9M200 85.5h.9M225.5 84h.9M226.5 84h.9M208 79.5h.9M209 85.5h.9M225 75.5h.9M215.5 85h.9M215 90.5h.9M203 79h.9M202.5 85h.9M222.5 77.5h.9M211 86.5h.9M216 80h.9M206.5 84h.9M204 79h.9M193.5 85.5h.9M201 91h.9M221 76h.9M201 85.5h.9M197 85.5h.9M210 86h.9M202.5 85.5h.9M205 79.5h.9M217 76h.9M192.5 84.5h.9M200.5 80.5h.9M221.5 87h.9M217.5 87.5h.9M214 72.5h.9M212.5 82h.9M224 89h.9M209.5 86.5h.9M195.5 85.5h.9M216.5 86.5h.9M226 87h.9M227 83.5h.9M214 87.5h.9M216.5 74h.9M232.5 83.5h.9M201 84h.9M216 90h.9M215.5 86h.9M216.5 80.5h.9M213.5 80h.9M205.5 87.5h.9M229.5 83h.9M210.5 79h.9M223 80h.9M211.5 82h.9M218.5 94h.9M206.5 82.5h.9M216.5 87.5h.9M208.5 79h.9M221 80.5h.9M218.5 91h.9M222.5 80.5h.9M208.5 86h.9M200 79h.9M215 81.5h.9M194.5 83h.9M232 77.5h.9M219.5 86h.9M214.5 77.5h.9M189 77h.9M217 91h.9M216.5 92h.9M201.5 89h.9M211 86h.9M191.5 74h.9M205.5 94h.9M214.5 84h.9M196.5 83h.9M217.5 84.5h.9M220.5 83.5h.9M209 76h.9M222 93.5h.9M222.5 83.5h.9M200.5 81.5h.9M206.5 80h.9M213 79h.9M214.5 83.5h.9M203.5 84.5h.9M217 78h.9M214 91.5h.9M221.5 88.5h.9M218.5 80.5h.9M211 84.5h.9M204.5 78h.9M228.5 89h.9M209 78h.9M216 79.5h.9M208.5 78.5h.9M213.5 79h.9M227 76.5h.9M203 84.5h.9M221 84h.9M228 84.5h.9M210.5 81.5h.9M222 93h.9M215 85.5h.9M220.5 84h.9M213 75.5h.9M224 85h.9M215 77h.9M210.5 86h.9M195.5 87.5h.9M212 84.5h.9M219 83.5h.9M211 80.5h.9M214.5 79h.9M198 75.5h.9M211.5 87h.9M202.5 80.5h.9M223.5 86.5h.9M217 85.5h.9M211.5 76h.9M211.5 83h.9M217 91.5h.9M224.5 90h.9M215.5 83h.9M218 81.5h.9M221.5 81.5h.9M217 84.5h.9M209.5 82h.9M235 79h.9M218.5 81h.9M210 84h.9M207 81.5h.9M198 78h.9M215 89h.9M206 83.5h.9M218.5 78h.9M203 85h.9M212 74h.9M222 89.5h.9M200.5 84.5h.9M204 88.5h.9M218 82h.9M214 90h.9M207 87.5h.9M200 77h.9M220.5 87.5h.9M225 84h.9M215.5 72h.9M196 85.5h.9M211.5 91.5h.9M221.5 78.5h.9M231.5 83.5h.9M207 89h.9M221 81.5h.9M204 77.5h.9M204.5 87.5h.9M223.5 90h.9M219 91h.9M224.5 83h.9M221.5 79h.9M221.5 74.5h.9M210.5 92.5h.9M217 88h.9M205.5 80h.9M221 86h.9M222.5 80h.9M207.5 78h.9M209 83h.9M200 87.5h.9M200.5 91h.9M205 83h.9M215 77.5h.9M208 80h.9M224.5 81.5h.9M227 90h.9M219 80.5h.9M208.5 76h.9M234.5 81.5h.9M199.5 84h.9M226 83h.9M220.5 89h.9M218 93h.9M207 79h.9M213 80.5h.9M209.5 83.5h.9M213.5 78h.9M229.5 91h.9M207.5 76h.9M205 80h.9M223.5 84h.9M205 84h.9M206.5 78.5h.9M219 79h.9M216 77.5h.9M203 81h.9M214 89h.9M211 88h.9M204 78.5h.9M195.5 79.5h.9M186.5 73h.9M197 74h.9M194.5 79h.9M198 74.5h.9M193 78h.9M221.5 85.5h.9M217.5 77.5h.9M205.5 85.5h.9M190.5 76.5h.9M188.5 88.5h.9M199 68.5h.9M221.5 82h.9M211 78.5h.9M205 82h.9M200.5 88.5h.9M198.5 82.5h.9M198 88.5h.9M201 76.5h.9M197 86.5h.9M210 79.5h.9M210.5 88h.9M223.5 96.5h.9M205 90h.9M200.5 76.5h.9M218.5 83.5h.9M212 94h.9M215 91.5h.9M199.5 82h.9M203 83.5h.9M210.5 81h.9M209 84.5h.9M198 74h.9M198 84.5h.9M205 89.5h.9M220 82.5h.9M196.5 86.5h.9M215 87.5h.9M201 86.5h.9M198 96h.9M202 88h.9M194.5 82h.9M203 72h.9M219 81.5h.9M200 78h.9M208.5 81h.9M218.5 85.5h.9M190 85.5h.9M201.5 90.5h.9M201 76h.9M203.5 79.5h.9M213.5 88.5h.9M207 74h.9M211.5 86.5h.9M199.5 81h.9M193 80h.9M202 84.5h.9M203 80h.9M200 86.5h.9M207.5 84.5h.9M202.5 79.5h.9M204 88h.9M207 72h.9M212.5 95.5h.9M198.5 77.5h.9M191 81h.9M196 88.5h.9M206 78.5h.9M205 82.5h.9M205.5 81.5h.9M209 69h.9M194.5 81.5h.9M193.5 84h.9M199 75h.9M190 77h.9M209 84h.9M196.5 72.5h.9M198 77.5h.9M198.5 78h.9M203 72.5h.9M216 89.5h.9M201 84.5h.9M198.5 76h.9M218.5 81.5h.9M194.5 86.5h.9M205.5 77h.9M185 87h.9M199 89.5h.9M191.5 92h.9M197 88h.9M207.5 89.5h.9M189 84.5h.9M203 70.5h.9M199.5 83.5h.9M189 85.5h.9M206 78h.9M188 81h.9M195 89.5h.9M202 85.5h.9M202.5 86.5h.9M205.5 89h.9M210 85h.9M222.5 84h.9M201 78h.9M215 78h.9M194.5 93h.9M192 97.5h.9M201.5 88.5h.9M200 89h.9M203.5 87.5h.9M204.5 80.5h.9M212 91h.9M208.5 83h.9M196 81h.9M201 81.5h.9M205.5 84h.9M195 84h.9M208.5 84h.9M208 89h.9M198.5 81.5h.9M201 82.5h.9M199.5 80.5h.9M198 83h.9M202 72.5h.9M190 89h.9M218 91h.9M196 78.5h.9M208.5 76.5h.9M193 89.5h.9M197.5 69.5h.9M196 90.5h.9M196 75.5h.9M209 88h.9M200 94h.9M191.5 85h.9M205.5 75.5h.9M204.5 80h.9M208.5 86.5h.9M205 75h.9M196.5 84h.9M196.5 81.5h.9M191.5 79.5h.9M212.5 88h.9M197.5 90.5h.9M203.5 76.5h.9M204 86h.9M207 83.5h.9M196 90h.9M195 93h.9M193.5 74h.9M199.5 86.5h.9M198 82.5h.9M206.5 76.5h.9M192.5 82.5h.9M207.5 75.5h.9M211 87.5h.9M215 92.5h.9M203.5 80.5h.9M196.5 85.5h.9M192.5 90h.9M210.5 80h.9M201 86h.9M209 91.5h.9M212.5 87h.9M194.5 82.5h.9M198 87.5h.9M196 80.5h.9M204.5 79h.9M204 80.5h.9M191.5 87h.9M194 86.5h.9M207 90h.9M192.5 94h.9M205 81.5h.9M206 77h.9M195.5 83.5h.9M191.5 92.5h.9M211 87h.9M214.5 83h.9M221 93h.9M193 95.5h.9M207.5 83.5h.9M197.5 89.5h.9M215 84h.9M200.5 85h.9M200.5 81h.9M207.5 92h.9M196 84.5h.9M212.5 79.5h.9M222.5 92.5h.9M213 88.5h.9M198.5 84h.9M207.5 77.5h.9M188 82h.9M213.5 86.5h.9M207 87h.9M197 73h.9M194.5 81h.9M198 81.5h.9M206.5 86.5h.9M196 74h.9M204 84.5h.9M191 84.5h.9M193.5 75.5h.9M205.5 82h.9M212 87.5h.9M193.5 80.5h.9M213.5 82.5h.9M189 85h.9M206.5 89h.9M188.5 85.5h.9M196 86.5h.9M221 94.5h.9M208 95.5h.9M198 70h.9M191.5 69.5h.9M197 93h.9M203 77.5h.9M200.5 87.5h.9M188.5 72.5h.9M207 80h.9M196 89h.9M220.5 79.5h.9M193.5 83.5h.9M207 77.5h.9M208 86.5h.9M198 83.5h.9M192 76.5h.9M199 91.5h.9M214.5 88.5h.9M207 92.5h.9M213 94.5h.9M194 94h.9M205.5 80.5h.9M205.5 78h.9M196.5 82.5h.9M198 88h.9M224.5 86h.9M204.5 85.5h.9M201.5 92.5h.9M205.5 78.5h.9M193 82h.9M201.5 88h.9M201 79.5h.9M197 90.5h.9M208.5 82h.9M192 81.5h.9M204 82h.9M195.5 74.5h.9M192.5 75h.9M204 77h.9M202 84h.9M196 92h.9M198 93.5h.9M199.5 88.5h.9M192 72h.9M192.5 86h.9M197 82h.9M195.5 89h.9M206.5 78h.9M207 91.5h.9M206.5 88.5h.9M202 86.5h.9M189 95.5h.9M204 87.5h.9M208.5 94h.9M201.5 76h.9M206.5 75h.9M207.5 82.5h.9M194 91.5h.9M200 92h.9M212 89.5h.9M214 81h.9M206.5 86h.9M207.5 87.5h.9M211 88.5h.9M214 80.5h.9M188 93.5h.9M202.5 78h.9M213 86h.9M198 79h.9M195 85h.9M194.5 87.5h.9M218.5 79h.9M206 93.5h.9M208 94h.9M201.5 75.5h.9M217.5 89h.9M196.5 86h.9M201 87.5h.9M210.5 89h.9M220 90h.9M195.5 78.5h.9M194 62.5h.9M208.5 84.5h.9M201 81h.9M198 91.5h.9M204.5 79.5h.9M208 76h.9M213 86.5h.9M187 71.5h.9M206.5 77h.9M216 86.5h.9M214 93.5h.9M215 98h.9M215.5 87.5h.9M201 85h.9M209 93h.9M186 83.5h.9M196 89.5h.9M204.5 95h.9M194.5 89h.9M202.5 87h.9M215.5 74h.9M211 95.5h.9M214 81.5h.9M196 78h.9M194.5 92.5h.9M191.5 88.5h.9M219 77.5h.9M201 89h.9M210 90h.9M216.5 85.5h.9M187 80h.9M201.5 78h.9M204 72.5h.9M199 72.5h.9M208 85.5h.9M206 87.5h.9M204.5 81h.9M204 90h.9M208 92.5h.9M203.5 89.5h.9M216.5 89.5h.9M198 89.5h.9M217 90.5h.9M196.5 88.5h.9M196.5 82h.9M192 88h.9M199.5 87h.9M211.5 89h.9M204.5 93h.9M207.5 94h.9M213.5 90h.9M209 90h.9M215 95.5h.9M190 83.5h.9M201.5 77.5h.9M191.5 80.5h.9M203 91.5h.9M205.5 91.5h.9M199.5 82.5h.9M200 91.5h.9M195 80h.9M199 76h.9M196 91.5h.9M202 92.5h.9M204.5 90.5h.9M197.5 87.5h.9M200 84.5h.9M206.5 89.5h.9M204 99.5h.9M201 92h.9M199.5 85h.9M192 92h.9M210.5 97h.9M219.5 84h.9M201 75h.9M193.5 86h.9M225 78h.9M198 86h.9M210 81.5h.9M196.5 93.5h.9M187 98.5h.9M186 90h.9M199 83.5h.9M190.5 89h.9M204 81.5h.9M193 87h.9M204.5 91h.9M210.5 78.5h.9M189.5 95h.9M218 86.5h.9M201.5 85h.9M199.5 84.5h.9M196.5 83.5h.9M190.5 80.5h.9M205 91h.9M199.5 88h.9M210 78.5h.9M210 82h.9M218 87.5h.9M198 87h.9M200 83.5h.9M195.5 86.5h.9M198 85h.9M191 92h.9M207.5 95h.9M201.5 81.5h.9M200.5 75h.9M212 84h.9M207.5 90.5h.9M199.5 79h.9M209 86h.9M205.5 87h.9M211.5 77.5h.9M197.5 79h.9M208.5 75h.9M198 92.5h.9M204 86.5h.9M190 82.5h.9M226.5 92h.9M197 77.5h.9M204.5 72h.9M198.5 83h.9M204 89.5h.9M215 76.5h.9M215 80.5h.9M211 85h.9M217 81.5h.9M196.5 90h.9M192.5 92h.9M205.5 93.5h.9M193 81h.9M210.5 84h.9M201 88.5h.9M212.5 90h.9M199 86h.9M202.5 91h.9M188 88h.9M207 94.5h.9M193.5 93.5h.9M211.5 72.5h.9M187 82h.9M209.5 85h.9M207 80.5h.9M211 79h.9M198.5 85h.9M207 70h.9M201.5 73.5h.9M204 82.5h.9M206 76h.9M197.5 86h.9M209.5 93h.9M202.5 78.5h.9M226 75.5h.9M193.5 97.5h.9M202.5 93h.9M213.5 84h.9M217.5 101h.9M195 94.5h.9M241.5 84.5h.9M231 67h.9M228.5 86.5h.9M214.5 76h.9M212.5 90.5h.9M217 90h.9M215.5 74.5h.9M216 76.5h.9M206 68.5h.9M202 78.5h.9M230 78h.9M204.5 88h.9M198.5 90.5h.9M210 81h.9M202 92h.9M184 94h.9M190 66h.9M171 80.5h.9M223 98h.9M204.5 89.5h.9M198 78.5h.9M225.5 88h.9M186.5 94.5h.9M191.5 75.5h.9M201 71.5h.9M217.5 81h.9M196.5 91.5h.9M202.5 76.5h.9M193.5 82.5h.9M219.5 73h.9M210 97h.9M187.5 83.5h.9M200.5 79h.9M202.5 99.5h.9M204 95h.9M222 70.5h.9M194.5 86h.9M211.5 94h.9M225.5 80h.9M193 85.5h.9M184 70.5h.9M196.5 80.5h.9M226 83.5h.9M210 85.5h.9M234 74h.9M193.5 72.5h.9M227 82h.9M188 93h.9M227.5 81.5h.9M196.5 95.5h.9M193.5 86.5h.9M186.5 84.5h.9M194 106h.9M205 102h.9M200 102h.9M196.5 104.5h.9M192 111h.9M195 105.5h.9M196.5 108h.9M206 106h.9M197.5 103.5h.9M195 100.5h.9M195.5 101h.9M191 99h.9M197.5 105.5h.9M191 104h.9M192.5 104.5h.9M194 105.5h.9M207 110.5h.9M205 103h.9M195 105h.9M200.5 106h.9M197 106.5h.9M199.5 103.5h.9M196 108.5h.9M200 102.5h.9M205 104.5h.9M196 99h.9M203 105h.9M196.5 104h.9M200.5 103h.9M191 102h.9" stroke="#111" stroke-width="0.9" stroke-opacity="0.8" fill="none"/>
<rect x="157.8" y="39.4" width="98.0" height="93.4" fill="none" stroke="#3a3a3a" stroke-width="1.15"/>
<path d="M189.7 39.4V132.8M157.8 101.3H255.8" stroke="#555" stroke-width="1.05" fill="none"/>
<path d="M157.8 132.80h-2.2M157.80 132.8v2.2M157.8 125.77h-1.2M165.18 132.8v1.2M157.8 121.66h-1.2M169.49 132.8v1.2M157.8 118.74h-1.2M172.55 132.8v1.2M157.8 116.48h-1.2M174.92 132.8v1.2M157.8 114.63h-1.2M176.86 132.8v1.2M157.8 113.07h-1.2M178.50 132.8v1.2M157.8 111.71h-1.2M179.93 132.8v1.2M157.8 110.52h-1.2M181.18 132.8v1.2M157.8 109.45h-2.2M182.30 132.8v2.2M157.8 102.42h-1.2M189.68 132.8v1.2M157.8 98.31h-1.2M193.99 132.8v1.2M157.8 95.39h-1.2M197.05 132.8v1.2M157.8 93.13h-1.2M199.42 132.8v1.2M157.8 91.28h-1.2M201.36 132.8v1.2M157.8 89.72h-1.2M203.00 132.8v1.2M157.8 88.36h-1.2M204.43 132.8v1.2M157.8 87.17h-1.2M205.68 132.8v1.2M157.8 86.10h-2.2M206.80 132.8v2.2M157.8 79.07h-1.2M214.18 132.8v1.2M157.8 74.96h-1.2M218.49 132.8v1.2M157.8 72.04h-1.2M221.55 132.8v1.2M157.8 69.78h-1.2M223.92 132.8v1.2M157.8 67.93h-1.2M225.86 132.8v1.2M157.8 66.37h-1.2M227.50 132.8v1.2M157.8 65.01h-1.2M228.93 132.8v1.2M157.8 63.82h-1.2M230.18 132.8v1.2M157.8 62.75h-2.2M231.30 132.8v2.2M157.8 55.72h-1.2M238.68 132.8v1.2M157.8 51.61h-1.2M242.99 132.8v1.2M157.8 48.69h-1.2M246.05 132.8v1.2M157.8 46.43h-1.2M248.42 132.8v1.2M157.8 44.58h-1.2M250.36 132.8v1.2M157.8 43.02h-1.2M252.00 132.8v1.2M157.8 41.66h-1.2M253.43 132.8v1.2M157.8 40.47h-1.2M254.68 132.8v1.2M157.8 39.4h-2.2M255.8 132.8v2.2" stroke="#222" stroke-width="0.85" fill="none"/>
<text transform="translate(145.10,134.60) scale(1,1.08)" font-size="6.7" fill="#000" stroke="#000" stroke-width=".12">10<tspan font-size="4.7" dy="-2.4">0</tspan></text>
<text transform="translate(155.40,143.30) scale(1,1.08)" font-size="6.7" fill="#000" stroke="#000" stroke-width=".12">10<tspan font-size="4.7" dy="-2.4">0</tspan></text>
<text transform="translate(145.10,111.60) scale(1,1.08)" font-size="6.7" fill="#000" stroke="#000" stroke-width=".12">10<tspan font-size="4.7" dy="-2.4">1</tspan></text>
<text transform="translate(179.61,143.30) scale(1,1.08)" font-size="6.7" fill="#000" stroke="#000" stroke-width=".12">10<tspan font-size="4.7" dy="-2.4">1</tspan></text>
<text transform="translate(145.10,88.60) scale(1,1.08)" font-size="6.7" fill="#000" stroke="#000" stroke-width=".12">10<tspan font-size="4.7" dy="-2.4">2</tspan></text>
<text transform="translate(203.81,143.30) scale(1,1.08)" font-size="6.7" fill="#000" stroke="#000" stroke-width=".12">10<tspan font-size="4.7" dy="-2.4">2</tspan></text>
<text transform="translate(145.10,65.60) scale(1,1.08)" font-size="6.7" fill="#000" stroke="#000" stroke-width=".12">10<tspan font-size="4.7" dy="-2.4">3</tspan></text>
<text transform="translate(228.02,143.30) scale(1,1.08)" font-size="6.7" fill="#000" stroke="#000" stroke-width=".12">10<tspan font-size="4.7" dy="-2.4">3</tspan></text>
<text transform="translate(145.10,42.60) scale(1,1.08)" font-size="6.7" fill="#000" stroke="#000" stroke-width=".12">10<tspan font-size="4.7" dy="-2.4">4</tspan></text>
<text transform="translate(252.22,143.30) scale(1,1.08)" font-size="6.7" fill="#000" stroke="#000" stroke-width=".12">10<tspan font-size="4.7" dy="-2.4">4</tspan></text>
<path d="M220.9 57.7H250.3M234.7 47.2V67.2" stroke="#222" stroke-width="1.1" fill="none"/>
<text transform="translate(227.20,55.30) scale(1,1.05)" font-size="8.8" font-weight="normal" font-style="normal" text-anchor="middle" fill="#000" stroke="#000" stroke-width=".15">17</text>
<text transform="translate(227.20,67.70) scale(1,1.05)" font-size="8.8" font-weight="normal" font-style="normal" text-anchor="middle" fill="#000" stroke="#000" stroke-width=".15">59</text>
<text transform="translate(243.20,67.70) scale(1,1.05)" font-size="8.8" font-weight="normal" font-style="normal" text-anchor="middle" fill="#000" stroke="#000" stroke-width=".15">2</text>
<text transform="translate(250.40,53.00) scale(1,1.05)" font-size="11" font-weight="bold" font-style="italic" text-anchor="end" fill="#000" >22</text>
<path d="M47 193.5h.9M46.5 188h.9M40 180.5h.9M42 207.5h.9M34 188h.9M55.5 216.5h.9M38 177h.9M47.5 169h.9M41.5 174.5h.9M52 217h.9M56.5 178.5h.9M42 217.5h.9M60 169h.9M52 215h.9M45.5 187.5h.9M47.5 183.5h.9M51.5 219.5h.9M62.5 192.5h.9M43 175.5h.9M34 172h.9M41.5 182h.9M49 190h.9M43.5 172.5h.9M39 184.5h.9M37.5 189h.9M55 171.5h.9M48.5 228h.9M50.5 189h.9M48.5 203.5h.9M34 197h.9M52.5 201.5h.9M50 202h.9M65.5 181.5h.9M47.5 188h.9M66.5 193h.9M53 196.5h.9M42.5 182h.9M41 193h.9M41 157.5h.9M57.5 192h.9M53.5 203.5h.9M47.5 199.5h.9M55.5 212h.9M46.5 180h.9M46.5 195h.9M46 209h.9M36.5 186.5h.9M46.5 189h.9M47 190.5h.9M51 213.5h.9M43.5 189.5h.9M43 179h.9M58 217h.9M45 172.5h.9M44 181h.9M53 193.5h.9M53 178h.9M47 186h.9M40.5 200.5h.9M47.5 197.5h.9M62.5 176h.9M44 228.5h.9M45.5 198h.9M55.5 188.5h.9M54.5 204.5h.9M46 157h.9M44 171.5h.9M58 181.5h.9M50 205h.9M45.5 181h.9M49.5 173h.9M41 187.5h.9M41 179.5h.9M48 187h.9M40.5 202.5h.9M57 199.5h.9M49.5 173.5h.9M55.5 209.5h.9M53.5 183h.9M53 180h.9M41 192.5h.9M51.5 184h.9M56 187h.9M43.5 204h.9M44 216h.9M38.5 179h.9M48 186h.9M46.5 201h.9M47 183h.9M43.5 168h.9M66.5 210h.9M52 190.5h.9M41 209.5h.9M54.5 174.5h.9M37.5 196h.9M55 176.5h.9M59 187h.9M34 180.5h.9M53 213.5h.9M42 194.5h.9M46.5 175h.9M55 179.5h.9M40 185h.9M64.5 196.5h.9M43.5 210.5h.9M59 198.5h.9M58.5 184h.9M52 208.5h.9M49 189h.9M51.5 180h.9M52 198h.9M53.5 183.5h.9M34 179h.9M50.5 188.5h.9M50.5 195h.9M64.5 200h.9M48 205.5h.9M52.5 208h.9M35 197h.9M41 212h.9M49.5 205.5h.9M37.5 209h.9M53.5 202.5h.9M47.5 208.5h.9M34 183h.9M58 203.5h.9M52 188.5h.9M58 167.5h.9M40.5 181.5h.9M46 199.5h.9M59 200.5h.9M44 202h.9M34 203h.9M50.5 184.5h.9M45 178.5h.9M39.5 190.5h.9M45.5 184h.9M58 185h.9M46.5 183h.9M60.5 176.5h.9M50 172h.9M54 189.5h.9M45.5 206h.9M45 186.5h.9M35.5 192.5h.9M51.5 217.5h.9M52.5 197h.9M47.5 200h.9M54.5 214h.9M52 174h.9M52 214h.9M47.5 198h.9M46.5 184h.9M41 221h.9M40.5 187.5h.9M43.5 188.5h.9M56.5 191.5h.9M59 198h.9M54.5 169.5h.9M34 186h.9M43.5 195.5h.9M40 189.5h.9M42.5 198h.9M54.5 196.5h.9M50 203h.9M43 184.5h.9M48 198.5h.9M39.5 200.5h.9M53.5 177h.9M49 217.5h.9M58 214h.9M47 171h.9M53 189h.9M47 191h.9M41.5 189h.9M49 186.5h.9M34 200.5h.9M46.5 231.5h.9M34.5 204h.9M47 207.5h.9M57.5 174h.9M48 209h.9M52.5 216h.9M46.5 185h.9M57.5 173.5h.9M62 196.5h.9M49 199h.9M53.5 174h.9M48 189h.9M53 203h.9M44.5 191.5h.9M64.5 190h.9M66.5 191h.9M56.5 175h.9M54 216h.9M45.5 210.5h.9M40 208h.9M51 181.5h.9M37.5 210h.9M47.5 178.5h.9M44.5 196.5h.9M45.5 182.5h.9M38.5 184h.9M52.5 193.5h.9M43 207h.9M40.5 188.5h.9M50.5 186h.9M43 193h.9M48 169.5h.9M53.5 191.5h.9M56.5 189.5h.9M58 190.5h.9M63 212h.9M55.5 213.5h.9M48 181.5h.9M49.5 191.5h.9M56 174.5h.9M49.5 172.5h.9M59.5 172.5h.9M40.5 213.5h.9M39 173.5h.9M48 199h.9M44 176.5h.9M49.5 192.5h.9M63.5 161.5h.9M55 215h.9M49.5 210h.9M53 187.5h.9M41.5 187.5h.9M59 180h.9M52 183h.9M50 206h.9M51.5 181.5h.9M53 175h.9M41 200.5h.9M52.5 173.5h.9M40.5 189h.9M40 166.5h.9M54 202.5h.9M54 194h.9M54.5 170.5h.9M51 206h.9M50 176h.9M35 192.5h.9M62 186h.9M43.5 183.5h.9M52.5 161.5h.9M48.5 198h.9M45.5 201.5h.9M36.5 198h.9M54 197.5h.9M48.5 195.5h.9M54 204.5h.9M46.5 190.5h.9M34 179.5h.9M50 200.5h.9M55 205h.9M51.5 183h.9M51.5 213.5h.9M60 157.5h.9M36 190h.9M49.5 186h.9M57 202h.9M44.5 192h.9M40.5 201.5h.9M46.5 179.5h.9M47.5 174h.9M51 195h.9M53 217h.9M52 189h.9M50.5 210.5h.9M57.5 199.5h.9M53 181.5h.9M50 211h.9M47 200h.9M41.5 199h.9M58 188h.9M43.5 193.5h.9M47 187h.9M51.5 191h.9M65 198.5h.9M49 178.5h.9M52 185h.9M52.5 198h.9M46.5 198.5h.9M50 160.5h.9M47 192h.9M34 206.5h.9M61.5 193h.9M51 190.5h.9M38 176h.9M65 224.5h.9M56 192h.9M41.5 190.5h.9M34 189h.9M46 214h.9M50 187h.9M50.5 173.5h.9M52.5 223h.9M43.5 182.5h.9M49 214h.9M60.5 209h.9M46 200.5h.9M46.5 192h.9M42 185h.9M46 189h.9M53 183h.9M60 185.5h.9M40.5 185.5h.9M40.5 172.5h.9M52 186h.9M46.5 172.5h.9M55 203h.9M47 189h.9M49.5 213.5h.9M50.5 179.5h.9M49.5 192h.9M56.5 213.5h.9M49.5 184h.9M60 177h.9M53 179.5h.9M46.5 217.5h.9M42 209h.9M59 211.5h.9M49 201.5h.9M45.5 208.5h.9M61.5 180.5h.9M52.5 181h.9M47.5 186h.9M48 209.5h.9M52.5 163.5h.9M44.5 178.5h.9M43 186h.9M45 189h.9M50 174.5h.9M35 171.5h.9M58 197h.9M51 173h.9M36.5 201.5h.9M42.5 191h.9M58.5 194.5h.9M63.5 207h.9M49.5 165.5h.9M52.5 160h.9M44 195h.9M48 168.5h.9M49 182.5h.9M47.5 177h.9M44 189.5h.9M45 182h.9M45 171.5h.9M39.5 192h.9M45 191h.9M54 182.5h.9M44 174h.9M43.5 185h.9M62.5 179.5h.9M62.5 197.5h.9M63 182.5h.9M46.5 179h.9M44.5 170h.9M51.5 189h.9M53 181h.9M48 175h.9M39 198.5h.9M50.5 177.5h.9M52.5 182h.9M58 169h.9M41 164h.9M43.5 175.5h.9M57 183.5h.9M36 198.5h.9M43 170.5h.9M49.5 168.5h.9M53.5 186h.9M51.5 187h.9M51 180h.9M46 163.5h.9M54 183h.9M52.5 185h.9M52 168.5h.9M45.5 179h.9M57.5 186h.9M48 188.5h.9M48.5 190h.9M46 198h.9M46 169.5h.9M44 185h.9M44.5 186.5h.9M42 189h.9M42.5 187.5h.9M44 178h.9M38.5 183h.9M46 190.5h.9M38 185h.9M46.5 170.5h.9M49.5 181.5h.9M47 191.5h.9M57 180h.9M48 174.5h.9M48.5 173h.9M45.5 193.5h.9M42.5 176h.9M53.5 181.5h.9M55.5 179h.9M40 176h.9M42 186h.9M59.5 187.5h.9M53 174.5h.9M45 161.5h.9M43.5 177.5h.9M54.5 196h.9M39.5 210.5h.9M51 181h.9M44.5 196h.9M40.5 196h.9M62.5 198h.9M49 192h.9M56.5 177.5h.9M52.5 187h.9M52 182.5h.9M52 173.5h.9M34 178.5h.9M52.5 174h.9M56 186h.9M61 187h.9M43 173.5h.9M52.5 174.5h.9M41.5 170h.9M64.5 176.5h.9M34 177h.9M52.5 184h.9M41.5 174h.9M52.5 188.5h.9M58 180h.9M46.5 176.5h.9M59.5 194h.9M46 188.5h.9M35 178h.9M49.5 171h.9M35 187h.9M45 176.5h.9M39 187h.9M36 182.5h.9M43.5 169h.9M41.5 181h.9M44.5 182h.9M41 168.5h.9M47 179.5h.9M47.5 196.5h.9M46.5 172h.9M48.5 190.5h.9M63 178h.9M49.5 175.5h.9M47 180.5h.9M45 165.5h.9M47.5 170.5h.9M56.5 198.5h.9M42.5 177.5h.9M41 180h.9M50 183.5h.9M42 176h.9M53 178.5h.9M41 193.5h.9M38.5 175.5h.9M54 192.5h.9M37.5 172.5h.9M39.5 189h.9M45 181.5h.9M59 184h.9M43 177h.9M36 175.5h.9M46.5 182.5h.9M41.5 179.5h.9M44 186h.9M39 172.5h.9M44.5 174h.9M64.5 182h.9M34 190.5h.9M45 186h.9M60.5 180h.9M40 182.5h.9M39 192.5h.9M54.5 187h.9M50 170h.9M39.5 163.5h.9M60 176.5h.9M49.5 176.5h.9M55 174.5h.9M64 164.5h.9M48.5 179.5h.9M41 165h.9M53 164h.9M46.5 185.5h.9M42 198h.9M42 173.5h.9M48 178.5h.9M36 183.5h.9M75 215.5h.9M101 221.5h.9M118.5 236.5h.9M78 224h.9M89 231.5h.9M91 229.5h.9M88.5 233.5h.9M86.5 236.5h.9M78 228h.9M99 227h.9M103 234h.9M89.5 234.5h.9M80 229h.9M78 237h.9M70 234h.9M82.5 237.5h.9M64 227.5h.9M58.5 235h.9M82.5 241h.9M92 241h.9M79.5 244h.9M73 227.5h.9M97.5 231h.9M82.5 227.5h.9M100 237.5h.9M95 233h.9M79 226.5h.9M89.5 229h.9M96 232.5h.9M86 225h.9M100.5 222h.9M115 229.5h.9M70 236h.9M84.5 228h.9M80.5 225h.9M108.5 239h.9M105 226h.9M89.5 217.5h.9M94.5 234h.9M93.5 239.5h.9M89 220h.9M102.5 246h.9M75.5 236h.9M87 222.5h.9M84 224h.9M98 224h.9M101.5 238h.9M83.5 219.5h.9M83.5 221.5h.9M80 211h.9M84 230.5h.9M80 236h.9M77.5 228.5h.9M97.5 235h.9M86.5 221.5h.9M106.5 233h.9M114.5 235h.9M89 235.5h.9M95 231.5h.9M97 234h.9M70 230h.9M73.5 248.5h.9M108 232h.9M60.5 242h.9M123 228h.9M102.5 220h.9M92.5 232h.9M99 235h.9M100 229.5h.9M76.5 224.5h.9M69 230.5h.9M84.5 227.5h.9M94 230h.9M88 247h.9M80 230h.9M76 238.5h.9M74 233h.9M85.5 240.5h.9M68 246h.9M88 248.5h.9M76.5 235h.9M85 236.5h.9M69.5 227.5h.9M85 229h.9M93.5 225.5h.9M81 232.5h.9M75.5 231.5h.9M100.5 236h.9M76 237h.9M61.5 233h.9M116 237.5h.9M76.5 231h.9M79.5 228h.9M110 220.5h.9M105.5 233h.9M99 226h.9M90.5 231.5h.9M95.5 228h.9M102 230h.9M83 231.5h.9M88 238.5h.9M83 230h.9M77 234.5h.9M85.5 239h.9M101.5 223.5h.9M81 225.5h.9M85 223h.9M84 232h.9M81 224h.9M85.5 239.5h.9M62 205h.9M80.5 199.5h.9M81.5 191.5h.9M86 212h.9M73.5 206h.9M66 203h.9M77 213h.9M78 187.5h.9M74.5 203.5h.9M82.5 192.5h.9M88 192h.9M76 218h.9M83 193.5h.9M83.5 204.5h.9M52 208h.9M62 202h.9M77.5 215.5h.9M91.5 187h.9M71 189h.9M83.5 215.5h.9M74 199.5h.9M74 197h.9M73.5 208h.9M81 189.5h.9M76 221.5h.9M71.5 205.5h.9M69.5 225.5h.9M68 210h.9M58.5 194h.9M85 202h.9M79 210.5h.9M73.5 208.5h.9M90 219.5h.9M72 203.5h.9M78.5 194h.9M83 189.5h.9M66.5 205.5h.9M75.5 203h.9M81.5 215.5h.9M91 210h.9" stroke="#222" stroke-width="0.9" stroke-opacity="0.7" fill="none"/>
<path d="M44 237.5h.9M48 230h.9M53 238.5h.9M47.5 221.5h.9M55.5 231h.9M60.5 236h.9M46 225h.9M51 229h.9M46 229.5h.9M56 229h.9M42 227h.9M54 248.5h.9M48 222h.9M50.5 231.5h.9M51.5 226h.9M47 231h.9M46 230.5h.9M58.5 231.5h.9M53 228h.9M52 230.5h.9M57 228h.9M47 230h.9M54.5 228.5h.9M49.5 230h.9M42.5 237h.9M47 235h.9M51 219.5h.9M46 228h.9M45.5 222h.9M53 237.5h.9M50.5 228h.9M48 241h.9M42.5 229.5h.9M53 225.5h.9M55.5 235.5h.9M50.5 216h.9M53 236h.9M49.5 235h.9M55.5 229.5h.9M55 222.5h.9M51.5 224h.9M54.5 229h.9M50 219h.9M57 229.5h.9M55.5 233.5h.9M49.5 223.5h.9M56 224h.9M51.5 237h.9M49.5 229h.9M51 228h.9M48 231.5h.9M53 222h.9M50 230h.9M50.5 232h.9M59.5 238h.9M39 233h.9M48.5 222h.9M56.5 235.5h.9M46.5 225.5h.9M44 229h.9M56.5 235h.9M58 234.5h.9M48.5 226.5h.9M51.5 222h.9M48.5 236h.9M53 231.5h.9M53 232.5h.9M50.5 230.5h.9M45.5 239.5h.9M51 230.5h.9M47.5 236h.9M47.5 234h.9M51 226.5h.9M50 231.5h.9M43.5 229h.9M53.5 229.5h.9M48 233.5h.9M48.5 230h.9M44.5 225.5h.9M46.5 237.5h.9M43 229h.9M49 238.5h.9M46 232h.9M48 235h.9M55 230h.9M46.5 223.5h.9M54 230h.9M46 230h.9M49.5 228.5h.9M42 220h.9M50 232h.9M52.5 228h.9M35 227h.9M45.5 234h.9M51.5 234.5h.9M50.5 225.5h.9M46.5 226h.9M48.5 233h.9M52 233.5h.9M51 233h.9M42 229.5h.9M53 239h.9M50 228h.9M50 224.5h.9M48 234h.9M55 228h.9M52.5 232.5h.9M51.5 235h.9M57.5 228.5h.9M47.5 235h.9M49 236h.9M49.5 225h.9M45.5 222.5h.9M52 224.5h.9M52.5 225h.9M43.5 227.5h.9M52.5 233h.9M46.5 231.5h.9M49.5 228h.9M50.5 235h.9M56 229.5h.9M51 240.5h.9M48.5 232.5h.9M51 225h.9M47 233.5h.9M55.5 233h.9M50 232.5h.9M47 233h.9M54.5 238h.9M53.5 237h.9M52 228.5h.9M51.5 225.5h.9M51 228.5h.9M49.5 236.5h.9M48 225h.9M48 232.5h.9M56.5 227h.9M50 229h.9M49.5 226.5h.9M41.5 238h.9M49 226h.9M41.5 233.5h.9M46.5 233h.9M46 235.5h.9M49 229.5h.9M53 231h.9M41.5 225.5h.9M51.5 233h.9M54.5 223.5h.9M54.5 231.5h.9M42.5 235h.9M52.5 222h.9M50 231h.9M52.5 231h.9M53 230.5h.9M49 233.5h.9M43 238.5h.9M46.5 233.5h.9M43 237.5h.9M51 224.5h.9M48 236.5h.9M40 236.5h.9M40 225h.9M51.5 227.5h.9M43 221.5h.9M41.5 230h.9M54 231.5h.9M48 240h.9M46 227h.9M49 227.5h.9M55.5 229h.9M52.5 230.5h.9M49 225h.9M53 233h.9M44.5 228.5h.9M43 226.5h.9M46 229h.9M54 229h.9M46 231h.9M48 234.5h.9M45 236.5h.9M49.5 242.5h.9M45.5 237h.9M49 226.5h.9M45 231h.9M44 241h.9M44.5 234.5h.9M41 225h.9M53.5 218.5h.9M49.5 231.5h.9M53 223.5h.9M47 225.5h.9M49.5 224h.9M53.5 229h.9M51 227h.9M55.5 239.5h.9M48.5 229.5h.9M40 234.5h.9M43.5 220.5h.9M48.5 225h.9M45.5 230h.9M46.5 235h.9M42.5 228.5h.9M49 234h.9M51.5 232h.9M55.5 238h.9M48.5 239.5h.9M57 226.5h.9M46.5 232.5h.9M46.5 228.5h.9M45 241h.9M54.5 228h.9M40 229.5h.9M51 232h.9M51 235h.9M50 226h.9M48.5 224h.9M52 231h.9M55 235.5h.9M47.5 225h.9M50 228.5h.9M54.5 226h.9M45 224.5h.9M47.5 230.5h.9M53.5 235h.9M49.5 234.5h.9M46.5 228h.9M49.5 227h.9M54 228.5h.9M50.5 227.5h.9M50 223h.9M54 238.5h.9M47 234.5h.9M49 243.5h.9M50.5 231h.9M53 233.5h.9M48 217.5h.9M48 228h.9M60.5 237.5h.9M46 231.5h.9M53 235h.9M46 233h.9M44 228h.9M44 222h.9M51 221h.9M39.5 236.5h.9M40.5 226.5h.9M46 232.5h.9M50 234.5h.9M40.5 231.5h.9M50.5 234h.9M48.5 226h.9M44 241.5h.9M44.5 235.5h.9M61.5 225.5h.9M50.5 227h.9M48.5 223.5h.9M57.5 232h.9M35 218.5h.9M49 240.5h.9M52.5 233.5h.9M46.5 236h.9M52 230h.9M47.5 234.5h.9M47.5 227h.9M43.5 235.5h.9M48 223.5h.9M47.5 241h.9M49 232.5h.9M53 234.5h.9M38.5 230.5h.9M42.5 230h.9M52.5 227.5h.9M45 229.5h.9M47 231.5h.9M59.5 228h.9M40.5 227h.9M56 235h.9M51 221.5h.9M40.5 227.5h.9M43 232h.9M53.5 235.5h.9M40 242h.9M59 227h.9M50.5 222.5h.9M48.5 228h.9M38.5 220.5h.9M49 223.5h.9M53.5 220h.9M51 233.5h.9M51 229.5h.9M50 229.5h.9M58 223h.9M45.5 233.5h.9M48 227h.9M41 223.5h.9M49.5 225.5h.9M46 221h.9M54.5 227.5h.9M56 234.5h.9M55 227.5h.9M48.5 227.5h.9M44 234.5h.9M59 231h.9M51.5 229.5h.9M56 226h.9M53.5 222.5h.9M51.5 231.5h.9M50 236h.9M55 242h.9M48.5 230.5h.9M49 231.5h.9M44.5 231h.9M42.5 232.5h.9M45.5 223.5h.9M42.5 226h.9M54 230.5h.9M56 227h.9M42.5 234.5h.9M52.5 223.5h.9M50.5 238.5h.9M46.5 223h.9M49.5 229.5h.9M57.5 220h.9M48.5 231.5h.9M46.5 231h.9M38.5 235h.9M48.5 228.5h.9M51.5 224.5h.9M41 232h.9M48 233h.9M39 235.5h.9M52 229.5h.9M47.5 226.5h.9M40.5 224.5h.9M50 227.5h.9M43 228.5h.9M57 233.5h.9M47.5 237h.9M45.5 233h.9M59 236.5h.9M47.5 241.5h.9M44 231h.9M44 223.5h.9M43 224h.9M43.5 236h.9M57.5 221h.9M46.5 224h.9M56.5 225.5h.9M46.5 238.5h.9M53.5 219h.9M53.5 241h.9M45 221.5h.9M44.5 226h.9M49 221.5h.9M53.5 226.5h.9M47 227h.9M41.5 223.5h.9M58 214.5h.9M42 221h.9M48 232h.9M53 222.5h.9M50.5 229h.9M56.5 234.5h.9M47.5 230h.9M51 231h.9M47.5 229h.9M50.5 221h.9M39 222h.9M57.5 233.5h.9M59.5 235.5h.9M54.5 230.5h.9M45 224h.9M47.5 227.5h.9M54.5 232.5h.9M48 224h.9M47 237.5h.9M50 221h.9M55.5 226h.9M47 218.5h.9M56.5 231.5h.9M50 241h.9M46.5 229.5h.9M46.5 227.5h.9M46 237h.9M49 221h.9M53.5 228.5h.9M53.5 231h.9M49.5 238.5h.9M49 230h.9M34.5 223.5h.9M55 231h.9M45.5 231.5h.9M43 229.5h.9M51 220h.9M52 234h.9M46 224.5h.9M54 234h.9M54 233h.9M47.5 238h.9M49.5 237h.9M39 226.5h.9M41 229.5h.9M48 243h.9M50.5 234.5h.9M54 223h.9M38.5 234h.9M40.5 234.5h.9M51 223.5h.9M50 233.5h.9M42.5 232h.9M48 229.5h.9M50 237.5h.9M43.5 237.5h.9M44 226.5h.9M41 230h.9M51.5 237.5h.9M44.5 227h.9M44 235.5h.9M45 230h.9M50.5 226h.9M43 232.5h.9M53 229.5h.9M40.5 225.5h.9M54 226h.9M49.5 227.5h.9M46.5 232h.9M39.5 222h.9M53.5 230h.9M53 227.5h.9M43 226h.9M42 221.5h.9M52.5 239.5h.9M47 240h.9M45.5 229h.9M51 234.5h.9M43 241h.9M50.5 228.5h.9M52.5 225.5h.9M51.5 228.5h.9M55 236h.9M48.5 247h.9M52.5 226h.9M51.5 230h.9M51 237h.9M54 237.5h.9M57 228.5h.9M51 232.5h.9M54 235h.9M58 226.5h.9M52.5 235h.9M51.5 231h.9M43 236.5h.9M53 229h.9M50.5 236.5h.9M49 223h.9M48.5 221.5h.9M49 241h.9M52 239h.9M50.5 223.5h.9M41 231.5h.9M47 236h.9M49.5 240.5h.9M46.5 230h.9M61 223h.9M50.5 233h.9M43 230h.9M54.5 225h.9M45.5 238h.9M58 218.5h.9M52 231.5h.9M50.5 218h.9M55 233h.9M50.5 225h.9M44.5 236h.9M53.5 233.5h.9M58.5 232.5h.9M49.5 238h.9M60.5 221.5h.9M45 237.5h.9M47.5 239h.9M43 233h.9M47.5 233.5h.9M45 244.5h.9M58 232h.9M48 228.5h.9M48.5 234.5h.9M55.5 227.5h.9M54 225h.9M50 237h.9M47.5 237.5h.9M50.5 241h.9M51 237.5h.9M44.5 237h.9M41.5 243.5h.9M54 227h.9M51.5 229h.9M48.5 234h.9M48.5 223h.9M49 235.5h.9M45 238.5h.9M49.5 235.5h.9M50 230.5h.9M44 224.5h.9M42 228.5h.9M47 232h.9M45.5 236h.9M54.5 225.5h.9M44.5 228h.9M45 221h.9M50.5 235.5h.9M59 235h.9M60 225.5h.9M43 228h.9M43.5 236.5h.9M44 228.5h.9M57 234h.9M51.5 241h.9M54 220h.9M52.5 228.5h.9M49.5 230.5h.9M46.5 234h.9M53.5 227.5h.9M57 235.5h.9M42 222.5h.9M55.5 232.5h.9M45.5 225h.9M44 231.5h.9M52 225h.9M44 227.5h.9M47 238h.9M54.5 233.5h.9M54.5 235.5h.9M51.5 218.5h.9M54.5 224.5h.9M59 226h.9M41.5 230.5h.9M58.5 237.5h.9M54.5 239.5h.9M47.5 233h.9M55 232.5h.9M45 229h.9M43.5 232h.9M52 221h.9M56.5 236.5h.9M58 231h.9M40 220.5h.9M46.5 237h.9M52.5 227h.9M52 233h.9M49 232h.9M55 229.5h.9M54 236h.9M48 224.5h.9M48.5 241.5h.9M52 232.5h.9M53.5 223h.9M40 230h.9M44 229.5h.9M57 229h.9M54 229.5h.9M54.5 224h.9M54.5 229.5h.9M46 227.5h.9M52.5 232h.9M49.5 236h.9M43.5 229.5h.9M41.5 226h.9M52 237.5h.9M49 224.5h.9M49 229h.9M48 222.5h.9M45 228h.9M53.5 231.5h.9M51 227.5h.9M51 240h.9M53.5 234h.9M44.5 230.5h.9M50 223.5h.9M44.5 223h.9M54.5 230h.9M52 229h.9M54 231h.9M40.5 233h.9M54.5 218.5h.9M49.5 220h.9M57.5 237h.9M53 225h.9M50.5 229.5h.9M50.5 239h.9M45.5 224h.9M56.5 229.5h.9M40.5 232.5h.9M41.5 224h.9M37.5 227.5h.9M48.5 235h.9M52 221.5h.9M43.5 232.5h.9M46.5 235.5h.9M38 227.5h.9M39.5 228.5h.9M59 226.5h.9M52 227h.9M56 230.5h.9M50.5 230h.9M42 230.5h.9M47.5 225.5h.9M47.5 231h.9M51.5 230.5h.9M52.5 231.5h.9M56 231h.9M42.5 227.5h.9M51.5 234h.9M55.5 225.5h.9M49.5 233.5h.9M46 240.5h.9M58.5 224.5h.9M55 233.5h.9M45 233h.9M53.5 228h.9M50.5 220.5h.9M45 236h.9M61 229h.9M48 229h.9M60.5 222.5h.9M54.5 226.5h.9M55.5 230h.9M41.5 237h.9M43.5 228h.9M47 227.5h.9M38 230.5h.9M46 235h.9M55.5 225h.9M54 232.5h.9M37 220.5h.9M46.5 239h.9M46 236h.9M48 235.5h.9M42.5 238h.9M56 228.5h.9M57.5 241h.9M59 221h.9M43 231h.9M46.5 224.5h.9M50 226.5h.9M46 234.5h.9M53 226h.9M48.5 229h.9M47.5 228h.9M51.5 238.5h.9M53.5 232h.9M50.5 223h.9M58.5 230.5h.9M44.5 230h.9M48 227.5h.9M45 222.5h.9M43.5 228.5h.9M44 227h.9M48.5 241h.9M37 228.5h.9M53.5 226h.9M45 225h.9M47 228h.9M57 231h.9M53.5 225h.9M55 240.5h.9M44.5 226.5h.9M41.5 232h.9M43.5 233h.9M49 227h.9M47.5 216.5h.9M45 234.5h.9M52 238h.9M50.5 240.5h.9M42.5 226.5h.9M45 230.5h.9M50.5 219.5h.9M57 223h.9M42.5 220.5h.9M52 224h.9M45.5 226.5h.9M43.5 226.5h.9M53 235.5h.9M50.5 233.5h.9M51.5 219.5h.9M47 226.5h.9M44 232.5h.9M46.5 226.5h.9M49 228.5h.9M40.5 240h.9M57.5 231.5h.9M45 232h.9M46.5 220h.9M39 237.5h.9M54.5 233h.9M50.5 224.5h.9M55 228.5h.9M54 223.5h.9M53 220h.9M47 234h.9M48.5 219h.9M55 236.5h.9M60.5 230h.9M49 237.5h.9M54.5 232h.9M46.5 217h.9M43.5 231.5h.9M43 222.5h.9M47.5 224h.9M57.5 232.5h.9M50 227h.9M54.5 235h.9M43.5 224.5h.9M51.5 227h.9M53 237h.9M56.5 232h.9M44.5 227.5h.9M45.5 218.5h.9M48 236h.9M51 238h.9M52 234.5h.9M44.5 232.5h.9M53.5 232.5h.9M42 245.5h.9M52 232h.9M49 233h.9M49.5 224.5h.9M53 232h.9M43 235h.9M47 232.5h.9M58.5 239.5h.9M41 233h.9M51.5 240h.9M43.5 234h.9M52 237h.9M46 222h.9M42 226h.9M56.5 226h.9M57.5 221.5h.9M52 236h.9M51 241h.9M46.5 225h.9M50 236.5h.9M45 223h.9M51 223h.9M43.5 224h.9M47.5 224.5h.9M49.5 222h.9M58 233h.9M49 230.5h.9M41.5 234h.9M50 224h.9M52.5 230h.9M50 235.5h.9M52.5 221h.9M49 228h.9M47 228.5h.9M50.5 242h.9M56 236h.9M47.5 236.5h.9M44 239h.9M51 231.5h.9M50.5 236h.9M50 240.5h.9M61 231.5h.9M42.5 233h.9M57 237h.9M54 227.5h.9M59 230h.9M60.5 233h.9M49.5 240h.9M41.5 227.5h.9M45 225.5h.9M55.5 237h.9M53 227h.9M51.5 225h.9M50 221.5h.9M48.5 238.5h.9M41.5 235.5h.9M47 239.5h.9M43 231.5h.9M48.5 235.5h.9M52 217h.9M44 223h.9M49.5 232h.9M41 233.5h.9M52.5 234.5h.9M47.5 232h.9M37.5 229h.9M53 215.5h.9M56 230h.9M43 223h.9M49 215h.9M45.5 237.5h.9M46 226h.9M55 229h.9M44.5 232h.9M61.5 233.5h.9M50 233h.9M38.5 230h.9M44.5 236.5h.9M43.5 226h.9M36 232h.9M44.5 223.5h.9M47.5 239.5h.9M52.5 237h.9M51 238.5h.9M45.5 235.5h.9M47 229.5h.9M52.5 229.5h.9M57.5 229h.9M49.5 239.5h.9M53.5 227h.9M53 241h.9M48.5 224.5h.9M42.5 236.5h.9M49 242.5h.9M53 221h.9M52.5 226.5h.9M41.5 240h.9M51.5 228h.9M51 218.5h.9M40.5 232h.9M48.5 232h.9M52.5 221.5h.9M43 220h.9M46 238.5h.9M56 232.5h.9M50 238h.9M62 230h.9M45 234h.9M48.5 240h.9M53.5 236h.9M51.5 233.5h.9M54.5 222.5h.9M42.5 229h.9M58.5 226h.9M56.5 223.5h.9M46.5 220.5h.9M51.5 236h.9M58 228.5h.9M47 221.5h.9M50 225.5h.9M44 237h.9M47.5 231.5h.9M43.5 230.5h.9M44 224h.9M54.5 238.5h.9M41 234h.9M46 223h.9M40 232.5h.9M58.5 228.5h.9M53 236.5h.9M44.5 233h.9M55.5 224h.9M48 231h.9M46 225.5h.9M44.5 229h.9M45 226h.9M56.5 218.5h.9M54 236.5h.9M40 222.5h.9M41 232.5h.9M42 226.5h.9M49 231h.9M59.5 224h.9M56.5 240h.9M43.5 222.5h.9M48 220.5h.9M55 225.5h.9M47 224.5h.9M49 241.5h.9M42 236.5h.9M45.5 229.5h.9M48 238h.9M53.5 230.5h.9M43 225.5h.9M56.5 225h.9M44.5 220h.9M45 235h.9M49.5 221.5h.9M42.5 222.5h.9M47 245.5h.9M52.5 224.5h.9M40.5 235h.9M46 233.5h.9M49.5 231h.9M55 231.5h.9M49.5 232.5h.9M43 233.5h.9M48 226.5h.9M47.5 223.5h.9M48 225.5h.9M53.5 238.5h.9M49 239.5h.9M53 228.5h.9M53 226.5h.9M47 223.5h.9M59 225.5h.9M42 231h.9M44.5 215.5h.9M46.5 230.5h.9M50.5 237.5h.9M51.5 232.5h.9M45.5 224.5h.9M57 234.5h.9M44.5 229.5h.9M50.5 226.5h.9M51.5 226.5h.9M37.5 228.5h.9M43 239.5h.9M55 234h.9M59.5 233h.9M55.5 244h.9M48 238.5h.9M50 222.5h.9M51 217.5h.9M48.5 233.5h.9M46 228.5h.9M57.5 233h.9M40 245.5h.9M50 235h.9M57.5 234h.9M45.5 234.5h.9M56.5 230h.9M46.5 238h.9M49 234.5h.9M47 242h.9M55 227h.9M43.5 240h.9M52.5 234h.9M38 239.5h.9M53.5 245.5h.9M52.5 242h.9M57 230.5h.9M53.5 222h.9M55 232h.9M44.5 233.5h.9M48 221.5h.9M51.5 223.5h.9M43 237h.9M45 242.5h.9M49.5 233h.9M43 227.5h.9M52 227.5h.9M48.5 237.5h.9M38.5 222h.9M58 235h.9M56 233.5h.9M42.5 227h.9M51.5 222.5h.9M54 225.5h.9M40.5 219.5h.9M39.5 227.5h.9M51 230h.9M51.5 221.5h.9M52 225.5h.9M60.5 235h.9M59 228h.9M61.5 230h.9M52.5 219.5h.9M38 231.5h.9M47 230.5h.9M55.5 235h.9M45.5 238.5h.9M45.5 231h.9M52 220h.9M48.5 225.5h.9M42 232h.9M61 228.5h.9M41.5 231.5h.9M59.5 221.5h.9M56.5 226.5h.9M53.5 234.5h.9M45 232.5h.9M48.5 231h.9M41.5 236h.9M47.5 228.5h.9M55.5 226.5h.9M56.5 239.5h.9M52.5 236h.9M45 220.5h.9M53.5 216.5h.9M61 230h.9M51.5 236.5h.9M56 225h.9M55.5 223h.9M42.5 233.5h.9M54 234.5h.9M53 230h.9M50.5 242.5h.9M44 217.5h.9M47.5 235.5h.9M48.5 221h.9M45 237h.9M37.5 235h.9M52.5 241h.9M46.5 242h.9M48.5 222.5h.9M52 222h.9M52.5 222.5h.9M56 232h.9M54.5 221h.9M55 234.5h.9M51 220.5h.9M42 233.5h.9M50.5 239.5h.9M52 235.5h.9M43 224.5h.9M55.5 232h.9M47 224h.9M45.5 228.5h.9M58.5 235.5h.9M45.5 215h.9M52.5 238h.9M52 223h.9M58 228h.9M55.5 228h.9M53 219.5h.9M48 220h.9M47.5 232.5h.9M57 227h.9M57 221h.9M54.5 220.5h.9M54 224h.9M43.5 238h.9M49 218.5h.9M59 234h.9M43 234h.9M51.5 220.5h.9M57.5 223.5h.9M49 237h.9M43.5 215h.9M47 226h.9M47 225h.9M46 224h.9M47.5 226h.9M43.5 231h.9M46 226.5h.9M56 237h.9M42.5 230.5h.9M41.5 238.5h.9M51.5 235.5h.9M56 231.5h.9M44 235h.9M58 224.5h.9M54 235.5h.9M43 219h.9M56 245.5h.9M54 239h.9M59.5 226.5h.9M43 234.5h.9M47.5 222.5h.9M42 225.5h.9M54.5 234h.9M53.5 225.5h.9M58.5 228h.9M51.5 238h.9M44.5 225h.9M39 239.5h.9M45 227h.9M50 222h.9M55 235h.9M50 234h.9M54 233.5h.9M53.5 239h.9M52.5 218h.9M48 237.5h.9M44.5 240.5h.9M45.5 228h.9M56.5 230.5h.9M48 223h.9M60.5 232.5h.9M60 223h.9M55 221h.9M50 240h.9M45.5 239h.9M56 227.5h.9M42 237h.9M52 223.5h.9M53 234h.9M50.5 237h.9M45.5 227.5h.9M58 229h.9M52.5 236.5h.9M49.5 234h.9M46 219.5h.9M45 233.5h.9M45 222h.9M39.5 226h.9M43.5 222h.9M45.5 232h.9M47.5 223h.9M64 230.5h.9M49 240h.9M50 239h.9M50.5 240h.9M48 226h.9M52 236.5h.9M56.5 222.5h.9M41.5 234.5h.9M55 224h.9M57 225h.9M48 237h.9M48 239h.9M42 225h.9M56.5 233h.9M55 223h.9M48.5 220h.9M41.5 233h.9M56.5 236h.9M60 227h.9M60.5 227.5h.9M44.5 231.5h.9M39 236.5h.9M51 222h.9M49 225.5h.9M46.5 229h.9M54 232h.9M43 244h.9M57.5 238.5h.9M53 242h.9M52 226.5h.9M44.5 237.5h.9M47 238.5h.9M53.5 247.5h.9M51.5 223h.9M46.5 234.5h.9M49.5 222.5h.9M56 221h.9M50 239.5h.9M44 233h.9M39.5 240.5h.9M55.5 236h.9M45 227.5h.9M55.5 239h.9M42 233h.9M49 235h.9M44.5 221h.9M46 234h.9M44 225h.9M55 226.5h.9M41 234.5h.9M35.5 238h.9M61 235.5h.9M45 231.5h.9M55 239h.9M55.5 234h.9M49 220h.9M39 232.5h.9M41.5 228.5h.9M55.5 219.5h.9M44 230.5h.9M47 222.5h.9M44.5 235h.9M42.5 237.5h.9M49 238h.9M61.5 227.5h.9M46 239h.9M46.5 239.5h.9M46.5 227h.9M45.5 214.5h.9M58.5 225h.9M49 239h.9M56.5 229h.9M55.5 230.5h.9M53 220.5h.9M48 241.5h.9M59.5 234h.9M43 216h.9M43.5 230h.9M42 228h.9M40 221h.9M52.5 229h.9M40.5 240.5h.9M34 225.5h.9M53.5 221.5h.9M55 225h.9M42.5 224h.9M45 235.5h.9M44.5 238h.9M51 234h.9M39 233.5h.9M53.5 238h.9M43.5 223.5h.9M47 229h.9M44 233.5h.9M39 234.5h.9M49.5 219.5h.9M42.5 225h.9M37 229h.9M44 236h.9M44 225.5h.9M51 226h.9M40.5 239.5h.9M56 228h.9M53.5 242.5h.9M47 236.5h.9M47 241h.9M56.5 227.5h.9M45.5 226h.9M44.5 243.5h.9M39.5 237h.9M40.5 234h.9M42.5 240.5h.9M58 222.5h.9M50.5 238h.9M46.5 236.5h.9M41.5 222.5h.9M40.5 230h.9M61.5 228h.9M44 220h.9M59.5 243h.9M38.5 244h.9M49.5 217h.9M41.5 229h.9M45.5 244h.9M52 228h.9M50 217.5h.9M39.5 229h.9M51 246h.9M58.5 220h.9M39 242.5h.9M43.5 245.5h.9M37 224h.9M42 234.5h.9M59 237.5h.9M45 242h.9M44 245.5h.9M54 243.5h.9M41 240.5h.9M34 229.5h.9M60.5 243h.9M42 241h.9M52.5 242.5h.9M37 226h.9M39.5 232h.9M58.5 234h.9M52 244h.9M57.5 236h.9M44 230h.9M38.5 240.5h.9M56 234h.9M54.5 231h.9M47.5 242.5h.9M38 231h.9M55 246h.9M46 236.5h.9M41.5 221.5h.9M51 239h.9M53 246.5h.9M39.5 233h.9M40.5 231h.9M39.5 238h.9M54.5 245.5h.9M39 245.5h.9M48.5 242.5h.9M61 233.5h.9M42.5 240h.9M52.5 224h.9M46 220h.9M39 244h.9M43.5 240.5h.9M57.5 248.5h.9M41 243.5h.9M61 232h.9M43 223.5h.9M57.5 227h.9M58.5 233.5h.9M44 246h.9M36.5 236.5h.9M43 221h.9M41.5 239.5h.9M58 238h.9M40 227h.9M38.5 229.5h.9M48.5 227h.9M45.5 225.5h.9M61.5 230.5h.9M37.5 238h.9M38.5 222.5h.9M53 240.5h.9M40 235.5h.9M48.5 244.5h.9M61 243.5h.9M44 239.5h.9M55 222h.9M41 237h.9M57 238h.9M39.5 236h.9M49.5 239h.9M41 219.5h.9M56.5 248.5h.9M43.5 221h.9M34.5 231.5h.9M57 246.5h.9M52.5 244.5h.9M55 240h.9M42 227.5h.9M37.5 223h.9M39 243h.9M54.5 243h.9M61 239h.9M39 238.5h.9M35 228h.9M50.5 241.5h.9M56 237.5h.9M54 242.5h.9M36 231h.9M36 225.5h.9M35 222.5h.9M60 234.5h.9M37.5 231h.9M55.5 222h.9M36 238h.9M40 242.5h.9M56.5 224.5h.9M34.5 245.5h.9M61 238h.9M56.5 241.5h.9M38.5 236h.9M40 216.5h.9M39 235h.9M36.5 227h.9M61.5 236.5h.9M58 234h.9M38.5 233.5h.9M49 224h.9M43.5 238.5h.9M55 223.5h.9M60 235.5h.9M58 240.5h.9M38.5 237h.9M43.5 242.5h.9M36.5 234h.9M37.5 241.5h.9M34.5 243.5h.9M53.5 245h.9M37 237h.9M53 216h.9M38.5 239.5h.9M34 244h.9M56 233h.9M47 245h.9M45.5 245.5h.9M53.5 244h.9M59.5 247h.9M54.5 242h.9M58.5 233h.9M41 240h.9M52.5 235.5h.9M41 226h.9M37 219.5h.9M60 240.5h.9M43.5 241.5h.9M37.5 235.5h.9M46.5 240h.9M48 230.5h.9M57 225.5h.9M47 246h.9M58 218h.9M52 219.5h.9M37.5 246h.9M37.5 236h.9M36 241.5h.9M59 222.5h.9M53 224h.9M47.5 240.5h.9M37 243h.9M38.5 237.5h.9M59.5 244.5h.9M37 248.5h.9M34 218.5h.9M41.5 236.5h.9M53 240h.9M63 236h.9M43 243.5h.9M48.5 244h.9M53.5 241.5h.9M50 216.5h.9M39.5 221h.9M47 244h.9M41 243h.9M40 221.5h.9M56 243.5h.9M44.5 241.5h.9M43.5 234.5h.9M46 242.5h.9M39.5 229.5h.9M49.5 243.5h.9M56 239h.9M35 231h.9M45.5 235h.9M43 225h.9M42.5 244.5h.9M60 246h.9M48.5 245.5h.9M35 222h.9M36.5 240.5h.9M60 228h.9M58 221.5h.9M38 222h.9M54.5 219h.9M42 243h.9M49.5 242h.9M45 240.5h.9M40.5 235.5h.9M47.5 247h.9M34 225h.9M56 247.5h.9M59 246.5h.9M36 223.5h.9M42 224.5h.9M57.5 220.5h.9M41.5 222h.9M39 232h.9M54 221h.9M57.5 247h.9M55.5 231.5h.9M45 226.5h.9M58.5 221.5h.9M37 241.5h.9M60 226h.9M46 237.5h.9M45 241.5h.9M55.5 221.5h.9M49 246h.9M44 221.5h.9M47 239h.9M42 246.5h.9M63 246h.9M43.5 227h.9M53 243.5h.9M36 237h.9M58.5 227h.9M51 236.5h.9M60.5 228h.9M53.5 242h.9M40 236h.9M45.5 243h.9M41.5 241h.9M52.5 246.5h.9M38 220h.9M41 228.5h.9M63 237.5h.9M42 238.5h.9M41 224h.9M38 232h.9M34 242.5h.9M35.5 223.5h.9M39 221.5h.9M56 244h.9M55.5 244.5h.9M54 245.5h.9M36.5 219h.9M60 232.5h.9M44.5 240h.9M45.5 240h.9M36 241h.9M53 215h.9M62.5 244.5h.9M55 220.5h.9M50.5 232.5h.9M35 223.5h.9M52 242h.9M54.5 241h.9M42 229h.9M50 243h.9M50.5 219h.9M35.5 236.5h.9M52 240h.9M52 238.5h.9M48.5 220.5h.9M47.5 248.5h.9M55.5 247.5h.9M39.5 234.5h.9M40.5 239h.9M48.5 247.5h.9M49.5 245h.9M37 240.5h.9M38.5 224h.9M52 242.5h.9M42.5 223h.9M41 227.5h.9M39.5 233.5h.9M55 243h.9M52.5 237.5h.9M38 224.5h.9M44.5 220.5h.9M56 244.5h.9M52 241h.9M37.5 226.5h.9M37 237.5h.9M44 232h.9M62 231h.9M41 229h.9M49 244h.9M60 228.5h.9M61 241.5h.9M58 227h.9M43 227h.9M36.5 233h.9M38 223h.9M46.5 244h.9M59 244h.9M48.5 239h.9M34.5 242.5h.9M42 223.5h.9M59.5 236.5h.9M57 239h.9M54.5 244.5h.9M34.5 228.5h.9M35 241.5h.9M46.5 222.5h.9M54.5 218h.9M47.5 220.5h.9M44.5 234h.9M44.5 224.5h.9M61 233h.9M37 233h.9M57 239.5h.9M54.5 240h.9M39 224.5h.9M40.5 238.5h.9M47 237h.9M40.5 241h.9M57.5 224.5h.9M57 224.5h.9M55.5 227h.9M52.5 220.5h.9M38 234.5h.9M38 229.5h.9M34 234.5h.9M47.5 243.5h.9M57.5 239.5h.9M41.5 219h.9M39 225.5h.9M53.5 247h.9M57 236h.9M59.5 228.5h.9M58 239h.9M50.5 248.5h.9M37 247h.9M57.5 238h.9M54.5 236.5h.9M55.5 217h.9M40.5 244h.9M55 243.5h.9M37.5 230h.9M41.5 228h.9M56 224.5h.9M37 232h.9M39 227.5h.9M36.5 231h.9M56 240.5h.9M40.5 237.5h.9M51 244h.9M34 243h.9M46.5 243h.9M38 226h.9M38 245.5h.9M46 244.5h.9M55.5 222.5h.9M37 220h.9M46 243h.9M56.5 243.5h.9M39 229.5h.9M44.5 242h.9M51.5 242.5h.9M40.5 242.5h.9M34.5 244h.9M61.5 236h.9M34.5 238.5h.9M45 219.5h.9M52.5 238.5h.9M48 242.5h.9M47.5 246h.9M41 235.5h.9M38 229h.9M37 245h.9M60.5 223h.9M58 243h.9M45 243.5h.9M43 238h.9M57.5 231h.9M57 226h.9M36 227h.9M47 243h.9M48 245h.9M36.5 228h.9M56 218.5h.9M34 230h.9M48 240.5h.9M40.5 236h.9M56.5 232.5h.9M37.5 239.5h.9M36 229.5h.9M43.5 239.5h.9M38 225h.9M35.5 237.5h.9M46.5 241h.9M38.5 223h.9M37.5 222h.9M42 240.5h.9M59.5 225.5h.9M61 234h.9M44.5 239.5h.9M44.5 239h.9M40.5 242h.9M38 237.5h.9M51.5 220h.9M39.5 230.5h.9M40 220h.9M57.5 241.5h.9M53 244.5h.9M41 230.5h.9M39 215h.9M54.5 246h.9M41.5 223h.9M39.5 239h.9M42.5 241h.9M38 244h.9M40 243.5h.9M40 240h.9M48 239.5h.9M54 248h.9M62.5 221h.9M55 247h.9M38 235.5h.9M59.5 225h.9M38 226.5h.9M35 226h.9M42.5 241.5h.9M34 223h.9M39 218.5h.9M36.5 229.5h.9M41.5 226.5h.9M48.5 218.5h.9M39 237h.9M40 246h.9M52 235h.9M48 243.5h.9M53.5 243.5h.9M56 241.5h.9M36.5 222h.9M41.5 225h.9M58.5 238.5h.9M43 242h.9M37 218h.9M44 243.5h.9M61.5 229h.9M38.5 225h.9M55 242.5h.9M52.5 243h.9M37.5 233h.9M61.5 238h.9M38.5 228h.9M37 225.5h.9M54.5 242.5h.9M35 225.5h.9M54.5 239h.9M50 248.5h.9M44 245h.9M55 241.5h.9M51 244.5h.9M59 241.5h.9M51 247h.9M53 221.5h.9M45.5 232.5h.9M37.5 244.5h.9M39.5 227h.9M38 223.5h.9M51 245h.9M48 244.5h.9M50 218h.9M39.5 237.5h.9M42 238h.9M35.5 228h.9M37.5 222.5h.9M60.5 217h.9M39.5 231h.9M57 235h.9M41 222.5h.9M40.5 229h.9M51 236h.9M53 238h.9M40 230.5h.9M47 215.5h.9M56 238.5h.9M35.5 220.5h.9M40 238h.9M63.5 240h.9M57.5 212.5h.9M58 236.5h.9M42 219.5h.9M57.5 227.5h.9M37.5 228h.9M36.5 235.5h.9M38 225.5h.9M53.5 220.5h.9M35.5 229h.9M45.5 246h.9M40 226.5h.9M40.5 246h.9M55 245h.9M46.5 247h.9M61 234.5h.9M37.5 234h.9M45 240h.9M38.5 223.5h.9M56.5 246h.9M37.5 220h.9M38.5 231h.9M45 238h.9M38.5 243h.9M40.5 241.5h.9M53.5 240.5h.9M58.5 247.5h.9M42.5 236h.9M39.5 219.5h.9M51 239.5h.9M48.5 237h.9M37.5 226h.9M39 243.5h.9M36 236h.9M36 227.5h.9M36 243h.9M54 246h.9M55.5 240h.9M53.5 223.5h.9M34.5 225.5h.9M61.5 232h.9M41 245.5h.9M42 242.5h.9M40.5 236.5h.9M43 222h.9M49 220.5h.9M42.5 228h.9M43 230.5h.9M45.5 241h.9M39 236h.9M42 244h.9M61 220.5h.9M40 240.5h.9M62 236h.9M59.5 221h.9M51.5 243h.9M58.5 219h.9M57 224h.9M39.5 245h.9M34 235h.9M51.5 241.5h.9M56.5 237.5h.9M47 243.5h.9M40 233.5h.9M56 217h.9M54.5 247h.9M37.5 243.5h.9M55.5 242h.9M34 240.5h.9M46.5 248.5h.9M47.5 216h.9M60.5 224.5h.9M61.5 234.5h.9M61.5 234h.9M38 221.5h.9M47 244.5h.9M57.5 226.5h.9M37.5 237h.9M36.5 236h.9M47.5 244.5h.9M36 236.5h.9M37.5 232.5h.9M34.5 241h.9M42.5 245.5h.9M57 219h.9M41 239.5h.9M35 229.5h.9M59 220h.9M35 224.5h.9M55 238h.9M41 246h.9M55 237h.9M63.5 246h.9M57.5 228h.9M43.5 233.5h.9M39 240h.9M57 236.5h.9M50.5 224h.9M35 243.5h.9M43.5 239h.9M41 244h.9M41.5 220h.9M58 221h.9M35 219.5h.9M36 234h.9M41 244.5h.9M48 218.5h.9M50 238.5h.9M48.5 243.5h.9M36 235h.9M54.5 237h.9M39 231h.9M58 224h.9M37 233.5h.9M42.5 246h.9M55.5 237.5h.9M44 236.5h.9M35 239.5h.9M41.5 237.5h.9M57 241h.9M58.5 223h.9M40 225.5h.9M35 223h.9M51 243h.9M60.5 230.5h.9M39.5 244h.9M47.5 242h.9M38 236h.9M37 222h.9M48.5 219.5h.9M44 246.5h.9M34 239.5h.9M35 240.5h.9M36 224h.9M61 227h.9M54 241h.9M35.5 232h.9M55.5 243h.9M53.5 233h.9M47.5 245.5h.9M60 222h.9M49.5 246h.9M56 238h.9M40 241.5h.9M34.5 234.5h.9M46.5 248h.9M54 238h.9M55.5 228.5h.9M59 239.5h.9M52 219h.9M41 220.5h.9M49.5 226h.9M43.5 221.5h.9M56.5 243h.9M45 228.5h.9M56 248.5h.9M55 237.5h.9M56.5 222h.9M39 222.5h.9M37 238.5h.9M36 246.5h.9M34.5 236h.9M47 235.5h.9M38 248.5h.9M43.5 243h.9M56 246h.9M54 228h.9M47.5 243h.9M53 223h.9M34 239h.9M53 243h.9M54.5 234.5h.9M58 220h.9M60.5 238.5h.9M50 247.5h.9M34 223.5h.9M37 243.5h.9M38 224h.9M41.5 242.5h.9M35 232.5h.9M39 226h.9M43 247.5h.9M45.5 242.5h.9M37.5 237.5h.9M56.5 228.5h.9M58 225.5h.9M40 228h.9M35.5 236h.9M45 239h.9M38 240h.9M51.5 246h.9M36 220.5h.9M49 248h.9M44.5 242.5h.9M34 226h.9M42.5 231h.9M47.5 244h.9M56 220h.9M43 219.5h.9M46 223.5h.9M54.5 241.5h.9M39.5 224h.9M36.5 243h.9M54 224.5h.9M36.5 224h.9M39.5 243.5h.9M56.5 241h.9M54 242h.9M41 241.5h.9M38.5 234.5h.9M39.5 246.5h.9M56.5 220.5h.9M60.5 220.5h.9M53 224.5h.9M49 243h.9M34 221h.9M42.5 225.5h.9M57.5 222h.9M36.5 240h.9M36.5 238h.9M42 243.5h.9M37.5 230.5h.9M49.5 221h.9M34 219h.9M34 246.5h.9M44 238h.9M58 244h.9M57.5 215.5h.9M42.5 235.5h.9M37.5 227h.9M34 238h.9M39 245h.9M53.5 240h.9M44 240.5h.9M42.5 220h.9M55 244.5h.9M39 228h.9M49 222h.9M38.5 240h.9M45 217.5h.9M40.5 217h.9M41.5 224.5h.9M52 240.5h.9M40.5 247.5h.9M38.5 227h.9M59.5 242.5h.9M41.5 242h.9M52 226h.9M34.5 229.5h.9M46 248h.9M50 220.5h.9M36 240h.9M34.5 235.5h.9M39.5 220.5h.9M45.5 223h.9M42 239h.9M37 234.5h.9M58.5 245h.9M54 222h.9M35 242h.9M48.5 242h.9M34 237h.9M39 238h.9M58 241h.9M41 236.5h.9M38.5 218h.9M48 248.5h.9M37 235.5h.9M54 240h.9M55.5 223.5h.9M39.5 226.5h.9M35 235.5h.9M36.5 237h.9M40 231.5h.9M58 242h.9M36 242.5h.9M57.5 225h.9M57 242.5h.9M42.5 219h.9M36.5 246.5h.9M60 233h.9M50.5 220h.9M56 223h.9M35.5 235h.9M38 241h.9M53.5 239.5h.9M38 233.5h.9M63 239.5h.9M50 242h.9M56.5 238h.9M37.5 242.5h.9M42.5 231.5h.9M45 248.5h.9M36.5 232h.9M36.5 246h.9M52 218.5h.9M50 244.5h.9M40 239.5h.9M56 222h.9M43 218h.9M40.5 218h.9M58 235.5h.9M39.5 232.5h.9M42 223h.9M45 246.5h.9M51 247.5h.9M42.5 239.5h.9M37.5 224h.9M34.5 233h.9M45 246h.9M48.5 238h.9M55.5 238.5h.9M45.5 221.5h.9M51 235.5h.9M37.5 234.5h.9M38 227h.9M53.5 246h.9M37 224.5h.9M46 218.5h.9M39.5 235.5h.9M42.5 223.5h.9M61.5 232.5h.9M55 246.5h.9M34.5 230.5h.9M38 243.5h.9M36.5 228.5h.9M49 246.5h.9M35.5 229.5h.9M56 243h.9M46 243.5h.9M46 238h.9M64.5 223.5h.9M35 245h.9M51.5 244.5h.9M49 245.5h.9M34 237.5h.9M59 237h.9M42.5 238.5h.9M57.5 240.5h.9M55.5 219h.9M43 240.5h.9M52 220.5h.9M48.5 236.5h.9M48.5 218h.9M42.5 239h.9M40.5 222h.9M37 247.5h.9M62 233.5h.9M45.5 243.5h.9M44.5 245h.9M56 240h.9M45 239.5h.9M42 230h.9M58.5 230h.9M52.5 240h.9M40 239h.9M39.5 238.5h.9M54 216h.9M34.5 235h.9M40 237h.9M57 248.5h.9M56.5 234h.9M41.5 216.5h.9M54 241.5h.9M50.5 243.5h.9M34 231h.9M43 248.5h.9M35 233h.9M37 225h.9M39.5 223h.9M36.5 237.5h.9M36 244h.9M59.5 237.5h.9M51.5 244h.9M60 244h.9M44.5 247h.9M34 232h.9M44 247h.9M38.5 220h.9M39.5 241h.9M35.5 230h.9M38 242.5h.9M38.5 218.5h.9M40 219h.9M55 215.5h.9M37.5 225h.9M49 242h.9M51.5 243.5h.9M37.5 239h.9M51.5 221h.9M51 243.5h.9M57.5 222.5h.9M48 216h.9M40.5 226h.9M36 243.5h.9M60 236.5h.9M55.5 236.5h.9M44.5 222.5h.9M36 246h.9M39.5 224.5h.9M40.5 229.5h.9M40 238.5h.9M37 227h.9M41 242h.9M57.5 224h.9M61 240.5h.9M51 248.5h.9M47.5 220h.9M58 237h.9M54 220.5h.9M62.5 236h.9M55 239.5h.9M40 247h.9M38.5 231.5h.9M56.5 245h.9M39.5 225h.9M36 223h.9M44 218h.9M35.5 226h.9M60 224.5h.9M49.5 241h.9M36.5 244.5h.9M41 239h.9M37.5 221h.9M34 244.5h.9M44 242h.9M38.5 246.5h.9M57 219.5h.9M47 218h.9M37 235h.9M35.5 233.5h.9M59.5 223.5h.9M37 234h.9M60.5 219.5h.9M54.5 223h.9M37.5 236.5h.9M39 227h.9M44 242.5h.9M58 246h.9M57 223.5h.9M35 237h.9M45.5 244.5h.9M60.5 240.5h.9M44 247.5h.9M59.5 234.5h.9M39 230.5h.9M41 245h.9M35 230.5h.9M57.5 244.5h.9M45 245.5h.9M64.5 238.5h.9M43 235.5h.9M41.5 239h.9M34.5 228h.9M52.5 239h.9M35.5 233h.9M56.5 240.5h.9M39.5 223.5h.9M36 231.5h.9M51.5 245.5h.9M40.5 248.5h.9M46 222.5h.9M39.5 241.5h.9M42 224h.9M59.5 231h.9M35.5 244h.9M52.5 247.5h.9M34 222.5h.9M39.5 234h.9M35 236.5h.9M42.5 244h.9M39 231.5h.9M44.5 238.5h.9M61 236.5h.9M56.5 242.5h.9M47.5 240h.9M45.5 217.5h.9M56.5 242h.9M49 247h.9M57.5 229.5h.9M45.5 241.5h.9M40.5 243.5h.9M34.5 248.5h.9M58 240h.9M64.5 219.5h.9M55 230.5h.9M39.5 243h.9M35.5 227.5h.9M39 240.5h.9M37.5 238.5h.9M58 231.5h.9M55.5 220h.9M42 222h.9M58 225h.9M56 239.5h.9M34 245.5h.9M60 221.5h.9M44.5 224h.9M54 244.5h.9M47 240.5h.9M52 247.5h.9M60 230.5h.9M59.5 226h.9M46 244h.9M48 242h.9M54.5 227h.9M54.5 236h.9M47.5 229.5h.9M39.5 242h.9M41 226.5h.9M46 240h.9M41.5 227h.9M53 239.5h.9M39 247h.9M40.5 220h.9M49.5 247h.9M39.5 242.5h.9M55.5 241.5h.9M34 242h.9M65 239h.9M57.5 230h.9M40 219.5h.9M38 235h.9M48 221h.9M37 245.5h.9M58 242.5h.9M37 218.5h.9M38.5 238.5h.9M40 237.5h.9M42.5 242.5h.9M56 248h.9M36 226.5h.9M53.5 243h.9M36 230.5h.9M58 237.5h.9M40 229h.9M47.5 218h.9M59 229.5h.9M53.5 224.5h.9M38.5 221h.9M39 241h.9M57.5 225.5h.9M36.5 234.5h.9M48 244h.9M37 228h.9M45 218h.9M48.5 246.5h.9M55 220h.9M62.5 229.5h.9M56 236.5h.9M37 230.5h.9M38 240.5h.9M47.5 245h.9M61 244.5h.9M34.5 223h.9M63.5 248.5h.9M52 243.5h.9M38.5 242.5h.9M60 245h.9M50 241.5h.9M52.5 246h.9M50 243.5h.9M35.5 237h.9M36.5 230h.9M46.5 247.5h.9M37 229.5h.9M37 226.5h.9M47.5 215h.9M36 230h.9M59.5 242h.9M36.5 227.5h.9M55 238.5h.9M42.5 222h.9M48 217h.9M56 242h.9M41 224.5h.9M38.5 227.5h.9M37 238h.9M36.5 229h.9M48.5 243h.9M38.5 243.5h.9M40.5 223.5h.9M47 246.5h.9M39.5 240h.9M51 242.5h.9M55 224.5h.9M48 218h.9M41 223h.9M49.5 241.5h.9M46 245.5h.9M43.5 244h.9M58.5 217.5h.9M56.5 244.5h.9M60 235h.9M51.5 240.5h.9M38.5 228.5h.9M44 221h.9M50.5 245h.9M43.5 219.5h.9M39.5 225.5h.9M51 241.5h.9M54 246.5h.9M49.5 218.5h.9M43.5 223h.9M58 227.5h.9M35.5 245.5h.9M59.5 224.5h.9M59 242.5h.9M39.5 231.5h.9M58 239.5h.9M61.5 240h.9M50.5 247.5h.9M34.5 236.5h.9M44 243h.9M50 218.5h.9M37.5 221.5h.9M40 244.5h.9M55 244h.9M43.5 243.5h.9M50.5 244h.9M51.5 239h.9M43 244.5h.9M43 246.5h.9M56 226.5h.9M55 226h.9M42 237.5h.9M39 224h.9M41.5 232.5h.9M41 225.5h.9M35.5 228.5h.9M41 231h.9M57 242h.9M49 222.5h.9M56 242.5h.9M59.5 232h.9M39 242h.9M58.5 229h.9M54.5 240.5h.9M38.5 245.5h.9M36.5 239.5h.9M59 240h.9M58.5 243h.9M54 244h.9M61.5 229.5h.9M37 244.5h.9M60 225h.9M38.5 242h.9M39 230h.9M42.5 221.5h.9M55 248h.9M39 225h.9M34 228h.9M35 238.5h.9M49.5 243h.9M34 227h.9M38 218h.9M47 223h.9M59 238.5h.9M45.5 240.5h.9M57 244h.9M53 247h.9M35.5 225h.9M56.5 247.5h.9M64.5 242h.9M59 238h.9M40.5 238h.9M56.5 238.5h.9M53.5 244.5h.9M42 246h.9M39.5 246h.9M43.5 248h.9M49 245h.9M57 243h.9M41 241h.9M39 223h.9M36.5 242h.9M43.5 244.5h.9M40 232h.9M54 226.5h.9M42 242h.9M44.5 222h.9M35 244h.9M36.5 244h.9M36 224.5h.9M56 241h.9M57 227.5h.9M36 232.5h.9M61.5 220.5h.9M35.5 224h.9M52 245.5h.9M41.5 231h.9M46.5 245h.9M41.5 229.5h.9M61.5 239h.9M58 217.5h.9M40 227.5h.9M44.5 219.5h.9M35 228.5h.9M34.5 240h.9M60.5 236.5h.9M62.5 243h.9M47 242.5h.9M41 237.5h.9M41 221.5h.9M57 233h.9M59.5 240.5h.9M59.5 220h.9M45 220h.9M40 228.5h.9M40.5 221h.9M40.5 247h.9M52 239.5h.9M39.5 222.5h.9M41 221h.9M44.5 245.5h.9M46.5 240.5h.9M39 220h.9M54.5 244h.9M51 219h.9M49.5 246.5h.9M40 218h.9M42.5 243h.9M58.5 235h.9M56 225.5h.9M38.5 238h.9M64 243h.9M63.5 232h.9M35 241h.9M36.5 225h.9M50 244h.9M34 212.5h.9M41.5 248.5h.9M58.5 214h.9M36 228h.9M43.5 241h.9M60 219.5h.9M59.5 232.5h.9M37.5 240h.9M60.5 244h.9M34 236h.9M47 222h.9M49 236.5h.9M52 246h.9M60 229.5h.9M53 242.5h.9M43.5 248.5h.9M42.5 234h.9M39 218h.9M39.5 247h.9M57 244.5h.9M42 235h.9M38.5 235.5h.9M48.5 217h.9M37.5 225.5h.9M39.5 217.5h.9M34 226.5h.9M46 241.5h.9M35.5 220h.9M39.5 239.5h.9M34 220.5h.9M39.5 219h.9M46 239.5h.9M34 230.5h.9M62 224h.9M55 221.5h.9M41.5 246.5h.9M35.5 231h.9M59 230.5h.9M34.5 224h.9M41 236h.9M49 244.5h.9M60.5 225.5h.9M36.5 232.5h.9M57 222.5h.9M40 226h.9M58 243.5h.9M65.5 228h.9M36.5 241h.9M52 248h.9M40.5 228.5h.9M39 228.5h.9M34 236.5h.9M55.5 243.5h.9M59 219h.9M59 223.5h.9M49.5 245.5h.9M42 241.5h.9M34.5 232.5h.9M57 221.5h.9M58 219.5h.9M34.5 218h.9M38 242h.9M37.5 243h.9M41.5 220.5h.9M50 245.5h.9M41.5 221h.9M35 221.5h.9M86.5 183.5h.9M91 181.5h.9M93 179.5h.9M88.5 182h.9M84.5 181h.9M81 182.5h.9M88 175.5h.9M85.5 186h.9M92.5 183h.9M89 181.5h.9M96 180.5h.9M84 183.5h.9M93 187h.9M90 183.5h.9M84.5 178.5h.9M81 178.5h.9M85 186h.9M74.5 184h.9M89.5 186.5h.9M83.5 183h.9M94 186h.9M90.5 180h.9M91 175h.9M90.5 182.5h.9M88.5 193.5h.9M93 184h.9M93 184.5h.9M86 184.5h.9M84.5 185h.9M84 181.5h.9M84.5 184h.9M89 181h.9M84 182h.9M91 179.5h.9M89.5 182h.9M85.5 189.5h.9M84 182.5h.9M84.5 184.5h.9M90.5 184h.9M87.5 185.5h.9M92 187.5h.9M92.5 177h.9M90.5 185.5h.9M87 185.5h.9M88.5 185h.9M82 179h.9M91.5 181.5h.9M90.5 185h.9M90 179h.9M94 183.5h.9M85 175h.9M88.5 186h.9M88.5 181.5h.9M84.5 186.5h.9M88.5 184h.9M96 183.5h.9M91 187h.9M82.5 176.5h.9M85 184.5h.9M82 182.5h.9M92.5 178.5h.9M90.5 183.5h.9M97.5 182.5h.9M89.5 184h.9M85.5 184h.9M85 183h.9M94 190.5h.9M94 182h.9M94 180h.9M96.5 183.5h.9M88 182h.9M88 180.5h.9M89.5 181h.9M92 183.5h.9M93.5 184.5h.9M85.5 177h.9M91.5 177.5h.9M82.5 185h.9M88 187.5h.9M82 184.5h.9M91.5 181h.9M90 179.5h.9M86 188h.9M82 185h.9M89 187h.9M80.5 179.5h.9M83.5 180.5h.9M89 180h.9M91 180.5h.9M92.5 186h.9M93.5 186h.9M85 176h.9M88 186.5h.9M88 185h.9M80 182.5h.9M83 182h.9M89 182.5h.9M91.5 177h.9M87.5 186.5h.9M80.5 186h.9M83.5 186.5h.9M84 180h.9M94 187h.9M96 183h.9M81 181.5h.9M87 180.5h.9M91.5 182.5h.9M85 181h.9M87 184.5h.9M77.5 188h.9M91 180h.9M92 183h.9M82 182h.9M78.5 185h.9M97.5 181.5h.9M90.5 187.5h.9M86.5 186h.9M93.5 183h.9M89 187.5h.9M87.5 184.5h.9M87 191h.9M87.5 184h.9M90 181.5h.9M82 185.5h.9M85 185.5h.9M86.5 184.5h.9M89.5 177h.9M84 179h.9M83 182.5h.9M88 182.5h.9M88.5 185.5h.9M81.5 180.5h.9M86 184h.9M82.5 181.5h.9M95.5 176.5h.9M90.5 177.5h.9M96 179.5h.9M94.5 179.5h.9M82 184h.9M85.5 181h.9M91.5 180h.9M91.5 185h.9M84.5 183.5h.9M94.5 185h.9M91 183.5h.9M93 182.5h.9M86.5 182.5h.9M87 183.5h.9M94.5 179h.9M87 181h.9M91.5 183.5h.9M92 175h.9M83.5 182.5h.9M90 186h.9M93 181.5h.9M89 184.5h.9M87 188.5h.9M89.5 187h.9M79.5 184.5h.9M88.5 180.5h.9M85.5 183h.9M91.5 184h.9M82 181h.9M86.5 187.5h.9M90 188.5h.9M88 187h.9M92.5 181.5h.9M88.5 179.5h.9M97.5 178.5h.9M84.5 180h.9M89.5 187.5h.9M84.5 181.5h.9M87.5 178h.9M92 186.5h.9M85 188h.9M92 184.5h.9M85 185h.9M92 188.5h.9M86 186.5h.9M94 180.5h.9M87.5 183h.9M87 173h.9M95 186h.9M88.5 188.5h.9M81 183.5h.9M93 186h.9M89 180.5h.9M87.5 186h.9M90 187h.9M85 181.5h.9M85 183.5h.9M91 189h.9M88.5 191.5h.9M88.5 179h.9M86 187.5h.9M85 186.5h.9M93.5 187h.9M89 183.5h.9M88.5 181h.9M82.5 179.5h.9M85.5 182h.9M83 189h.9M83 183h.9M80.5 182h.9M88 183.5h.9M94.5 190.5h.9M93.5 185.5h.9M98 185h.9M88.5 183h.9M96.5 187h.9M81.5 188h.9M86.5 179.5h.9M91.5 178h.9M92.5 182h.9M85.5 186.5h.9M89 178h.9M85.5 180.5h.9M86.5 187h.9M84.5 177.5h.9M76.5 187.5h.9M90.5 178.5h.9M91 185h.9M95 180.5h.9M88.5 184.5h.9M91.5 182h.9M84 179.5h.9M92 182.5h.9M72.5 179.5h.9M95.5 179.5h.9M89 184h.9M86 178.5h.9M87 181.5h.9M86.5 178h.9M95 181.5h.9M99.5 183.5h.9M92 189h.9M93 182h.9M85 188.5h.9M88 190h.9M85 180.5h.9M82.5 187.5h.9M89 176h.9M83.5 185h.9M93 180h.9M90.5 181.5h.9M92 182h.9M86.5 188h.9M90 185h.9M96.5 184h.9M86.5 184h.9M84.5 183h.9M88.5 187h.9M85.5 185h.9M85 182.5h.9M88.5 174h.9M89.5 184.5h.9M89 185h.9M83.5 181h.9M82.5 184h.9M86 182h.9M91 184h.9M93 188h.9M91.5 187h.9M95 185.5h.9M90.5 174.5h.9M86 188.5h.9M89 183h.9M85 182h.9M85 184h.9M84 176h.9M90 188h.9M90 186.5h.9M88 181h.9M90.5 179.5h.9M90.5 180.5h.9M86 191h.9M84.5 182.5h.9M84.5 188h.9M95 183h.9M86 185h.9M83 181.5h.9M96 184.5h.9M88.5 182.5h.9M86.5 181.5h.9M81 177.5h.9M92.5 181h.9M96.5 190.5h.9M86 183h.9M87 178.5h.9M89.5 185h.9M88 184h.9M86.5 177h.9M76.5 179.5h.9M89 190.5h.9M86 179.5h.9M82 181.5h.9M92.5 183.5h.9M92 178.5h.9M87 182.5h.9M89.5 188.5h.9M91 183h.9M91 177h.9M89 188h.9M84.5 176.5h.9M86 176.5h.9M80.5 184h.9M94.5 185.5h.9M86 186h.9M80 177.5h.9M78.5 182.5h.9M92 180.5h.9M97.5 191h.9M98 185.5h.9M87.5 190h.9M84 177.5h.9M87.5 187.5h.9M92 180h.9M97 181.5h.9M90 183h.9M92 181h.9M84 183h.9M92 187h.9M82 183.5h.9M95 190.5h.9M95 184h.9M96.5 186.5h.9M83.5 186h.9M95 188h.9M74 184h.9M84.5 189.5h.9M75.5 193h.9M88.5 183.5h.9M98.5 192.5h.9M77.5 189.5h.9M95 174.5h.9M79.5 178.5h.9M89.5 179h.9M83 179.5h.9M83.5 183.5h.9M72.5 183.5h.9M88 179h.9M81.5 193h.9M76 186.5h.9M91 188h.9M97 189.5h.9M87 185h.9M97.5 184.5h.9M92.5 182.5h.9M86 183.5h.9M86 175h.9M96 191h.9M88.5 177.5h.9M94.5 175.5h.9M86.5 190.5h.9M81 183h.9M85.5 177.5h.9M87.5 187h.9M101 185h.9M82 180h.9M95.5 191h.9M81.5 183h.9M89.5 190.5h.9M98 186.5h.9M87.5 181.5h.9M81 184h.9M87.5 183.5h.9M90 189h.9M103.5 181.5h.9M91 186h.9M87.5 182.5h.9M96.5 181.5h.9M83 187h.9M87 186.5h.9M74.5 183.5h.9M77 184h.9M98 186h.9M92.5 185h.9M82 195h.9M97.5 175h.9M80 190h.9M86 185.5h.9M91 182.5h.9M85.5 182.5h.9M93 189.5h.9M88 185.5h.9M79 181h.9M86.5 181h.9M83.5 184.5h.9M94.5 187h.9M99 184h.9M91.5 179.5h.9M89.5 183h.9M78 188h.9M92 185h.9M87.5 188.5h.9M86 180h.9M91.5 186.5h.9M81.5 186h.9M102.5 187.5h.9M89 194.5h.9M95.5 180.5h.9M90 187.5h.9M82.5 179h.9M80.5 180.5h.9M80 194h.9M100.5 184.5h.9M98.5 188h.9M94.5 176.5h.9M80.5 182.5h.9M90.5 188.5h.9M81.5 181.5h.9M93 190.5h.9M100 187.5h.9M92.5 184h.9M83.5 185.5h.9M87.5 174.5h.9M99.5 175.5h.9M85 187h.9M90 195h.9M94 182.5h.9M81 188.5h.9M89 190h.9M84.5 179.5h.9M88 189h.9M90 192h.9M94.5 180.5h.9M90.5 184.5h.9M74.5 178h.9M85 175.5h.9M87.5 177h.9M84 190h.9M87.5 194h.9M68 186.5h.9M80 176h.9M88 177.5h.9M97.5 173.5h.9M99 183.5h.9M85.5 179.5h.9M79.5 191.5h.9M90.5 186h.9M75.5 183h.9M90 181h.9M77 181.5h.9M90 182.5h.9M75 192.5h.9M72.5 189h.9M90.5 181h.9M92 179.5h.9M78.5 180h.9M87.5 176h.9M89.5 183.5h.9M89.5 172.5h.9M88 181.5h.9M97.5 178h.9M86.5 172h.9M104.5 194.5h.9M87.5 180h.9M87 188h.9M85 180h.9M94 189h.9M85.5 183.5h.9M79.5 183.5h.9M82.5 178.5h.9M92.5 190.5h.9M93.5 182h.9M97 182h.9M82 177h.9M95.5 185h.9M86.5 182h.9M77.5 188.5h.9M83.5 173h.9M78.5 177.5h.9M82.5 177h.9M97 193h.9M82.5 180.5h.9M99 178.5h.9M96.5 186h.9M99.5 185.5h.9M98 183h.9M77 189h.9M88.5 178.5h.9M86.5 195.5h.9M82.5 181h.9M78 184.5h.9M70.5 182h.9M87 177h.9M91 166.5h.9M69.5 181h.9M75 186.5h.9M95.5 198h.9M92 191h.9M77.5 183.5h.9M88.5 175.5h.9M85.5 185.5h.9M94.5 176h.9M92.5 188h.9M74.5 174h.9M86.5 183h.9M71.5 179.5h.9M94 176h.9M77.5 185h.9M91 195.5h.9M92 185.5h.9M79 185h.9M90 185.5h.9M99.5 194.5h.9M92 189.5h.9M76 183h.9M86 194.5h.9M90 190h.9M89.5 182.5h.9M90.5 189.5h.9M84 180.5h.9M82 189h.9M89.5 188h.9M76.5 179h.9M74 191.5h.9M78.5 191.5h.9M74 191h.9M93.5 183.5h.9M85.5 187h.9M82 188.5h.9M76 188.5h.9M79 187h.9M89 186.5h.9M79 190.5h.9M89.5 185.5h.9M106.5 175.5h.9M81 189h.9M85 177.5h.9M89 179.5h.9M95.5 177h.9M91.5 193h.9M91 190h.9M94.5 178.5h.9M86 187h.9M104 189.5h.9M93.5 185h.9M100.5 187.5h.9M92.5 178h.9M95.5 187.5h.9M77 183h.9M89.5 189.5h.9M94.5 183h.9M84.5 192.5h.9M74 178h.9M82 189.5h.9M87.5 172h.9M81.5 181h.9M84 174h.9M72 184.5h.9M85.5 188.5h.9M85 174.5h.9M84 186h.9M81.5 185.5h.9M77 188.5h.9M90 178.5h.9M95 189.5h.9" stroke="#111" stroke-width="0.9" stroke-opacity="0.8" fill="none"/>
<rect x="33.2" y="156" width="98.3" height="93.80000000000001" fill="none" stroke="#3a3a3a" stroke-width="1.15"/>
<path d="M65.2 156V249.8M33.2 217H131.5" stroke="#555" stroke-width="1.05" fill="none"/>
<path d="M33.2 249.80h-2.2M33.20 249.8v2.2M33.2 242.74h-1.2M40.60 249.8v1.2M33.2 238.61h-1.2M44.93 249.8v1.2M33.2 235.68h-1.2M48.00 249.8v1.2M33.2 233.41h-1.2M50.38 249.8v1.2M33.2 231.55h-1.2M52.32 249.8v1.2M33.2 229.98h-1.2M53.97 249.8v1.2M33.2 228.62h-1.2M55.39 249.8v1.2M33.2 227.42h-1.2M56.65 249.8v1.2M33.2 226.35h-2.2M57.78 249.8v2.2M33.2 219.29h-1.2M65.17 249.8v1.2M33.2 215.16h-1.2M69.50 249.8v1.2M33.2 212.23h-1.2M72.57 249.8v1.2M33.2 209.96h-1.2M74.95 249.8v1.2M33.2 208.10h-1.2M76.90 249.8v1.2M33.2 206.53h-1.2M78.54 249.8v1.2M33.2 205.17h-1.2M79.97 249.8v1.2M33.2 203.97h-1.2M81.23 249.8v1.2M33.2 202.90h-2.2M82.35 249.8v2.2M33.2 195.84h-1.2M89.75 249.8v1.2M33.2 191.71h-1.2M94.08 249.8v1.2M33.2 188.78h-1.2M97.15 249.8v1.2M33.2 186.51h-1.2M99.53 249.8v1.2M33.2 184.65h-1.2M101.47 249.8v1.2M33.2 183.08h-1.2M103.12 249.8v1.2M33.2 181.72h-1.2M104.54 249.8v1.2M33.2 180.52h-1.2M105.80 249.8v1.2M33.2 179.45h-2.2M106.92 249.8v2.2M33.2 172.39h-1.2M114.32 249.8v1.2M33.2 168.26h-1.2M118.65 249.8v1.2M33.2 165.33h-1.2M121.72 249.8v1.2M33.2 163.06h-1.2M124.10 249.8v1.2M33.2 161.20h-1.2M126.05 249.8v1.2M33.2 159.63h-1.2M127.69 249.8v1.2M33.2 158.27h-1.2M129.12 249.8v1.2M33.2 157.07h-1.2M130.38 249.8v1.2M33.2 156h-2.2M131.5 249.8v2.2" stroke="#222" stroke-width="0.85" fill="none"/>
<text transform="translate(20.50,251.60) scale(1,1.08)" font-size="6.7" fill="#000" stroke="#000" stroke-width=".12">10<tspan font-size="4.7" dy="-2.4">0</tspan></text>
<text transform="translate(30.80,260.30) scale(1,1.08)" font-size="6.7" fill="#000" stroke="#000" stroke-width=".12">10<tspan font-size="4.7" dy="-2.4">0</tspan></text>
<text transform="translate(20.50,228.50) scale(1,1.08)" font-size="6.7" fill="#000" stroke="#000" stroke-width=".12">10<tspan font-size="4.7" dy="-2.4">1</tspan></text>
<text transform="translate(55.08,260.30) scale(1,1.08)" font-size="6.7" fill="#000" stroke="#000" stroke-width=".12">10<tspan font-size="4.7" dy="-2.4">1</tspan></text>
<text transform="translate(20.50,205.40) scale(1,1.08)" font-size="6.7" fill="#000" stroke="#000" stroke-width=".12">10<tspan font-size="4.7" dy="-2.4">2</tspan></text>
<text transform="translate(79.36,260.30) scale(1,1.08)" font-size="6.7" fill="#000" stroke="#000" stroke-width=".12">10<tspan font-size="4.7" dy="-2.4">2</tspan></text>
<text transform="translate(20.50,182.31) scale(1,1.08)" font-size="6.7" fill="#000" stroke="#000" stroke-width=".12">10<tspan font-size="4.7" dy="-2.4">3</tspan></text>
<text transform="translate(103.64,260.30) scale(1,1.08)" font-size="6.7" fill="#000" stroke="#000" stroke-width=".12">10<tspan font-size="4.7" dy="-2.4">3</tspan></text>
<text transform="translate(20.50,159.21) scale(1,1.08)" font-size="6.7" fill="#000" stroke="#000" stroke-width=".12">10<tspan font-size="4.7" dy="-2.4">4</tspan></text>
<text transform="translate(127.92,260.30) scale(1,1.08)" font-size="6.7" fill="#000" stroke="#000" stroke-width=".12">10<tspan font-size="4.7" dy="-2.4">4</tspan></text>
<path d="M97.6 203.7H125.5M111.4 193.1V214" stroke="#222" stroke-width="1.1" fill="none"/>
<text transform="translate(103.90,201.30) scale(1,1.05)" font-size="8.8" font-weight="normal" font-style="normal" text-anchor="middle" fill="#000" stroke="#000" stroke-width=".15">2</text>
<text transform="translate(103.90,213.70) scale(1,1.05)" font-size="8.8" font-weight="normal" font-style="normal" text-anchor="middle" fill="#000" stroke="#000" stroke-width=".15">83</text>
<text transform="translate(119.15,213.70) scale(1,1.05)" font-size="8.8" font-weight="normal" font-style="normal" text-anchor="middle" fill="#000" stroke="#000" stroke-width=".15">1</text>
<text transform="translate(125.60,199.00) scale(1,1.05)" font-size="11" font-weight="bold" font-style="italic" text-anchor="end" fill="#000" >14</text>
<path d="M181.5 188h.9M179 199h.9M166.5 185h.9M171 202.5h.9M165 184.5h.9M168.5 191h.9M166 188h.9M177.5 186h.9M176.5 192.5h.9M180.5 195h.9M176.5 191h.9M165 185.5h.9M159.5 191.5h.9M180 219.5h.9M159 186.5h.9M171.5 186.5h.9M179 195.5h.9M169.5 182h.9M171.5 161h.9M174.5 182h.9M180 186.5h.9M168.5 196.5h.9M164 187h.9M161.5 206.5h.9M183 195.5h.9M166.5 198h.9M165.5 194h.9M183.5 203.5h.9M173 183h.9M176 179h.9M178.5 196h.9M158.5 181h.9M172 186h.9M169 208.5h.9M162 194h.9M168 193h.9M174.5 188h.9M176.5 190.5h.9M170.5 191h.9M165.5 202h.9M181.5 179h.9M169 174.5h.9M180 200.5h.9M171.5 200.5h.9M172 180h.9M162.5 201.5h.9M179 172.5h.9M174 187h.9M159 212h.9M174 188h.9M171 201.5h.9M162 177h.9M167 197h.9M161.5 165.5h.9M166.5 186h.9M159 185.5h.9M161 180h.9M178 172.5h.9M174 181.5h.9M183.5 182.5h.9M165.5 159.5h.9M179 201h.9M164.5 216h.9M168.5 185.5h.9M181 183h.9M180 181.5h.9M165 177.5h.9M175.5 173.5h.9M165.5 197.5h.9M168.5 187h.9M169.5 190h.9M179 203.5h.9M179 199.5h.9M177.5 172.5h.9M161.5 185h.9M170.5 191.5h.9M175.5 192.5h.9M175.5 211h.9M177.5 182.5h.9M168 190h.9M184.5 189.5h.9M176.5 194h.9M169.5 181h.9M178.5 188.5h.9M172.5 202h.9M174.5 181h.9M169 196.5h.9M169 187h.9M166.5 194.5h.9M165 183.5h.9M171.5 189.5h.9M183.5 195h.9M168 186h.9M175.5 167.5h.9M172 183h.9M158.5 187.5h.9M167.5 180.5h.9M183 176.5h.9M176.5 206.5h.9M162.5 173h.9M165 195h.9M182.5 206h.9M172.5 197h.9M176.5 186h.9M166.5 200h.9M176.5 190h.9M176.5 181.5h.9M173.5 185.5h.9M187 208.5h.9M163 196.5h.9M172 198h.9M173 172h.9M178 161.5h.9M180.5 194.5h.9M177 204h.9M182 181h.9M180 193h.9M169.5 207.5h.9M171.5 199.5h.9M171.5 175h.9M171.5 174h.9M164 185h.9M172.5 191h.9M178 196h.9M179.5 198.5h.9M171 184.5h.9M182 184.5h.9M172.5 177.5h.9M161 174h.9M176 197.5h.9M158.5 200.5h.9M175.5 171.5h.9M179 186.5h.9M162.5 198.5h.9M176.5 181h.9M173 176.5h.9M163 194h.9M170.5 197h.9M158.5 190h.9M182.5 199h.9M164.5 190h.9M178.5 159h.9M174.5 208h.9M172.5 181.5h.9M172.5 194h.9M181 188.5h.9M174 178.5h.9M167.5 179h.9M171 175.5h.9M165 207h.9M171.5 205h.9M165 200h.9M176 198h.9M177.5 196.5h.9M167.5 190h.9M182.5 193h.9M169 195.5h.9M182 222.5h.9M172.5 211h.9M178.5 183.5h.9M171.5 186h.9M177 216.5h.9M181.5 184h.9M188 175h.9M166 208h.9M172.5 183.5h.9M181.5 193h.9M179.5 189.5h.9M165 208h.9M177 159h.9M177.5 169h.9M175.5 197h.9M172 191h.9M173.5 199.5h.9M163 178.5h.9M170.5 171h.9M178.5 195h.9M173.5 163.5h.9M182.5 202h.9M175.5 180h.9M162.5 177.5h.9M162 190h.9M175 194.5h.9M172 190h.9M178 191h.9M180.5 184h.9M174 160h.9M170 191.5h.9M163 188h.9M176.5 183h.9M182 191.5h.9M158.5 197h.9M188 224.5h.9M165.5 213.5h.9M167 177h.9M174 170h.9M171 195.5h.9M174.5 211h.9M177.5 202h.9M170 195.5h.9M167.5 176h.9M178.5 214h.9M176 173h.9M176.5 174.5h.9M174 182h.9M175.5 191.5h.9M180 171.5h.9M185 190h.9M178.5 166h.9M173.5 199h.9M168.5 177h.9M167.5 184.5h.9M173 166h.9M159 174.5h.9M165.5 204.5h.9M190 186.5h.9M180 179.5h.9M175.5 178h.9M174.5 175.5h.9M167 210h.9M175 188h.9M165.5 174h.9M174.5 185h.9M182.5 176h.9M178 174h.9M168 210h.9M162.5 187.5h.9M189.5 175h.9M181.5 200.5h.9M176.5 195.5h.9M172.5 185.5h.9M173.5 181.5h.9M173.5 211h.9M177 203.5h.9M188.5 203.5h.9M162.5 168h.9M174 208h.9M166.5 175.5h.9M169.5 168.5h.9M166.5 179.5h.9M175.5 168h.9M174.5 176h.9M165 220.5h.9M158.5 206h.9M178 175.5h.9M163 201.5h.9M182 202h.9M180.5 191h.9M163.5 199h.9M173.5 182h.9M159 183h.9M167.5 199h.9M183.5 189h.9M180 183h.9M159.5 197.5h.9M185 192h.9M175.5 198.5h.9M174 186.5h.9M169 212.5h.9M172 196h.9M179 195h.9M176 184h.9M161 186.5h.9M170 185h.9M158.5 189h.9M175 170.5h.9M167.5 174h.9M160.5 198.5h.9M175 191.5h.9M162.5 174h.9M175.5 192h.9M175 192h.9M186.5 187.5h.9M162 197h.9M188.5 197.5h.9M179.5 207.5h.9M182 198h.9M163 185.5h.9M173.5 176.5h.9M165 204.5h.9M179.5 192.5h.9M180.5 204.5h.9M177 220h.9M181 189.5h.9M173.5 197.5h.9M171.5 195.5h.9M173 178.5h.9M167.5 186h.9M178 181h.9M168 213.5h.9M189.5 201.5h.9M178 206.5h.9M161 207h.9M158.5 184h.9M161 190.5h.9M169 212h.9M176.5 196h.9M175 189h.9M161.5 195.5h.9M183 187.5h.9M183 186h.9M179.5 195.5h.9M175.5 184.5h.9M175.5 194h.9M171 205h.9M171 190h.9M186.5 183.5h.9M169 178h.9M165 198h.9M183.5 190h.9M178 220h.9M187 196h.9M163.5 197.5h.9M182 183.5h.9M185.5 192.5h.9M166.5 212h.9M175 201.5h.9M172 179.5h.9M158.5 187h.9M191.5 195.5h.9M173.5 213.5h.9M165.5 193.5h.9M182.5 191.5h.9M186.5 185.5h.9M163 192h.9M171.5 207h.9M176.5 202h.9M175.5 188h.9M178.5 160h.9M186 209.5h.9M180 173.5h.9M173.5 202.5h.9M177.5 204.5h.9M172 196.5h.9M175 174.5h.9M179 182h.9M167 189h.9M178.5 185.5h.9M184 206h.9M182.5 209h.9M165.5 206.5h.9M175.5 199h.9M176.5 178h.9M185.5 180.5h.9M176.5 198h.9M167.5 197.5h.9M170.5 199.5h.9M177 185h.9M172 162h.9M170.5 212.5h.9M164 163h.9M164.5 167h.9M185.5 183.5h.9M167 186h.9M177 162.5h.9M183 182h.9M170.5 185h.9M181 181h.9M169.5 172h.9M175 188.5h.9M179 171.5h.9M177.5 185.5h.9M168 187h.9M169 179h.9M178 179.5h.9M181.5 183.5h.9M179 189h.9M165 167h.9M176 195h.9M177 166.5h.9M175 172h.9M171.5 185.5h.9M165 176h.9M174 188.5h.9M174.5 181.5h.9M170 172h.9M173.5 177.5h.9M173.5 167.5h.9M179.5 180h.9M164.5 172h.9M165.5 186.5h.9M169 178.5h.9M173.5 185h.9M172.5 168.5h.9M168.5 181h.9M178.5 197.5h.9M175 195h.9M172.5 182h.9M177 195.5h.9M177 186.5h.9M166.5 179h.9M170.5 164h.9M181.5 174.5h.9M172.5 181h.9M174 179.5h.9M176.5 185.5h.9M158.5 182.5h.9M171 190.5h.9M178.5 175.5h.9M169 179.5h.9M170.5 185.5h.9M180 184h.9M179.5 187h.9M169 185h.9M169 181.5h.9M173.5 183.5h.9M183.5 173h.9M180.5 179h.9M174 185h.9M179.5 168h.9M172 195.5h.9M177.5 178h.9M171 179.5h.9M163 190h.9M180.5 181.5h.9M169 191h.9M168.5 187.5h.9M171 167h.9M171 185h.9M170 179.5h.9M166 179h.9M173.5 178h.9M175.5 164h.9M179.5 181h.9M169 192h.9M164.5 183.5h.9M177.5 180h.9M176 184.5h.9M165 172h.9M179.5 179.5h.9M180.5 183h.9M166.5 193h.9M169.5 178h.9M177 169h.9M173.5 190h.9M171.5 187h.9M172 174.5h.9M175 167h.9M177 178.5h.9M177 170.5h.9M170.5 192h.9M170.5 189.5h.9M179 183h.9M177.5 181.5h.9M166 188.5h.9M170 165.5h.9M182.5 186h.9M169.5 184h.9M169.5 176h.9M166.5 188h.9M170.5 187.5h.9M172 185.5h.9M163 187h.9M172 168h.9M164.5 180.5h.9M182 176.5h.9M178.5 180.5h.9M165 164.5h.9M167 180h.9M178 187h.9M168.5 166.5h.9M170.5 190h.9M175.5 177h.9M174 162.5h.9M160.5 172h.9M169.5 183h.9M173 186h.9M175.5 163h.9M176 177h.9M175.5 172h.9M173 189h.9M164 177h.9M165.5 170.5h.9M167.5 189h.9M174 163.5h.9M168 171.5h.9M173 181.5h.9M158.5 174h.9M165.5 174.5h.9M172.5 193.5h.9M169 186.5h.9M176 178.5h.9M168.5 168.5h.9M182.5 180h.9M171.5 182.5h.9M173 184.5h.9M169.5 170.5h.9M173 174h.9M179 190.5h.9M177.5 178.5h.9M168 179.5h.9M167.5 191h.9M182 176h.9M184 179.5h.9M169 173.5h.9M174 169h.9M172.5 192.5h.9M180 177h.9M168 181.5h.9M177 182.5h.9M172.5 203h.9M175.5 185h.9M165 177h.9M196 162.5h.9M164.5 177.5h.9M197.5 232.5h.9M203 238.5h.9M199 238h.9M216.5 230.5h.9M183.5 226h.9M200 232.5h.9M221 235h.9M207.5 225h.9M203.5 226.5h.9M211.5 234.5h.9M205.5 237.5h.9M215.5 223h.9M223 237h.9M180.5 232h.9M213.5 232h.9M206 230h.9M207.5 240h.9M217 223h.9M204 228.5h.9M189.5 240.5h.9M219 226h.9M216.5 248.5h.9M204 229.5h.9M209.5 238.5h.9M196.5 229.5h.9M198.5 223h.9M210.5 225.5h.9M195 222.5h.9M199 222.5h.9M213 231h.9M213 237h.9M220.5 220.5h.9M235 228.5h.9M231.5 239h.9M202.5 232h.9M210 222h.9M213 241.5h.9M208 232h.9M192 232h.9M230 241.5h.9M225 239h.9M211 227.5h.9M208 230h.9M189 224h.9M219 233.5h.9M199 230.5h.9M212.5 244.5h.9M209.5 236h.9M203 237h.9M208.5 229h.9M188.5 233h.9M218 229h.9M204.5 237.5h.9M208 231.5h.9M210.5 230.5h.9M232.5 225.5h.9M205.5 235.5h.9M190.5 234h.9M196 234h.9M205.5 242.5h.9M230.5 227.5h.9M218 223h.9M203 225.5h.9M189 227.5h.9M197.5 230h.9M227 230.5h.9M194.5 227.5h.9M217 239.5h.9M193.5 228.5h.9M213.5 226.5h.9M211.5 238.5h.9M195 229.5h.9M207.5 226h.9M214 232h.9M207.5 236h.9M224.5 227.5h.9M224 223.5h.9M182.5 234.5h.9M234 240h.9M228 229.5h.9M197.5 231.5h.9M210 225h.9M207 242.5h.9M205 242h.9M219 227.5h.9M218.5 233h.9M233.5 231h.9M230 225h.9M223 235h.9M207 240h.9M212.5 228.5h.9M231 221h.9M229 241h.9M213.5 230h.9M190 245.5h.9M197.5 227.5h.9M226 229.5h.9M223.5 231h.9M212.5 236h.9M213.5 227.5h.9M175.5 236h.9M219 239.5h.9M203 225h.9M222.5 229h.9M218 239h.9M210.5 228h.9M188.5 228.5h.9M200 226h.9M206 228.5h.9M214 235h.9M207 227.5h.9M200 239.5h.9M216.5 222h.9M229.5 236h.9M204.5 226h.9M213 234h.9M206.5 196.5h.9M196 200h.9M206.5 199h.9M208.5 190.5h.9M191.5 210.5h.9M185 205h.9M217 196.5h.9M223.5 203h.9M207.5 213.5h.9M197 197h.9M206.5 204.5h.9M193.5 202.5h.9M213.5 184h.9M198.5 195h.9M195.5 203.5h.9M196 202h.9M197 199h.9M194 206h.9M197.5 199h.9M200.5 210h.9M207.5 194.5h.9M205.5 203.5h.9M182 210.5h.9M195 194h.9M207 212h.9M207 206.5h.9M210 206h.9M195 203.5h.9M193.5 194h.9M202 206h.9M216.5 210h.9M197 212h.9M216.5 194h.9M200 196h.9M214 201h.9M188 202.5h.9M201 198.5h.9M196 200.5h.9M191 203.5h.9" stroke="#222" stroke-width="0.9" stroke-opacity="0.7" fill="none"/>
<path d="M177.5 220.5h.9M176 222.5h.9M171 229h.9M174.5 229.5h.9M179.5 220.5h.9M172 234h.9M178.5 235h.9M173.5 230.5h.9M176.5 226.5h.9M173.5 234h.9M172.5 228h.9M180.5 217.5h.9M169.5 232.5h.9M167 225.5h.9M169 231.5h.9M179.5 225.5h.9M167.5 230h.9M176 222h.9M177.5 233h.9M171.5 236.5h.9M172 231.5h.9M173 226.5h.9M167 230h.9M174 222.5h.9M169 231h.9M173 229.5h.9M178.5 236h.9M172.5 230h.9M176 233.5h.9M180 222.5h.9M172.5 226h.9M177.5 227h.9M174 238h.9M173.5 231h.9M171.5 225.5h.9M179.5 226.5h.9M168.5 219h.9M179.5 235h.9M170.5 237.5h.9M178.5 228.5h.9M177 234.5h.9M173.5 227.5h.9M170.5 229h.9M179 238.5h.9M173 229h.9M169 229.5h.9M170.5 234h.9M165 237h.9M172.5 223h.9M170 230h.9M170 230.5h.9M178.5 231h.9M171 226h.9M175.5 227.5h.9M177 239h.9M180.5 233.5h.9M181 227h.9M176.5 224h.9M172.5 228.5h.9M167.5 231h.9M170.5 237h.9M167.5 234.5h.9M166 239h.9M167.5 229h.9M169 228h.9M181 231h.9M174 231h.9M171.5 223h.9M165.5 240.5h.9M169.5 233h.9M175.5 231.5h.9M174 235h.9M167.5 225.5h.9M178.5 222h.9M179.5 224h.9M177 235.5h.9M174 233.5h.9M174 232.5h.9M173 230h.9M177.5 228h.9M164 226h.9M168.5 226.5h.9M169.5 231.5h.9M174 224.5h.9M167.5 221.5h.9M170.5 228h.9M171.5 227h.9M176.5 232h.9M175.5 230.5h.9M169.5 229.5h.9M175 228h.9M174.5 230.5h.9M170 227h.9M185 231.5h.9M172.5 224h.9M177.5 225h.9M175 237h.9M168 229.5h.9M171 225.5h.9M172 227.5h.9M171.5 235.5h.9M173.5 234.5h.9M188.5 216h.9M167.5 219h.9M181 232.5h.9M170.5 232.5h.9M175.5 224h.9M161 229h.9M176.5 229.5h.9M175 225.5h.9M178 226h.9M173.5 228.5h.9M184.5 225.5h.9M168 232h.9M173 224.5h.9M171 232h.9M177 226.5h.9M174 233h.9M174 240.5h.9M170 223.5h.9M175 232h.9M173 235h.9M177.5 232.5h.9M163.5 237h.9M174.5 231.5h.9M174.5 222.5h.9M178.5 233.5h.9M175.5 235.5h.9M171 238.5h.9M175 224.5h.9M168 239.5h.9M175 249h.9M184.5 229.5h.9M172.5 224.5h.9M182.5 232h.9M173 238.5h.9M181 222.5h.9M174.5 231h.9M169 238h.9M176 227h.9M168 231h.9M172 227h.9M172 230h.9M180.5 225.5h.9M171.5 230.5h.9M167 234.5h.9M179.5 228h.9M174 226.5h.9M173.5 238.5h.9M178 240.5h.9M174 238.5h.9M170.5 227h.9M170.5 230h.9M176.5 227h.9M176 227.5h.9M165 229h.9M177 226h.9M176 232h.9M170 236h.9M168.5 225h.9M169 227.5h.9M176.5 235h.9M171.5 240h.9M172 223.5h.9M170.5 230.5h.9M171.5 226h.9M172.5 234.5h.9M169.5 224h.9M171.5 231.5h.9M173.5 237.5h.9M162.5 236h.9M164.5 230.5h.9M171 231.5h.9M177.5 228.5h.9M183 232h.9M173.5 239.5h.9M177 235h.9M176 239.5h.9M177.5 238h.9M172 225h.9M175.5 223.5h.9M175 239h.9M172.5 225h.9M175 222h.9M166.5 224.5h.9M171.5 235h.9M180 230.5h.9M180.5 230h.9M171 235.5h.9M178 229.5h.9M174.5 219h.9M165.5 223h.9M178.5 225.5h.9M171.5 232.5h.9M173.5 230h.9M168 225h.9M177 229.5h.9M166.5 225.5h.9M167.5 227h.9M171 230.5h.9M173.5 222h.9M177 231.5h.9M177 225.5h.9M176 238h.9M170 227.5h.9M171 231h.9M176 244h.9M175 227h.9M178 230.5h.9M178.5 240.5h.9M169 226h.9M167.5 234h.9M176 243.5h.9M177 238h.9M178.5 234h.9M177 228.5h.9M171.5 234.5h.9M177.5 229.5h.9M172 217.5h.9M169.5 231h.9M175.5 232.5h.9M171.5 237.5h.9M171.5 224.5h.9M179 227h.9M172.5 231.5h.9M177 237h.9M176.5 219h.9M171.5 237h.9M173.5 225h.9M178 231h.9M170 232h.9M181 228.5h.9M172 229h.9M169 222h.9M172.5 235.5h.9M178 217h.9M177.5 231.5h.9M173.5 228h.9M170.5 238h.9M168 229h.9M169 236h.9M167.5 232.5h.9M185.5 226h.9M165 230h.9M177 228h.9M176.5 220h.9M172 232h.9M172.5 230.5h.9M173.5 233h.9M174.5 228h.9M172 226.5h.9M176.5 233.5h.9M175 228.5h.9M175 232.5h.9M174.5 220h.9M178.5 230h.9M179.5 231.5h.9M173 227h.9M172 225.5h.9M172.5 222h.9M174 229.5h.9M168 227.5h.9M169 228.5h.9M169.5 224.5h.9M173.5 232h.9M164 237h.9M182.5 221h.9M168 236.5h.9M176 226h.9M181.5 234h.9M174.5 223.5h.9M171 229.5h.9M175 231.5h.9M180.5 240h.9M172.5 227.5h.9M177 232h.9M170 222h.9M168.5 240h.9M177.5 225.5h.9M174 221.5h.9M175 233.5h.9M171.5 230h.9M181 229h.9M179 224.5h.9M175.5 226h.9M168.5 227.5h.9M173 230.5h.9M169.5 228h.9M179.5 229h.9M175 225h.9M172 228h.9M169 232.5h.9M175.5 222h.9M169.5 225.5h.9M178 225.5h.9M175 229h.9M170 226.5h.9M166.5 226h.9M165.5 234h.9M173.5 224.5h.9M174 229h.9M176 230h.9M170 226h.9M176.5 235.5h.9M165.5 235h.9M170 233.5h.9M176.5 230.5h.9M177 223.5h.9M173 218h.9M169.5 229h.9M175.5 236.5h.9M175 227.5h.9M180.5 235.5h.9M172 233h.9M169.5 235h.9M171.5 242.5h.9M180.5 233h.9M177 229h.9M180 233.5h.9M176.5 239.5h.9M168 233h.9M172 226h.9M177.5 231h.9M178 230h.9M173.5 222.5h.9M180.5 234.5h.9M175.5 239.5h.9M174 226h.9M166 238h.9M165.5 239.5h.9M170.5 233.5h.9M179 221.5h.9M180 232h.9M168.5 228h.9M165.5 239h.9M175.5 231h.9M180.5 227.5h.9M185.5 228h.9M166.5 232.5h.9M175.5 238h.9M173 231.5h.9M170.5 232h.9M173 233.5h.9M174 222h.9M168.5 228.5h.9M172.5 233.5h.9M173 234h.9M182.5 230.5h.9M166 235h.9M176.5 229h.9M180.5 238h.9M173.5 229h.9M172.5 232.5h.9M174 235.5h.9M173 234.5h.9M164.5 224h.9M177.5 233.5h.9M176 223h.9M171 236h.9M171 241h.9M176.5 234.5h.9M175.5 238.5h.9M167 227.5h.9M178 219.5h.9M175 226h.9M174.5 237h.9M170.5 226.5h.9M173.5 226.5h.9M165.5 236h.9M171.5 228h.9M164 227.5h.9M169.5 226h.9M184 226h.9M178 220.5h.9M174 230h.9M179.5 243h.9M175.5 239h.9M176 221.5h.9M178 227h.9M162.5 242h.9M169.5 230.5h.9M172.5 231h.9M179 225.5h.9M172 232.5h.9M175 221.5h.9M169 233.5h.9M175 231h.9M182.5 226h.9M171.5 233h.9M173.5 232.5h.9M172.5 229.5h.9M171 223h.9M175.5 233.5h.9M183 226.5h.9M173 221.5h.9M168.5 233.5h.9M175 229.5h.9M180.5 227h.9M173.5 229.5h.9M172 231h.9M164.5 229h.9M171 234.5h.9M169.5 236.5h.9M163 227.5h.9M174 234.5h.9M172 239.5h.9M169 221.5h.9M169.5 230h.9M174.5 225.5h.9M173 223.5h.9M176.5 230h.9M174.5 235h.9M170.5 235.5h.9M169 243h.9M178 226.5h.9M176.5 238h.9M179.5 231h.9M176 221h.9M176 228.5h.9M162.5 231h.9M176.5 241.5h.9M175.5 228.5h.9M169.5 233.5h.9M178.5 229.5h.9M172.5 235h.9M175 235.5h.9M167.5 227.5h.9M174.5 232.5h.9M180 229.5h.9M164.5 231.5h.9M165.5 233.5h.9M170.5 229.5h.9M173.5 223h.9M174 224h.9M183.5 227h.9M164.5 236h.9M178 233h.9M178 228h.9M173.5 221h.9M167 229.5h.9M178 224.5h.9M174 234h.9M174.5 229h.9M175 220h.9M185.5 230.5h.9M178.5 223.5h.9M169.5 241.5h.9M178 225h.9M180 240h.9M173 233h.9M175.5 222.5h.9M165 235h.9M173 232h.9M165 229.5h.9M176.5 231.5h.9M179 223.5h.9M170.5 225.5h.9M171 230h.9M179.5 228.5h.9M166 226h.9M170.5 239.5h.9M176.5 225.5h.9M165 233h.9M180 238.5h.9M174 230.5h.9M172 244h.9M165 234.5h.9M175 226.5h.9M179 227.5h.9M182 229h.9M172.5 223.5h.9M167 227h.9M174.5 239.5h.9M179.5 222h.9M168.5 231h.9M172.5 238.5h.9M173 228h.9M178.5 229h.9M176 242h.9M173 228.5h.9M175 223h.9M166.5 231.5h.9M165.5 233h.9M164.5 233h.9M175.5 229.5h.9M167.5 224.5h.9M165 236h.9M179.5 233.5h.9M177 239.5h.9M184 241h.9M176.5 237.5h.9M186 238.5h.9M175.5 221.5h.9M177 224.5h.9M174 221h.9M171 237h.9M179 228.5h.9M172 235.5h.9M172 239h.9M178 232h.9M174.5 230h.9M176 235h.9M169 227h.9M175.5 227h.9M179 237.5h.9M177.5 232h.9M176.5 233h.9M177 232.5h.9M169.5 219.5h.9M167.5 226h.9M172.5 220h.9M175.5 223h.9M175.5 237.5h.9M176 241.5h.9M179 231.5h.9M175 236.5h.9M175.5 241.5h.9M180 228h.9M177 230h.9M180.5 226.5h.9M170 239.5h.9M163.5 233.5h.9M181.5 233h.9M179 220.5h.9M172.5 219.5h.9M169 224h.9M174 228h.9M176.5 221.5h.9M178.5 228h.9M177 224h.9M169 229h.9M181.5 242h.9M167.5 232h.9M169.5 221h.9M175 221h.9M170.5 233h.9M169.5 234.5h.9M170.5 241.5h.9M170 229h.9M161 222h.9M185.5 222.5h.9M181.5 230h.9M177 241h.9M176 226.5h.9M172 217h.9M161.5 229.5h.9M179.5 223.5h.9M176 230.5h.9M171 232.5h.9M160.5 226.5h.9M182 233.5h.9M178 232.5h.9M179.5 229.5h.9M170 232.5h.9M174.5 224.5h.9M168 227h.9M171.5 240.5h.9M174 225.5h.9M164.5 234h.9M177.5 224.5h.9M174 239.5h.9M166.5 230h.9M167.5 233.5h.9M177.5 219h.9M175 235h.9M178.5 231.5h.9M170.5 234.5h.9M168 222h.9M171.5 223.5h.9M171.5 234h.9M174.5 238.5h.9M164.5 241.5h.9M179.5 226h.9M176 239h.9M167.5 226.5h.9M180.5 229h.9M182 234.5h.9M168.5 237h.9M173.5 231.5h.9M167 219h.9M172 234.5h.9M171.5 232h.9M166.5 223.5h.9M184.5 233h.9M167.5 225h.9M174.5 226h.9M179 240h.9M173.5 225.5h.9M183.5 221h.9M177 233h.9M180.5 232.5h.9M168 228.5h.9M177 223h.9M176.5 231h.9M181 222h.9M172 222h.9M173.5 236.5h.9M169 225h.9M170 231.5h.9M168.5 231.5h.9M163.5 227h.9M179.5 217.5h.9M179.5 235.5h.9M179 232h.9M172 236h.9M169.5 227.5h.9M163 229h.9M185.5 224h.9M170.5 218h.9M180 225.5h.9M167.5 231.5h.9M165.5 226h.9M175.5 229h.9M171.5 239.5h.9M176 229h.9M170 224.5h.9M183.5 223h.9M184.5 236.5h.9M177 227h.9M164.5 231h.9M173 242h.9M172 220h.9M185 232.5h.9M162.5 238.5h.9M162 229.5h.9M172 233.5h.9M182.5 233.5h.9M173 241.5h.9M170.5 222.5h.9M170 219.5h.9M170 228.5h.9M166.5 228.5h.9M170.5 226h.9M180.5 237h.9M177.5 239h.9M170 238.5h.9M175.5 220h.9M167 230.5h.9M166.5 234.5h.9M172 235h.9M169 233h.9M166.5 231h.9M178 228.5h.9M171 234h.9M178.5 219.5h.9M174 231.5h.9M179 225h.9M172 238h.9M171.5 236h.9M182 221.5h.9M173 220.5h.9M173.5 217.5h.9M172 243.5h.9M179.5 237.5h.9M176 231h.9M174.5 216.5h.9M172.5 246h.9M176.5 240.5h.9M168 228h.9M183.5 233h.9M166 239.5h.9M169.5 237.5h.9M170 228h.9M176 233h.9M161.5 225h.9M174.5 232h.9M181 230.5h.9M179 228h.9M178.5 227.5h.9M171 238h.9M177.5 224h.9M184.5 220.5h.9M169.5 226.5h.9M171 227.5h.9M174.5 234h.9M174 241.5h.9M167 226.5h.9M168 231.5h.9M173.5 227h.9M181 236.5h.9M177 231h.9M175.5 236h.9M164.5 233.5h.9M173.5 239h.9M182.5 230h.9M172.5 232h.9M168.5 235.5h.9M176.5 225h.9M169 230.5h.9M184 237.5h.9M167.5 224h.9M175.5 226.5h.9M167 231h.9M180 229h.9M167 229h.9M166.5 230.5h.9M167 225h.9M182 231.5h.9M160.5 230.5h.9M182 240.5h.9M176 225h.9M177.5 242.5h.9M171 228.5h.9M171 233h.9M168 236h.9M170.5 231h.9M171.5 228.5h.9M168 226.5h.9M167.5 229.5h.9M176 237h.9M181 232h.9M165.5 227.5h.9M178 229h.9M178.5 235.5h.9M170 225h.9M178 235.5h.9M175 234.5h.9M183 230.5h.9M178.5 234.5h.9M169.5 227h.9M175 230h.9M177 244h.9M169 234h.9M187.5 233h.9M175 222.5h.9M169.5 219h.9M162 225.5h.9M176 234h.9M173 239h.9M176.5 242.5h.9M182 231h.9M174.5 222h.9M167 216.5h.9M168.5 235h.9M165.5 237h.9M166.5 237.5h.9M169.5 235.5h.9M174.5 228.5h.9M174.5 234.5h.9M174 225h.9M171.5 233.5h.9M179 238h.9M175.5 234.5h.9M181 236h.9M168.5 234.5h.9M181 217.5h.9M178.5 237.5h.9M178.5 226.5h.9M175.5 233h.9M183.5 235h.9M177.5 235.5h.9M164 225h.9M181.5 232h.9M164 230.5h.9M165.5 231.5h.9M173.5 221.5h.9M165 224.5h.9M179.5 225h.9M169.5 222h.9M174 227.5h.9M180 233h.9M178 231.5h.9M173.5 223.5h.9M168.5 224.5h.9M182 239.5h.9M177 233.5h.9M171 218.5h.9M173.5 240h.9M176.5 223h.9M180.5 235h.9M171.5 226.5h.9M174.5 236h.9M172.5 236h.9M171.5 220.5h.9M165.5 226.5h.9M175 219h.9M169.5 222.5h.9M176 236h.9M166.5 216h.9M169.5 232h.9M174 232h.9M176 240h.9M185 231h.9M173.5 235h.9M168.5 223h.9M183 228h.9M180 231.5h.9M164 229.5h.9M176 234.5h.9M173 240.5h.9M175 237.5h.9M175.5 228h.9M188.5 232h.9M176.5 226h.9M169 235.5h.9M177 238.5h.9M174.5 227.5h.9M175.5 232h.9M173 231h.9M174 218.5h.9M176.5 227.5h.9M171 237.5h.9M176 225.5h.9M172.5 221h.9M172 237h.9M173.5 233.5h.9M178.5 223h.9M174.5 220.5h.9M178.5 236.5h.9M180 224.5h.9M178.5 238h.9M180 227.5h.9M186 230h.9M175.5 242h.9M189.5 233h.9M183.5 230.5h.9M165 240.5h.9M168 226h.9M179 233h.9M177.5 221h.9M171.5 244h.9M177.5 230.5h.9M171 220.5h.9M180.5 230.5h.9M171 224h.9M174.5 239h.9M179.5 230.5h.9M179.5 232h.9M170.5 236h.9M185 229h.9M174 237h.9M170.5 235h.9M167.5 235.5h.9M179 226.5h.9M185 228h.9M181 233h.9M174.5 233h.9M172 238.5h.9M163 225h.9M168.5 233h.9M166 230h.9M175 220.5h.9M165.5 232h.9M186.5 224h.9M177 219.5h.9M178 236h.9M169 232h.9M171 219h.9M167 233.5h.9M180.5 232h.9M178 218.5h.9M176.5 236h.9M168 230h.9M181 224h.9M171.5 231h.9M166.5 238h.9M185.5 231h.9M173 226h.9M171 226.5h.9M178 234h.9M173.5 237h.9M171.5 227.5h.9M171.5 224h.9M161.5 232h.9M176 240.5h.9M180 236h.9M176.5 232.5h.9M171 240h.9M169 241.5h.9M162.5 227.5h.9M173 236h.9M178 222h.9M183.5 229h.9M172.5 233h.9M179 219h.9M173.5 238h.9M174 236.5h.9M170.5 224.5h.9M166.5 233.5h.9M168.5 229.5h.9M167.5 242h.9M176 238.5h.9M172 230.5h.9M170 223h.9M167.5 238.5h.9M181.5 231h.9M177.5 223.5h.9M165.5 236.5h.9M169.5 220.5h.9M162.5 229.5h.9M167 224.5h.9M173.5 226h.9M169.5 234h.9M182 237.5h.9M177.5 236h.9M171 227h.9M176 237.5h.9M176 236.5h.9M175 230.5h.9M172.5 227h.9M178.5 226h.9M168.5 237.5h.9M179.5 219.5h.9M168 233.5h.9M176.5 228.5h.9M166.5 228h.9M174.5 233.5h.9M176 223.5h.9M175 238h.9M171.5 225h.9M164 230h.9M182 223.5h.9M173 225.5h.9M177 236h.9M171.5 229h.9M181.5 229h.9M176 224h.9M174.5 221h.9M184.5 230h.9M179 232.5h.9M169 242.5h.9M175.5 230h.9M176.5 242h.9M170.5 240.5h.9M171 235h.9M166.5 237h.9M187 239.5h.9M180 235h.9M173 223h.9M175.5 234h.9M171 222h.9M173.5 236h.9M174 228.5h.9M182.5 231.5h.9M172 237.5h.9M167 226h.9M166.5 226.5h.9M180.5 228h.9M165.5 231h.9M172 218.5h.9M170 235h.9M174.5 240h.9M184.5 234.5h.9M175 218h.9M171 233.5h.9M181 221.5h.9M167 233h.9M164.5 228h.9M168 218h.9M176 231.5h.9M164.5 232.5h.9M179.5 227h.9M186.5 234h.9M184 234.5h.9M172 224.5h.9M163 231.5h.9M176.5 220.5h.9M166.5 225h.9M172.5 234h.9M165 216h.9M176.5 239h.9M164 233h.9M166.5 240.5h.9M167.5 218.5h.9M175 224h.9M177.5 227.5h.9M168 238.5h.9M172.5 225.5h.9M174.5 237.5h.9M187 222h.9M180 236.5h.9M181 235h.9M181.5 230.5h.9M172 224h.9M168 234.5h.9M184 221.5h.9M177.5 234.5h.9M182 238h.9M180.5 237.5h.9M167.5 233h.9M172 228.5h.9M181.5 235.5h.9M182.5 228h.9M172.5 238h.9M170.5 231.5h.9M174 223h.9M182.5 228.5h.9M171.5 238.5h.9M168 240.5h.9M169 239h.9M167.5 237.5h.9M169.5 243.5h.9M170 231h.9M178 227.5h.9M171 228h.9M164.5 226.5h.9M168 234h.9M168.5 219.5h.9M172.5 243.5h.9M177 225h.9M181.5 224.5h.9M164.5 236.5h.9M177 230.5h.9M183 221.5h.9M189 228h.9M175.5 219h.9M170 221.5h.9M181 237h.9M179 230.5h.9M173.5 219.5h.9M179.5 239.5h.9M181.5 225.5h.9M173 238h.9M163.5 233h.9M170.5 223.5h.9M168 221h.9M177 237.5h.9M172.5 240h.9M174 216.5h.9M178 236.5h.9M183.5 228h.9M166 226.5h.9M168.5 229h.9M180 231h.9M168.5 232h.9M169.5 238.5h.9M183 234.5h.9M168.5 225.5h.9M178 239.5h.9M172.5 226.5h.9M176.5 237h.9M182.5 234h.9M168.5 224h.9M171 223.5h.9M181 225h.9M167.5 236.5h.9M175.5 237h.9M171.5 222h.9M176.5 228h.9M164 238h.9M174 223.5h.9M175 240.5h.9M164.5 227h.9M175 223.5h.9M182 215.5h.9M164 232.5h.9M174 227h.9M169.5 239h.9M171 217h.9M181 229.5h.9M182.5 235h.9M181.5 222.5h.9M175 241h.9M166.5 222.5h.9M180.5 231.5h.9M182 229.5h.9M179 230h.9M177 227.5h.9M183 226h.9M177.5 226h.9M165 234h.9M163.5 235h.9M172.5 229h.9M170.5 225h.9M169 230h.9M183 240.5h.9M181 237.5h.9M172.5 237h.9M172.5 236.5h.9M183 236.5h.9M178 237.5h.9M179 234h.9M175 233h.9M170 220h.9M177.5 226.5h.9M174 236h.9M170 237h.9M162 234h.9M182 227h.9M164 231h.9M167.5 228h.9M176.5 223.5h.9M176 229.5h.9M167 228h.9M179.5 224.5h.9M172.5 222.5h.9M179 224h.9M173 222.5h.9M170 218h.9M163.5 234.5h.9M179.5 234.5h.9M168.5 230h.9M175.5 235h.9M164 227h.9M179 235.5h.9M167 234h.9M182 233h.9M161.5 231.5h.9M174 241h.9M181 233.5h.9M169 226.5h.9M186.5 228.5h.9M179 242.5h.9M166.5 223h.9M176.5 234h.9M182 230h.9M169 234.5h.9M168.5 221.5h.9M168 235.5h.9M170.5 238.5h.9M176.5 240h.9M169.5 223h.9M171 242h.9M184.5 232.5h.9M182 234h.9M180 230h.9M180.5 239.5h.9M169 218.5h.9M175.5 225h.9M171 224.5h.9M172.5 221.5h.9M179 236.5h.9M176.5 224.5h.9M184.5 238h.9M172.5 241h.9M171.5 229.5h.9M176 232.5h.9M168 225.5h.9M182 225.5h.9M181.5 223.5h.9M177.5 241.5h.9M184.5 228h.9M180 234.5h.9M178.5 220.5h.9M167.5 230.5h.9M162.5 230.5h.9M179.5 221h.9M173 221h.9M170 237.5h.9M178 224h.9M174.5 225h.9M160 234.5h.9M183 235.5h.9M180.5 229.5h.9M168 224.5h.9M171.5 220h.9M167 228.5h.9M167 232.5h.9M165.5 230.5h.9M178 238h.9M174.5 238h.9M170 225.5h.9M172 221.5h.9M165 224h.9M178.5 227h.9M183 222h.9M179.5 219h.9M180 227h.9M171 236.5h.9M169.5 237h.9M168.5 227h.9M169.5 240.5h.9M177.5 234h.9M168.5 218.5h.9M183.5 224h.9M168 230.5h.9M178.5 237h.9M169 225.5h.9M178.5 224.5h.9M173 243.5h.9M175.5 219.5h.9M170 240h.9M166 236.5h.9M179.5 238.5h.9M166.5 221.5h.9M172 236.5h.9M173.5 241.5h.9M168 237.5h.9M164.5 228.5h.9M173 232.5h.9M165.5 220.5h.9M180 242.5h.9M177.5 220h.9M174.5 227h.9M167 238h.9M182 230.5h.9M172.5 215.5h.9M179 217h.9M175 236h.9M170.5 224h.9M169.5 225h.9M171.5 221.5h.9M171.5 243.5h.9M173 225h.9M162.5 232.5h.9M163.5 232h.9M185.5 231.5h.9M183.5 234.5h.9M178 234.5h.9M182.5 237.5h.9M166 228.5h.9M178 223h.9M182 228.5h.9M170 229.5h.9M181 226.5h.9M173.5 244.5h.9M178 222.5h.9M166 236h.9M170 238h.9M173.5 219h.9M166.5 229.5h.9M184.5 224.5h.9M181 243.5h.9M182 225h.9M179 237h.9M175 239.5h.9M166.5 220.5h.9M169.5 248h.9M172.5 240.5h.9M169 237.5h.9M161 224.5h.9M165 228.5h.9M160.5 231h.9M181.5 248.5h.9M168 223h.9M160 231h.9M177 219h.9M187 244h.9M165 228h.9M169 224.5h.9M175.5 220.5h.9M172 220.5h.9M161.5 234.5h.9M165 220.5h.9M172.5 239h.9M184 243h.9M163 238h.9M163.5 222.5h.9M172 218h.9M178 238.5h.9M166 234h.9M181 240.5h.9M168.5 240.5h.9M167.5 245.5h.9M174 242h.9M163 232h.9M166.5 248.5h.9M166 240h.9M158.5 246.5h.9M164 229h.9M172 246.5h.9M162.5 234.5h.9M169.5 220h.9M182.5 241h.9M170.5 236.5h.9M165.5 240h.9M184 227.5h.9M158.5 216h.9M170 244h.9M179 223h.9M165 221.5h.9M181.5 231.5h.9M181 239h.9M159 236.5h.9M181 245h.9M161.5 233.5h.9M171 243.5h.9M169.5 248.5h.9M161.5 223h.9M163.5 230.5h.9M160.5 243.5h.9M187 243.5h.9M187 235.5h.9M169 218h.9M165 231.5h.9M160.5 221.5h.9M180 215h.9M161 238h.9M158.5 236h.9M165 223.5h.9M158.5 231h.9M172 241.5h.9M185 230h.9M179 222.5h.9M166.5 240h.9M178.5 238.5h.9M178.5 245h.9M175 243h.9M181.5 228.5h.9M159.5 230.5h.9M158.5 247.5h.9M175.5 245h.9M170.5 244.5h.9M165.5 241.5h.9M161 237h.9M170 234h.9M167 248h.9M177.5 230h.9M170.5 219.5h.9M170.5 247.5h.9M164.5 242h.9M178.5 243.5h.9M165.5 234.5h.9M182 243h.9M163 235h.9M169 240.5h.9M160.5 238.5h.9M170 241h.9M182 242.5h.9M173 242.5h.9M163 240h.9M161 233h.9M168 221.5h.9M182.5 223h.9M175.5 243.5h.9M179.5 238h.9M164.5 240h.9M185 232h.9M163 236h.9M172 240h.9M184.5 247.5h.9M160.5 220h.9M182 227.5h.9M165 248h.9M182.5 222h.9M164 218.5h.9M163 237.5h.9M164.5 245h.9M165 222h.9M169.5 247.5h.9M169 223.5h.9M168.5 222.5h.9M164 240h.9M179.5 236.5h.9M185 225h.9M184.5 239.5h.9M182.5 227h.9M177 220.5h.9M164.5 242.5h.9M180.5 241.5h.9M174.5 246h.9M169.5 240h.9M160.5 235h.9M163 228h.9M173.5 242.5h.9M178 241.5h.9M173 244h.9M180.5 247h.9M184 242h.9M166.5 245h.9M164.5 238h.9M159 223h.9M170 234.5h.9M158.5 219.5h.9M168.5 245h.9M182 226.5h.9M177 240.5h.9M165 245h.9M177.5 222h.9M170 242.5h.9M170 246h.9M170 243h.9M161.5 228h.9M175 242.5h.9M173.5 240.5h.9M159.5 226h.9M181.5 238h.9M164.5 248h.9M181 238.5h.9M163.5 248.5h.9M170.5 240h.9M185 239h.9M173 248.5h.9M158.5 222.5h.9M181 234.5h.9M182.5 243.5h.9M158.5 237h.9M179 242h.9M164.5 226h.9M160.5 238h.9M170 243.5h.9M166.5 245.5h.9M162.5 235h.9M161 243h.9M171.5 239h.9M165 237.5h.9M174.5 236.5h.9M183.5 230h.9M181.5 241.5h.9M182.5 240h.9M160.5 229.5h.9M168 242h.9M162.5 241h.9M158.5 228h.9M163.5 222h.9M169 235h.9M185.5 246.5h.9M168 243h.9M182 242h.9M177.5 229h.9M184 220h.9M185 245.5h.9M168.5 241.5h.9M178.5 244.5h.9M164 237.5h.9M181 244h.9M173 240h.9M161.5 240.5h.9M167.5 243.5h.9M178 237h.9M184 231h.9M161.5 222.5h.9M172.5 242h.9M183 231h.9M165.5 217.5h.9M168 223.5h.9M166 223.5h.9M167.5 217h.9M181 230h.9M182.5 237h.9M162 233h.9M181.5 239.5h.9M162.5 240.5h.9M159.5 222h.9M159 239.5h.9M180 239.5h.9M177.5 239.5h.9M169.5 238h.9M173.5 247h.9M180.5 243.5h.9M182 237h.9M169.5 242h.9M170.5 245.5h.9M176 243h.9M163 228.5h.9M162 235h.9M177.5 222.5h.9M163.5 245.5h.9M179.5 230h.9M164.5 243.5h.9M159.5 242h.9M176.5 243h.9M159.5 231h.9M163.5 241.5h.9M158.5 243.5h.9M164.5 244.5h.9M167.5 223.5h.9M166 228h.9M166 227h.9M167.5 242.5h.9M179.5 222.5h.9M160.5 231.5h.9M158.5 229h.9M168 245.5h.9M163.5 245h.9M163 247h.9M182 236.5h.9M183.5 237h.9M163.5 225.5h.9M181.5 240h.9M171 225h.9M177.5 237.5h.9M161 224h.9M172 248.5h.9M186.5 233.5h.9M164 241h.9M179 233.5h.9M160.5 237h.9M167.5 238h.9M173 236.5h.9M163.5 234h.9M178 240h.9M184 225.5h.9M158.5 219h.9M181.5 237.5h.9M177.5 243.5h.9M166.5 220h.9M181.5 242.5h.9M163 224h.9M166 225.5h.9M181.5 226h.9M165 243h.9M183.5 245h.9M162.5 236.5h.9M179.5 239h.9M171 246h.9M174 240h.9M183.5 239.5h.9M179 229h.9M160 228.5h.9M170.5 243h.9M165.5 227h.9M169 238.5h.9M188 241h.9M166 241h.9M159 242.5h.9M164 240.5h.9M161 247h.9M177 220h.9M166 221.5h.9M168.5 217h.9M174.5 240.5h.9M162.5 237.5h.9M180 237.5h.9M160.5 236h.9M184 222.5h.9M163 219h.9M168.5 244h.9M166 221h.9M173.5 241h.9M181.5 236h.9M162 224.5h.9M181 224.5h.9M185.5 237.5h.9M180.5 222h.9M169 248.5h.9M177 240h.9M158.5 220.5h.9M160 231.5h.9M184.5 234h.9M161 248.5h.9M175.5 241h.9M166 242h.9M178.5 225h.9M165.5 229.5h.9M178 242.5h.9M163.5 243.5h.9M177.5 245h.9M164 249h.9M163 241h.9M161 227.5h.9M184 243.5h.9M167.5 247h.9M183 248.5h.9M179 239h.9M162.5 226h.9M184 245.5h.9M174.5 223h.9M160 246h.9M168.5 220h.9M162 239h.9M163 249h.9M159.5 223h.9M179 222h.9M164 224h.9M168 220.5h.9M165.5 242h.9M161.5 241.5h.9M166 223h.9M168.5 239.5h.9M165.5 242.5h.9M165 223h.9M161 239.5h.9M170 221h.9M166 224.5h.9M159 224h.9M184 231.5h.9M164 234.5h.9M176.5 245.5h.9M180.5 224h.9M180 232.5h.9M171 240.5h.9M184.5 228.5h.9M159 248h.9M162.5 234h.9M177 245h.9M166.5 229h.9M170 241.5h.9M167.5 248.5h.9M169.5 242.5h.9M165.5 229h.9M172 243h.9M166 241.5h.9M158.5 226h.9M168.5 236.5h.9M171 239h.9M181 248h.9M161 229.5h.9M170.5 218.5h.9M187 221h.9M163.5 221h.9M165.5 244.5h.9M165 216.5h.9M169.5 228.5h.9M164 228.5h.9M158.5 245h.9M172 242h.9M164 236h.9M172 229.5h.9M164 233.5h.9M167 223.5h.9M175.5 224.5h.9M180.5 239h.9M181 216.5h.9M165 244.5h.9M174 246h.9M164.5 219.5h.9M168.5 239h.9M181 241.5h.9M175 242h.9M163.5 230h.9M161 234h.9M177 241.5h.9M183.5 236.5h.9M173 237h.9M164 228h.9M172 245.5h.9M159 227h.9M165.5 221.5h.9M168 235h.9M162 238h.9M184 218.5h.9M184 233h.9M163.5 229h.9M162 225h.9M177.5 246h.9M176 228h.9M167 245.5h.9M161.5 224.5h.9M174 242.5h.9M165 238h.9M169 223h.9M179 241.5h.9M165 232h.9M180 234h.9M173.5 242h.9M177.5 223h.9M167 222h.9M183 238h.9M180 238h.9M182 224h.9M174.5 218h.9M161.5 228.5h.9M165 225.5h.9M186.5 231h.9M174 243h.9M179 231h.9M168.5 230.5h.9M185 236.5h.9M169 221h.9M164.5 237h.9M166.5 236h.9M158.5 242.5h.9M180 244.5h.9M162.5 237h.9M186 243h.9M182 246h.9M182.5 243h.9M185 236h.9M176 245h.9M170.5 228.5h.9M180 235.5h.9M163.5 248h.9M171.5 238h.9M182 235.5h.9M176.5 238.5h.9M158.5 231.5h.9M187 228h.9M181.5 243h.9M160.5 245h.9M164.5 229.5h.9M183 235h.9M163.5 235.5h.9M168.5 236h.9M177.5 218.5h.9M158.5 233h.9M184 222h.9M183.5 231.5h.9M171 222.5h.9M167 235h.9M163.5 244h.9M183.5 244h.9M162.5 239.5h.9M160 240h.9M179.5 240.5h.9M178.5 230.5h.9M180.5 236.5h.9M159.5 225.5h.9M163.5 227.5h.9M160.5 242h.9M162.5 223h.9M183 243h.9M163.5 223h.9M175 247.5h.9M177.5 237h.9M166 224h.9M161 223.5h.9M167 240.5h.9M181 241h.9M178.5 239h.9M180.5 219h.9M180 222h.9M163 223h.9M166 230.5h.9M178.5 221h.9M162.5 227h.9M162 229h.9M176.5 217.5h.9M163 226.5h.9M164 234h.9M162 226h.9M164.5 223h.9M158.5 241h.9M165 226h.9M158.5 224h.9M175.5 244h.9M184 246h.9M164.5 241h.9M168 232.5h.9M180.5 231h.9M182.5 236h.9M180.5 238.5h.9M160.5 228.5h.9M167 246.5h.9M175.5 225.5h.9M162.5 247h.9M164.5 232h.9M170.5 246.5h.9M186.5 229.5h.9M182.5 240.5h.9M171 239.5h.9M160 232.5h.9M162.5 233h.9M175 246.5h.9M174.5 235.5h.9M172 242.5h.9M179 248.5h.9M174.5 243.5h.9M170 233h.9M158.5 228.5h.9M183.5 241.5h.9M165.5 216.5h.9M181.5 234.5h.9M165.5 222h.9M166 217h.9M183.5 223.5h.9M176.5 241h.9M163 239.5h.9M184.5 237h.9M172 245h.9M171 249h.9M163.5 240h.9M178.5 245.5h.9M181.5 243.5h.9M163 222h.9M175 246h.9M180 246h.9M163.5 226.5h.9M160 238.5h.9M163 229.5h.9M181 225.5h.9M181.5 239h.9M182 228h.9M158.5 221h.9M164 241.5h.9M158.5 232.5h.9M177 236.5h.9M161.5 226h.9M184 229.5h.9M167.5 239h.9M160 226.5h.9M173 241h.9M183.5 243.5h.9M182 240h.9M160 236h.9M185 226h.9M175.5 245.5h.9M169 247.5h.9M163 234h.9M165.5 243.5h.9M183.5 246h.9M163.5 224.5h.9M178.5 224h.9M179 244.5h.9M179 246h.9M158.5 225.5h.9M183.5 225.5h.9M168.5 241h.9M164 239h.9M159 233h.9M186 226h.9M172.5 242.5h.9M179 245h.9M158.5 246h.9M167 248.5h.9M162.5 224h.9M167.5 246.5h.9M181 239.5h.9M174.5 224h.9M169 245h.9M162 217.5h.9M166 225h.9M168.5 244.5h.9M170.5 243.5h.9M164.5 225h.9M185 222h.9M185 244.5h.9M163.5 228.5h.9M159.5 234h.9M164 226.5h.9M159.5 236.5h.9M167.5 241.5h.9M165 233.5h.9M162.5 232h.9M182.5 221.5h.9M163.5 238.5h.9M159.5 239.5h.9M166.5 247h.9M183 242.5h.9M183 240h.9M182.5 245.5h.9M166 233.5h.9M182.5 227.5h.9M179.5 237h.9M169.5 221.5h.9M170.5 241h.9M176.5 246h.9M158.5 227h.9M165 222.5h.9M174.5 244.5h.9M161.5 248.5h.9M183 239h.9M161.5 239h.9M183.5 226h.9M178.5 221.5h.9M159.5 246h.9M163 243.5h.9M180.5 221.5h.9M168.5 238h.9M180 226h.9M180.5 224.5h.9M166.5 235h.9M184.5 227h.9M182.5 244h.9M159.5 243h.9M180 223.5h.9M158.5 223h.9M165.5 228h.9M165.5 241h.9M168.5 243h.9M178 221.5h.9M160.5 245.5h.9M167 239.5h.9M161.5 240h.9M184.5 243h.9M164 224.5h.9M163.5 242.5h.9M163 242h.9M178.5 244h.9M180 241h.9M171.5 241h.9M177.5 235h.9M161 231.5h.9M171 242.5h.9M181.5 247.5h.9M172.5 245h.9M164 222.5h.9M162 236h.9M161 221.5h.9M162.5 244.5h.9M168 242.5h.9M184.5 238.5h.9M176 235.5h.9M159 240h.9M173 244.5h.9M179.5 233h.9M164 221.5h.9M183 224.5h.9M167 231.5h.9M166 233h.9M178 247h.9M185.5 230h.9M181.5 246h.9M172.5 218h.9M179.5 242.5h.9M159 238.5h.9M175 244.5h.9M181 223.5h.9M167.5 235h.9M163.5 244.5h.9M163.5 247.5h.9M158.5 244.5h.9M182 226h.9M164 235h.9M159 229h.9M180 220h.9M177 246h.9M164 243.5h.9M172.5 219h.9M163.5 240.5h.9M180 223h.9M188.5 234.5h.9M162.5 231.5h.9M177 218h.9M165 232.5h.9M177.5 240.5h.9M160.5 224.5h.9M159 236h.9M178.5 232h.9M160 241h.9M182 243.5h.9M163 231h.9M164 242h.9M181 242h.9M174 237.5h.9M166 232.5h.9M177 243h.9M168.5 243.5h.9M177 221.5h.9M159 238h.9M161 241.5h.9M183 237.5h.9M159 226.5h.9M167 224h.9M173 219.5h.9M161 225h.9M172.5 239.5h.9M171.5 245h.9M178.5 233h.9M160.5 230h.9M161.5 245.5h.9M163 225.5h.9M184.5 218h.9M159.5 234.5h.9M166 237.5h.9M168 237h.9M164 243h.9M183.5 227.5h.9M183 237h.9M162.5 244h.9M161.5 226.5h.9M167.5 220.5h.9M164 223.5h.9M161 226.5h.9M166.5 234h.9M162.5 243.5h.9M184.5 222h.9M183.5 226.5h.9M168 222.5h.9M167 243h.9M179.5 234h.9M177.5 216.5h.9M164.5 238.5h.9M180.5 245.5h.9M163.5 221.5h.9M177.5 238.5h.9M181.5 228h.9M171.5 245.5h.9M184.5 227.5h.9M182.5 220h.9M163 245h.9M161.5 241h.9M187.5 228h.9M168.5 226h.9M167.5 244h.9M186.5 232.5h.9M166 237h.9M181.5 224h.9M176.5 222h.9M161.5 237h.9M181.5 221h.9M160.5 222.5h.9M167 243.5h.9M170 242h.9M170 246.5h.9M175 234h.9M165.5 232.5h.9M162 234.5h.9M167.5 221h.9M175.5 244.5h.9M184 218h.9M165.5 238.5h.9M166 219.5h.9M185.5 233.5h.9M161.5 217.5h.9M170 239h.9M162 232h.9M162 237h.9M159.5 238.5h.9M167.5 244.5h.9M186.5 230h.9M159.5 237h.9M174.5 244h.9M180 237h.9M169 236.5h.9M164.5 235h.9M173 246.5h.9M160.5 222h.9M161.5 245h.9M187 230h.9M185 223h.9M184 224.5h.9M183.5 236h.9M161 244h.9M163 246h.9M165.5 237.5h.9M160.5 227h.9M159.5 241h.9M177.5 240h.9M175.5 248.5h.9M160.5 221h.9M170 222.5h.9M184 237h.9M171 247.5h.9M165 238.5h.9M178 233.5h.9M162 227h.9M182.5 225.5h.9M159.5 224.5h.9M162 223h.9M170.5 246h.9M163 234.5h.9M171.5 221h.9M161.5 244h.9M175 243.5h.9M165 248.5h.9M166.5 233h.9M165 218.5h.9M177 242.5h.9M174 220.5h.9M170.5 220.5h.9M169.5 218.5h.9M175 241.5h.9M180 247h.9M161.5 229h.9M184 240.5h.9M161 233.5h.9M171 244h.9M163 242.5h.9M181.5 237h.9M179 229.5h.9M163 240.5h.9M185.5 244.5h.9M158.5 234.5h.9M180 248.5h.9M183 238.5h.9M163.5 243h.9M174.5 226.5h.9M179.5 227.5h.9M180.5 244h.9M180.5 228.5h.9M160 233.5h.9M180.5 234h.9M183.5 235.5h.9M178 241h.9M177 244.5h.9M179 236h.9M179.5 223h.9M159 243h.9M170.5 242.5h.9M176 241h.9M174 218h.9M174.5 221.5h.9M169.5 243h.9M163.5 239h.9M175.5 242.5h.9M161.5 222h.9M162 245.5h.9M159.5 244h.9M180.5 236h.9M174.5 242.5h.9M178 245.5h.9M173 237.5h.9M168 239h.9M172.5 220.5h.9M163 235.5h.9M163 239h.9M179.5 236h.9M166.5 241h.9M180.5 223h.9M182 223h.9M178 223.5h.9M162 221h.9M183 225h.9M177 246.5h.9M162 241.5h.9M165.5 243h.9M175.5 240h.9M171.5 244.5h.9M165 241.5h.9M184.5 231h.9M161.5 242h.9M183 223h.9M180 244h.9M181 220h.9M161 230.5h.9M175 245h.9M163 233.5h.9M162.5 238h.9M173 248h.9M176 242.5h.9M162.5 230h.9M179 235h.9M179 240.5h.9M181.5 233.5h.9M183 232.5h.9M185.5 221h.9M163 230.5h.9M178.5 246h.9M188 238h.9M180 241.5h.9M168 224h.9M168 220h.9M166.5 236.5h.9M181 246h.9M161 230h.9M161.5 244.5h.9M174 244h.9M170 216h.9M165 221h.9M170.5 242h.9M174 243.5h.9M172.5 244h.9M187 239h.9M162 219.5h.9M181.5 244h.9M174 247.5h.9M182.5 226.5h.9M181.5 220.5h.9M161 232h.9M179 247h.9M169 237h.9M165 230.5h.9M168.5 247.5h.9M185 241h.9M168.5 242h.9M173.5 243h.9M180.5 226h.9M163.5 238h.9M176.5 243.5h.9M168 245h.9M173 222h.9M163.5 228h.9M167 241h.9M163.5 218.5h.9M185.5 238.5h.9M165 247.5h.9M178.5 248.5h.9M166 234.5h.9M181 248.5h.9M184 228h.9M177.5 218h.9M178 220h.9M174.5 242h.9M162 231h.9M166.5 238.5h.9M172 216.5h.9M170 215h.9M167 221h.9M161.5 246h.9M175 238.5h.9M182.5 222.5h.9M172.5 246.5h.9M160 225h.9M166 240.5h.9M164.5 222.5h.9M160 235.5h.9M184.5 232h.9M161 236.5h.9M184.5 226h.9M162.5 218.5h.9M168 219h.9M179 241h.9M167.5 222h.9M176 224.5h.9M165 239h.9M178 242h.9M165 241h.9M167 244.5h.9M180.5 220h.9M161.5 219.5h.9M183 231.5h.9M185.5 236.5h.9M179.5 218h.9M165.5 224.5h.9M166 229h.9M182.5 242h.9M159.5 220.5h.9M173.5 243.5h.9M166 244h.9M182.5 224.5h.9M162 246h.9M177.5 244h.9M167 236h.9M159.5 228h.9M170.5 245h.9M158.5 233.5h.9M167.5 240.5h.9M170.5 221.5h.9M171.5 247h.9M178 239h.9M165 231h.9M176 220h.9M178.5 239.5h.9M173.5 245h.9M162 233.5h.9M181 240h.9M164.5 219h.9M184 228.5h.9M167 223h.9M183 241.5h.9M165 242.5h.9M170 247h.9M187 224.5h.9M159 245.5h.9M163.5 232.5h.9M169.5 245h.9M163.5 236h.9M167.5 239.5h.9M161.5 227.5h.9M180.5 242h.9M163 238.5h.9M165.5 219.5h.9M179 244h.9M183 227.5h.9M181 219.5h.9M182.5 224h.9M184 236.5h.9M180 240.5h.9M180 219h.9M165.5 222.5h.9M175 248.5h.9M159 241h.9M167 222.5h.9M161.5 230h.9M164 245h.9M176.5 244h.9M180.5 242.5h.9M167 242h.9M183.5 246.5h.9M187.5 246h.9M166 232h.9M160 236.5h.9M172.5 237.5h.9M167 241.5h.9M159.5 231.5h.9M179.5 247.5h.9M180 218.5h.9M162.5 245.5h.9M170 248h.9M185 222.5h.9M180.5 225h.9M163.5 224h.9M166.5 242.5h.9M184 241.5h.9M182.5 239h.9M185 241.5h.9M181.5 247h.9M161.5 236.5h.9M164.5 246h.9M162.5 222.5h.9M168 217h.9M167.5 223h.9M173 243h.9M184.5 236h.9M161 243.5h.9M173.5 224h.9M161.5 224h.9M160.5 241h.9M168.5 220.5h.9M162 226.5h.9M176.5 244.5h.9M165 245.5h.9M184 238.5h.9M178.5 242.5h.9M161 220.5h.9M165.5 230h.9M161 242.5h.9M170.5 227.5h.9M189 217.5h.9M180 242h.9M186 242.5h.9M161 231h.9M159.5 230h.9M161.5 234h.9M183 234h.9M165 227.5h.9M178 221h.9M173 220h.9M167 244h.9M167 237.5h.9M178.5 243h.9M169.5 236h.9M178.5 241.5h.9M170 244.5h.9M180.5 240.5h.9M161.5 233h.9M161.5 230.5h.9M182.5 219.5h.9M160 227h.9M162 242.5h.9M181.5 221.5h.9M160.5 225h.9M186 232h.9M177 222h.9M184.5 248h.9M169 241h.9M182 241.5h.9M173.5 235.5h.9M163.5 237.5h.9M179 220h.9M162 239.5h.9M185 239.5h.9M166 231h.9M159.5 229.5h.9M181 216h.9M172 240.5h.9M163 236.5h.9M171 244.5h.9M162.5 224.5h.9M164.5 230h.9M185.5 235h.9M187 224h.9M183.5 221.5h.9M188 239h.9M181.5 245h.9M183.5 242h.9M188 220.5h.9M161.5 223.5h.9M162.5 220h.9M163.5 231.5h.9M188.5 229.5h.9M164 244h.9M159 232h.9M163 232.5h.9M178.5 222.5h.9M163 219.5h.9M170.5 248h.9M169 239.5h.9M162 236.5h.9M186 244h.9M167.5 241h.9M166 246h.9M159 218.5h.9M160 243h.9M159 235.5h.9M165 226.5h.9M165 242h.9M185.5 225h.9M162.5 222h.9M184.5 243.5h.9M159 219.5h.9M161 219h.9M165.5 223.5h.9M162.5 242.5h.9M166 217.5h.9M181.5 246.5h.9M181.5 222h.9M184 224h.9M174 217h.9M167 247.5h.9M164.5 237.5h.9M183 246h.9M176.5 221h.9M158.5 230.5h.9M160.5 246.5h.9M173 239.5h.9M160 229h.9M174.5 241h.9M160 223h.9M184.5 241h.9M181.5 244.5h.9M167.5 228.5h.9M171.5 242h.9M177 222.5h.9M183.5 234h.9M164 239.5h.9M168.5 245.5h.9M170.5 220h.9M164 223h.9M183 219.5h.9M184.5 226.5h.9M159 230.5h.9M165 243.5h.9M165.5 221h.9M185 233.5h.9M183.5 240.5h.9M179.5 232.5h.9M160.5 237.5h.9M184 244.5h.9M167.5 219.5h.9M183.5 244.5h.9M161.5 243h.9M169 242h.9M169 220.5h.9M160 244.5h.9M159.5 233h.9M166 244.5h.9M160 230h.9M161 235h.9M159.5 229h.9M175.5 240.5h.9M182.5 248.5h.9M173 235.5h.9M178 216h.9M185 237.5h.9M162.5 225.5h.9M162.5 225h.9M176.5 236.5h.9M163 224.5h.9M184 227h.9M183 230h.9M181.5 232.5h.9M184 240h.9M184.5 244.5h.9M185 235.5h.9M166.5 232h.9M161.5 220.5h.9M166.5 224h.9M158.5 225h.9M177 221h.9M183.5 220.5h.9M180 239h.9M182 235h.9M185 221.5h.9M166 227.5h.9M183.5 232h.9M160.5 233.5h.9M173 219h.9M185.5 244h.9M185.5 239.5h.9M167 221.5h.9M186 236h.9M159 248.5h.9M173 227.5h.9M163 241.5h.9M167 220h.9M162.5 233.5h.9M182.5 238.5h.9M187 247h.9M178.5 241h.9M179 226h.9M179 239.5h.9M173.5 218h.9M184 235.5h.9M163 221h.9M161 237.5h.9M185 238h.9M183 221h.9M169 240h.9M171 243h.9M182 219h.9M182.5 236.5h.9M161 232.5h.9M162.5 248h.9M169.5 247h.9M181 234h.9M178.5 232.5h.9M176 244.5h.9M183.5 238h.9M162.5 235.5h.9M166 243.5h.9M175 218.5h.9M168.5 242.5h.9M182.5 242.5h.9M171 221h.9M185 227.5h.9M158.5 239h.9M167 235.5h.9M164 235.5h.9M181.5 240.5h.9M162 248.5h.9M160.5 217h.9M160.5 227.5h.9M183 225.5h.9M184 235h.9M175 219.5h.9M171 245h.9M184.5 237.5h.9M165 240h.9M188 238.5h.9M161 228.5h.9M171.5 246.5h.9M164.5 225.5h.9M217.5 187h.9M213 183h.9M218 186h.9M214.5 187h.9M213.5 185h.9M211 181.5h.9M214 189h.9M208 190.5h.9M213.5 187.5h.9M219.5 184.5h.9M204 181.5h.9M213.5 189.5h.9M210 182.5h.9M211 186.5h.9M215 186.5h.9M215 179h.9M215.5 177.5h.9M219.5 183h.9M211.5 187.5h.9M213.5 177.5h.9M211 190h.9M210 184h.9M210.5 181h.9M211.5 184h.9M220.5 188h.9M213.5 184h.9M208 183h.9M209.5 185h.9M223 184.5h.9M211 183h.9M217.5 185.5h.9M220 184h.9M220 186h.9M214.5 184h.9M219.5 186h.9M202 185h.9M209 182h.9M210.5 187h.9M210.5 181.5h.9M217 188h.9M211.5 186.5h.9M211.5 190.5h.9M207.5 182.5h.9M211.5 177h.9M219 180h.9M208.5 182.5h.9M221 186h.9M221 191h.9M217.5 182.5h.9M216.5 187.5h.9M206.5 180h.9M219 179.5h.9M209 183.5h.9M219 187.5h.9M216.5 189.5h.9M208.5 187h.9M213 185h.9M206 184.5h.9M220 181.5h.9M212.5 177h.9M215 182h.9M215 188h.9M219 184.5h.9M217.5 185h.9M208.5 186h.9M205.5 184.5h.9M207.5 184h.9M223 182.5h.9M215 181.5h.9M216 186.5h.9M209.5 190.5h.9M216 179h.9M217 185h.9M214.5 184.5h.9M217.5 183.5h.9M207 183h.9M216 177.5h.9M216 185.5h.9M212.5 188h.9M213 180.5h.9M209 183h.9M212.5 185h.9M208.5 180h.9M208 181h.9M215 189.5h.9M215 188.5h.9M209.5 182.5h.9M218.5 180h.9M211.5 179.5h.9M221 190.5h.9M212.5 186.5h.9M213.5 181h.9M206 193.5h.9M224 188h.9M218.5 184.5h.9M212.5 190.5h.9M210.5 188h.9M207.5 179.5h.9M214.5 185.5h.9M218 184h.9M211.5 187h.9M215.5 181h.9M214.5 183h.9M218 178.5h.9M214 184.5h.9M212 176.5h.9M218 183.5h.9M218.5 184h.9M213.5 192h.9M224.5 182h.9M212.5 180.5h.9M211.5 180h.9M206 185h.9M204 187h.9M215.5 185h.9M210.5 178h.9M211.5 186h.9M208.5 185.5h.9M210 178.5h.9M211.5 190h.9M215.5 186.5h.9M206 187h.9M223 185.5h.9M209.5 183.5h.9M204.5 191.5h.9M210.5 182.5h.9M221.5 178.5h.9M212.5 184.5h.9M213 183.5h.9M205 180.5h.9M213 179.5h.9M210 185h.9M221 186.5h.9M217 177h.9M220.5 179.5h.9M220.5 186h.9M210.5 183h.9M210 187h.9M215.5 185.5h.9M215.5 175.5h.9M211.5 180.5h.9M208.5 181h.9M213 188h.9M218 180.5h.9M216.5 182h.9M204 189h.9M218 182h.9M216.5 189h.9M211.5 189h.9M214.5 185h.9M218.5 178.5h.9M209.5 181.5h.9M219.5 183.5h.9M210 180.5h.9M215 191h.9M212.5 182.5h.9M210 185.5h.9M200.5 189h.9M206 188.5h.9M210.5 190h.9M211.5 183h.9M212 181h.9M204 185.5h.9M219.5 189h.9M211 182.5h.9M205.5 185h.9M214.5 188.5h.9M216 182.5h.9M222 183.5h.9M214.5 186h.9M224 186h.9M210 187.5h.9M209.5 185.5h.9M219 182h.9M212 186h.9M221.5 185.5h.9M212 185h.9M205 179h.9M204.5 191h.9M220 182.5h.9M211.5 182.5h.9M219.5 185.5h.9M215 180.5h.9M219.5 179h.9M209.5 186.5h.9M209 185h.9M217 187.5h.9M208 179.5h.9M219.5 180.5h.9M221 182.5h.9M215 183.5h.9M208.5 180.5h.9M210.5 186.5h.9M218 183h.9M206.5 175h.9M209 176.5h.9M213.5 185.5h.9M209.5 189h.9M212.5 181h.9M224 182.5h.9M218 187.5h.9M212.5 192h.9M215.5 179.5h.9M213 182h.9M212.5 183h.9M218 185.5h.9M217.5 188.5h.9M216.5 186.5h.9M221.5 179.5h.9M222 188h.9M215.5 180.5h.9M219.5 184h.9M210.5 190.5h.9M210 186.5h.9M212.5 188.5h.9M214.5 186.5h.9M211 180.5h.9M213.5 190.5h.9M215 185h.9M220.5 179h.9M209.5 177.5h.9M213.5 188.5h.9M214 179h.9M215 181h.9M208 186h.9M207 180.5h.9M215 182.5h.9M211 183.5h.9M218 188h.9M218.5 187.5h.9M212 179h.9M214.5 187.5h.9M216 186h.9M213 182.5h.9M206 192.5h.9M206.5 184h.9M217 184h.9M216.5 184.5h.9M222.5 189h.9M221.5 183h.9M214.5 182.5h.9M231 187h.9M217 187h.9M207.5 181h.9M217 183.5h.9M199.5 186h.9M205 187.5h.9M210.5 183.5h.9M223.5 179.5h.9M216 185h.9M217.5 192h.9M207.5 178.5h.9M215.5 183h.9M215.5 183.5h.9M211 176.5h.9M224 183h.9M214.5 181h.9M216 180h.9M212.5 190h.9M215 180h.9M225 183h.9M216.5 188.5h.9M216.5 183.5h.9M212 182.5h.9M213 178h.9M220 178.5h.9M205.5 187h.9M206.5 191h.9M211 179h.9M207 181h.9M198.5 182h.9M213 187h.9M216 187.5h.9M212.5 180h.9M210 179.5h.9M226.5 188.5h.9M212 178h.9M211.5 185h.9M217 184.5h.9M216.5 180h.9M205 181h.9M204 183h.9M216 184.5h.9M210.5 180h.9M209 190h.9M225 180h.9M210 186h.9M213.5 187h.9M209 184.5h.9M209 186h.9M220 178h.9M210 183h.9M215 184.5h.9M220.5 182.5h.9M213.5 179h.9M221.5 184h.9M211 182h.9M208.5 186.5h.9M214 184h.9M209 187.5h.9M206.5 178h.9M215.5 178.5h.9M217 185.5h.9M215.5 174h.9M216 180.5h.9M216 182h.9M209 184h.9M216.5 184h.9M207.5 186h.9M207 187h.9M208 183.5h.9M220.5 187.5h.9M218.5 181.5h.9M207 186.5h.9M219 182.5h.9M213.5 186.5h.9M203.5 185.5h.9M207 184.5h.9M221 185.5h.9M211 180h.9M224.5 183h.9M215 183h.9M210 184.5h.9M215.5 187.5h.9M223.5 183.5h.9M219 186.5h.9M219 181.5h.9M213.5 188h.9M209.5 183h.9M214.5 182h.9M207 185h.9M217.5 180h.9M219.5 185h.9M210 191h.9M211 185h.9M213 184.5h.9M214.5 178.5h.9M209 177.5h.9M213.5 191h.9M205 192h.9M215.5 180h.9M218.5 189h.9M220.5 185.5h.9M209.5 178h.9M210.5 175.5h.9M206.5 183h.9M209.5 187h.9M212 183.5h.9M205.5 182h.9M211 189h.9M212.5 186h.9M205 189h.9M215.5 188.5h.9M208.5 188h.9M223.5 178.5h.9M203.5 188.5h.9M218.5 181h.9M203 192.5h.9M212.5 187.5h.9M211 184.5h.9M217 182h.9M209 180.5h.9M220 181h.9M219 185.5h.9M214.5 190.5h.9M218.5 177.5h.9M219.5 177h.9M211 177h.9M217 186.5h.9M214 188.5h.9M212 180h.9M214.5 177.5h.9M209.5 180h.9M225 178h.9M211.5 179h.9M212 187.5h.9M217.5 180.5h.9M201 177.5h.9M208.5 178h.9M204 185h.9M208 184.5h.9M218.5 172h.9M215 184h.9M211 191.5h.9M220 197.5h.9M206.5 172h.9M208.5 183.5h.9M211 184h.9M213.5 186h.9M215 189h.9M211.5 181.5h.9M212.5 191h.9M216.5 181.5h.9M223.5 190h.9M204 177h.9M220.5 184h.9M206 183h.9M204.5 187h.9M224 181.5h.9M214 191.5h.9M220 189h.9M213 177.5h.9M194.5 186h.9M212 182h.9M222.5 187.5h.9M214 176.5h.9M228 193h.9M211 178h.9M212.5 185.5h.9M208 192.5h.9M204.5 185.5h.9M214 183h.9M205 191.5h.9M218.5 179.5h.9M213.5 180h.9M220.5 183.5h.9M216.5 194h.9M196 185h.9M205 186.5h.9M196.5 193h.9M198.5 181h.9M212 184h.9M210.5 179.5h.9M207 181.5h.9M207 189.5h.9M202 188h.9M221.5 191h.9M203.5 189h.9M221 183h.9M201 188h.9M204 178h.9M215.5 182.5h.9M224 187h.9M204 179.5h.9M208 192h.9M226 189.5h.9M207.5 180.5h.9M204 187.5h.9M216.5 185h.9M204.5 173.5h.9M207.5 181.5h.9M202 189.5h.9M206.5 185h.9M214 180.5h.9M206 176h.9M210 197.5h.9M200 187h.9M217.5 187.5h.9M215 197.5h.9M206 186.5h.9M204 186h.9M213 185.5h.9M224 195h.9M212.5 184h.9M222 191h.9M215.5 187h.9M199.5 179.5h.9M221.5 177h.9M215.5 173.5h.9M204.5 185h.9M209.5 188.5h.9M215.5 186h.9M221.5 183.5h.9M216.5 182.5h.9M210 197h.9M210.5 189.5h.9M208.5 192.5h.9M200.5 186h.9M227.5 175h.9M202.5 184.5h.9M212 183h.9M211 189.5h.9M208 188h.9M212 188.5h.9M213 184h.9M199.5 187.5h.9M219 190h.9M213.5 183h.9M202.5 184h.9M213 195h.9M216 181.5h.9M213 180h.9M224 190h.9M201 182.5h.9M211.5 188.5h.9M214.5 181.5h.9M208.5 195h.9M215 187h.9M219 187h.9M213 188.5h.9M207.5 184.5h.9M209.5 191.5h.9M211 193.5h.9M221.5 180h.9M201.5 191.5h.9M211.5 174.5h.9M204 191h.9M220 189.5h.9M219 190.5h.9M211.5 172.5h.9M213 179h.9M197 179h.9M214.5 194h.9M210.5 176h.9M222.5 188h.9M213 174h.9M224.5 185h.9M220.5 169.5h.9M218.5 183.5h.9M211.5 185.5h.9M214 194.5h.9M221.5 188h.9M223.5 186.5h.9M212.5 198h.9M217 192.5h.9M210 188h.9M205.5 180.5h.9M222.5 184.5h.9M222.5 194.5h.9M218 179.5h.9M219.5 191h.9M210 190.5h.9M221 192.5h.9M205.5 191.5h.9M204.5 182h.9M215.5 176.5h.9M209 187h.9M202.5 198h.9M205.5 197h.9M192 185h.9M217.5 177h.9M207 179h.9M224.5 189h.9M194.5 181h.9M204 180.5h.9M219.5 178.5h.9M211.5 181h.9M203.5 174h.9M217 174.5h.9M207.5 175.5h.9M218.5 189.5h.9M218 181h.9M216.5 180.5h.9M207 193h.9M212 187h.9M219 195.5h.9M208 187.5h.9M217 181.5h.9M216.5 179.5h.9M215.5 193.5h.9M205 183h.9M221.5 168.5h.9M210 183.5h.9M206.5 186.5h.9M208 185h.9M209.5 172.5h.9M203.5 183.5h.9M202 183h.9M206.5 188h.9M212 188h.9M219 183h.9M210.5 182h.9M203.5 187h.9M203.5 180h.9M216 191h.9M214 183.5h.9M230.5 197h.9M204 191.5h.9M224.5 178h.9M213 178.5h.9M200.5 181h.9M216.5 183h.9M207.5 186.5h.9M203 177.5h.9M215 173h.9M206 183.5h.9M205.5 170h.9M219.5 196.5h.9M210.5 184h.9M205.5 171h.9M208 189.5h.9M214 189.5h.9M221.5 186.5h.9M221 187.5h.9M218 174h.9M221 181.5h.9M206.5 181h.9M209.5 184h.9M209 178.5h.9M199 182h.9M227 183h.9M221 185h.9M210.5 180.5h.9M218.5 182h.9M207 191.5h.9M213.5 179.5h.9M210 181h.9M196.5 179h.9M213.5 181.5h.9M205.5 182.5h.9M200 192.5h.9M228.5 180h.9M205 170h.9M207.5 175h.9M222.5 195h.9M220 187.5h.9M223.5 197.5h.9M210 189h.9M205.5 189.5h.9M221.5 193h.9M196 179.5h.9M221 179.5h.9M207 179.5h.9M196.5 180.5h.9M226 200h.9M206 181.5h.9M220.5 180.5h.9M211.5 173.5h.9M219.5 188h.9M188 172h.9M222 177.5h.9M218 184.5h.9M221 176h.9M210 188.5h.9M199.5 184h.9M209.5 188h.9M199.5 192.5h.9M215.5 190h.9M203 183.5h.9M217 177.5h.9M209.5 196.5h.9M216.5 190h.9M210.5 184.5h.9M207 184h.9M219.5 168.5h.9M205.5 171.5h.9M215 192.5h.9M211 192.5h.9M214.5 180.5h.9M212.5 177.5h.9M207.5 193.5h.9M221 187h.9M229 183h.9M208.5 178.5h.9M205 182h.9M207.5 191.5h.9M200 181.5h.9M216 195h.9M214 181.5h.9M223.5 195.5h.9" stroke="#111" stroke-width="0.9" stroke-opacity="0.8" fill="none"/>
<rect x="157.8" y="156" width="98.19999999999999" height="93.9" fill="none" stroke="#3a3a3a" stroke-width="1.15"/>
<path d="M189.2 156V249.9M157.8 217H256.0" stroke="#555" stroke-width="1.05" fill="none"/>
<path d="M157.8 249.90h-2.2M157.80 249.9v2.2M157.8 242.83h-1.2M165.19 249.9v1.2M157.8 238.70h-1.2M169.51 249.9v1.2M157.8 235.77h-1.2M172.58 249.9v1.2M157.8 233.49h-1.2M174.96 249.9v1.2M157.8 231.63h-1.2M176.90 249.9v1.2M157.8 230.06h-1.2M178.55 249.9v1.2M157.8 228.70h-1.2M179.97 249.9v1.2M157.8 227.50h-1.2M181.23 249.9v1.2M157.8 226.43h-2.2M182.35 249.9v2.2M157.8 219.36h-1.2M189.74 249.9v1.2M157.8 215.22h-1.2M194.06 249.9v1.2M157.8 212.29h-1.2M197.13 249.9v1.2M157.8 210.02h-1.2M199.51 249.9v1.2M157.8 208.16h-1.2M201.45 249.9v1.2M157.8 206.59h-1.2M203.10 249.9v1.2M157.8 205.22h-1.2M204.52 249.9v1.2M157.8 204.02h-1.2M205.78 249.9v1.2M157.8 202.95h-2.2M206.90 249.9v2.2M157.8 195.88h-1.2M214.29 249.9v1.2M157.8 191.75h-1.2M218.61 249.9v1.2M157.8 188.82h-1.2M221.68 249.9v1.2M157.8 186.54h-1.2M224.06 249.9v1.2M157.8 184.68h-1.2M226.00 249.9v1.2M157.8 183.11h-1.2M227.65 249.9v1.2M157.8 181.75h-1.2M229.07 249.9v1.2M157.8 180.55h-1.2M230.33 249.9v1.2M157.8 179.47h-2.2M231.45 249.9v2.2M157.8 172.41h-1.2M238.84 249.9v1.2M157.8 168.27h-1.2M243.16 249.9v1.2M157.8 165.34h-1.2M246.23 249.9v1.2M157.8 163.07h-1.2M248.61 249.9v1.2M157.8 161.21h-1.2M250.55 249.9v1.2M157.8 159.64h-1.2M252.20 249.9v1.2M157.8 158.27h-1.2M253.62 249.9v1.2M157.8 157.07h-1.2M254.88 249.9v1.2M157.8 156h-2.2M256.0 249.9v2.2" stroke="#222" stroke-width="0.85" fill="none"/>
<text transform="translate(145.10,251.70) scale(1,1.08)" font-size="6.7" fill="#000" stroke="#000" stroke-width=".12">10<tspan font-size="4.7" dy="-2.4">0</tspan></text>
<text transform="translate(155.40,260.40) scale(1,1.08)" font-size="6.7" fill="#000" stroke="#000" stroke-width=".12">10<tspan font-size="4.7" dy="-2.4">0</tspan></text>
<text transform="translate(145.10,228.58) scale(1,1.08)" font-size="6.7" fill="#000" stroke="#000" stroke-width=".12">10<tspan font-size="4.7" dy="-2.4">1</tspan></text>
<text transform="translate(179.66,260.40) scale(1,1.08)" font-size="6.7" fill="#000" stroke="#000" stroke-width=".12">10<tspan font-size="4.7" dy="-2.4">1</tspan></text>
<text transform="translate(145.10,205.45) scale(1,1.08)" font-size="6.7" fill="#000" stroke="#000" stroke-width=".12">10<tspan font-size="4.7" dy="-2.4">2</tspan></text>
<text transform="translate(203.91,260.40) scale(1,1.08)" font-size="6.7" fill="#000" stroke="#000" stroke-width=".12">10<tspan font-size="4.7" dy="-2.4">2</tspan></text>
<text transform="translate(145.10,182.33) scale(1,1.08)" font-size="6.7" fill="#000" stroke="#000" stroke-width=".12">10<tspan font-size="4.7" dy="-2.4">3</tspan></text>
<text transform="translate(228.17,260.40) scale(1,1.08)" font-size="6.7" fill="#000" stroke="#000" stroke-width=".12">10<tspan font-size="4.7" dy="-2.4">3</tspan></text>
<text transform="translate(145.10,159.21) scale(1,1.08)" font-size="6.7" fill="#000" stroke="#000" stroke-width=".12">10<tspan font-size="4.7" dy="-2.4">4</tspan></text>
<text transform="translate(252.42,260.40) scale(1,1.08)" font-size="6.7" fill="#000" stroke="#000" stroke-width=".12">10<tspan font-size="4.7" dy="-2.4">4</tspan></text>
<path d="M220.9 204H250.3M234.7 193.1V214.2" stroke="#222" stroke-width="1.1" fill="none"/>
<text transform="translate(227.20,201.60) scale(1,1.05)" font-size="8.8" font-weight="normal" font-style="normal" text-anchor="middle" fill="#000" stroke="#000" stroke-width=".15">3</text>
<text transform="translate(227.20,214.00) scale(1,1.05)" font-size="8.8" font-weight="normal" font-style="normal" text-anchor="middle" fill="#000" stroke="#000" stroke-width=".15">72</text>
<text transform="translate(243.20,214.00) scale(1,1.05)" font-size="8.8" font-weight="normal" font-style="normal" text-anchor="middle" fill="#000" stroke="#000" stroke-width=".15">2</text>
<text transform="translate(250.40,199.30) scale(1,1.05)" font-size="11" font-weight="bold" font-style="italic" text-anchor="end" fill="#000" >23</text>
<path d="M291.5 28V141.8H514" stroke="#2a2a2a" stroke-width="1.4" fill="none"/>
<path d="M291.5 25.2L289.1 30.4L291.5 28.8L293.9 30.4Z" fill="#111"/>
<path d="M518 141.8L511.6 139.20000000000002L513.4 141.8L511.6 144.4Z" fill="#111"/>
<path d="M292.3 153V266.3H515" stroke="#2a2a2a" stroke-width="1.4" fill="none"/>
<path d="M292.3 150.2L289.90000000000003 155.39999999999998L292.3 153.79999999999998L294.7 155.39999999999998Z" fill="#111"/>
<path d="M518.8 266.4L512.4 263.79999999999995L514.1999999999999 266.4L512.4 269.0Z" fill="#111"/>
<text transform="translate(283.1,139.7) rotate(-90) scale(1,1.08)" font-size="8.8" font-weight="bold" fill="#000">% CD3- / HLA-DR- / NKp80+</text>
<text transform="translate(283.0,266.8) rotate(-90) scale(1,1.08)" font-size="8.75" font-weight="bold" fill="#000">% CD3- / HLA-DR- / NKG2A+</text>
<text transform="translate(358.00,152.60) scale(1,1.05)" font-size="9.55" font-weight="bold" font-style="normal" text-anchor="start" fill="#000" >% NKp80+ / CD16+</text>
<text transform="translate(359.00,276.60) scale(1,1.05)" font-size="9.55" font-weight="bold" font-style="normal" text-anchor="start" fill="#000" >% NKG2A+ / CD16+</text>
<path d="M311.5 42.5V124.6H391.5M311.5 124.60h-2.4M311.50 124.6v2.2M311.5 97.23h-2.4M338.17 124.6v2.2M311.5 69.87h-2.4M364.83 124.6v2.2M311.5 42.50h-2.4M391.50 124.6v2.2" stroke="#111" stroke-width="1.3" fill="none"/>
<text transform="translate(307.80,127.70) scale(1,1.1)" font-size="8" font-weight="normal" font-style="normal" text-anchor="end" fill="#000" >0</text>
<text transform="translate(310.80,135.60) scale(1,1.1)" font-size="8" font-weight="normal" font-style="normal" text-anchor="middle" fill="#000" >0</text>
<text transform="translate(307.80,100.33) scale(1,1.1)" font-size="8" font-weight="normal" font-style="normal" text-anchor="end" fill="#000" >10</text>
<text transform="translate(337.47,135.60) scale(1,1.1)" font-size="8" font-weight="normal" font-style="normal" text-anchor="middle" fill="#000" >10</text>
<text transform="translate(307.80,72.97) scale(1,1.1)" font-size="8" font-weight="normal" font-style="normal" text-anchor="end" fill="#000" >20</text>
<text transform="translate(364.13,135.60) scale(1,1.1)" font-size="8" font-weight="normal" font-style="normal" text-anchor="middle" fill="#000" >20</text>
<text transform="translate(307.80,45.60) scale(1,1.1)" font-size="8" font-weight="normal" font-style="normal" text-anchor="end" fill="#000" >30</text>
<text transform="translate(390.80,135.60) scale(1,1.1)" font-size="8" font-weight="normal" font-style="normal" text-anchor="middle" fill="#000" >30</text>
<circle cx="323.1" cy="112.2" r="2.25" fill="#111"/>
<circle cx="327.2" cy="108.1" r="2.25" fill="#111"/>
<circle cx="329.9" cy="105.2" r="2.25" fill="#111"/>
<circle cx="335.8" cy="100.3" r="2.25" fill="#111"/>
<circle cx="340.9" cy="95" r="2.25" fill="#111"/>
<circle cx="342.2" cy="93.6" r="2.25" fill="#111"/>
<circle cx="346.3" cy="90.1" r="2.25" fill="#111"/>
<circle cx="349.1" cy="86.6" r="2.25" fill="#111"/>
<circle cx="350.2" cy="84.3" r="2.25" fill="#111"/>
<circle cx="352.6" cy="82.7" r="2.25" fill="#111"/>
<circle cx="356.1" cy="78.8" r="2.25" fill="#111"/>
<text transform="translate(314.6,50.2) scale(1,1.07)" font-size="8" font-weight="bold" fill="#000" stroke="#000" stroke-width=".22"><tspan font-style="italic">r</tspan> = 0.997</text>
<text transform="translate(314.6,58.300000000000004) scale(1,1.07)" font-size="8" font-weight="bold" fill="#000" stroke="#000" stroke-width=".22" word-spacing="-0.6"><tspan font-style="italic">P</tspan> &lt; .001</text>
<path d="M419.2 40.8V123.8H499.3M419.2 123.80h-2.4M419.20 123.8v2.2M419.2 96.13h-2.4M445.90 123.8v2.2M419.2 68.47h-2.4M472.60 123.8v2.2M419.2 40.80h-2.4M499.30 123.8v2.2" stroke="#111" stroke-width="1.3" fill="none"/>
<text transform="translate(414.50,126.90) scale(1,1.1)" font-size="8" font-weight="normal" font-style="normal" text-anchor="end" fill="#000" >0</text>
<text transform="translate(418.50,134.10) scale(1,1.1)" font-size="8" font-weight="normal" font-style="normal" text-anchor="middle" fill="#000" >0</text>
<text transform="translate(414.50,99.23) scale(1,1.1)" font-size="8" font-weight="normal" font-style="normal" text-anchor="end" fill="#000" >10</text>
<text transform="translate(445.20,134.10) scale(1,1.1)" font-size="8" font-weight="normal" font-style="normal" text-anchor="middle" fill="#000" >10</text>
<text transform="translate(414.50,71.57) scale(1,1.1)" font-size="8" font-weight="normal" font-style="normal" text-anchor="end" fill="#000" >20</text>
<text transform="translate(471.90,134.10) scale(1,1.1)" font-size="8" font-weight="normal" font-style="normal" text-anchor="middle" fill="#000" >20</text>
<text transform="translate(414.50,43.90) scale(1,1.1)" font-size="8" font-weight="normal" font-style="normal" text-anchor="end" fill="#000" >30</text>
<text transform="translate(498.60,134.10) scale(1,1.1)" font-size="8" font-weight="normal" font-style="normal" text-anchor="middle" fill="#000" >30</text>
<circle cx="435.1" cy="107.2" r="2.25" fill="#111"/>
<circle cx="437.7" cy="105" r="2.25" fill="#111"/>
<circle cx="451.1" cy="90.3" r="2.25" fill="#111"/>
<circle cx="454.3" cy="86.1" r="2.25" fill="#111"/>
<circle cx="458.8" cy="82" r="2.25" fill="#111"/>
<circle cx="462" cy="79.4" r="2.25" fill="#111"/>
<circle cx="470.6" cy="70.8" r="2.25" fill="#111"/>
<circle cx="477.9" cy="62.5" r="2.25" fill="#111"/>
<circle cx="492.3" cy="45.9" r="2.25" fill="#111"/>
<circle cx="496.2" cy="43.3" r="2.25" fill="#111"/>
<text transform="translate(422.2,48.0) scale(1,1.07)" font-size="8" font-weight="bold" fill="#000" stroke="#000" stroke-width=".22"><tspan font-style="italic">r</tspan> = 0.998</text>
<text transform="translate(422.2,57.1) scale(1,1.07)" font-size="8" font-weight="bold" fill="#000" stroke="#000" stroke-width=".22" word-spacing="0.6"><tspan font-style="italic">P</tspan> &lt; .001</text>
<path d="M311.5 169V251H391M311.5 251.00h-2.4M311.50 251v2.2M311.5 223.67h-2.4M338.00 251v2.2M311.5 196.33h-2.4M364.50 251v2.2M311.5 169.00h-2.4M391.00 251v2.2" stroke="#111" stroke-width="1.3" fill="none"/>
<text transform="translate(307.80,254.10) scale(1,1.1)" font-size="8" font-weight="normal" font-style="normal" text-anchor="end" fill="#000" >0</text>
<text transform="translate(310.80,261.30) scale(1,1.1)" font-size="8" font-weight="normal" font-style="normal" text-anchor="middle" fill="#000" >0</text>
<text transform="translate(307.80,226.77) scale(1,1.1)" font-size="8" font-weight="normal" font-style="normal" text-anchor="end" fill="#000" >10</text>
<text transform="translate(337.30,261.30) scale(1,1.1)" font-size="8" font-weight="normal" font-style="normal" text-anchor="middle" fill="#000" >10</text>
<text transform="translate(307.80,199.43) scale(1,1.1)" font-size="8" font-weight="normal" font-style="normal" text-anchor="end" fill="#000" >20</text>
<text transform="translate(363.80,261.30) scale(1,1.1)" font-size="8" font-weight="normal" font-style="normal" text-anchor="middle" fill="#000" >20</text>
<text transform="translate(307.80,172.10) scale(1,1.1)" font-size="8" font-weight="normal" font-style="normal" text-anchor="end" fill="#000" >30</text>
<text transform="translate(390.30,261.30) scale(1,1.1)" font-size="8" font-weight="normal" font-style="normal" text-anchor="middle" fill="#000" >30</text>
<circle cx="321.7" cy="240.3" r="2.25" fill="#111"/>
<circle cx="323.3" cy="238.4" r="2.25" fill="#111"/>
<circle cx="325.6" cy="236" r="2.25" fill="#111"/>
<circle cx="328" cy="233.5" r="2.25" fill="#111"/>
<circle cx="329.9" cy="232.1" r="2.25" fill="#111"/>
<circle cx="336.4" cy="225.9" r="2.25" fill="#111"/>
<circle cx="337.9" cy="223.9" r="2.25" fill="#111"/>
<circle cx="339.3" cy="222" r="2.25" fill="#111"/>
<circle cx="340.9" cy="220.4" r="2.25" fill="#111"/>
<circle cx="345.2" cy="215.5" r="2.25" fill="#111"/>
<circle cx="347.1" cy="214.5" r="2.25" fill="#111"/>
<circle cx="348.3" cy="216.1" r="2.25" fill="#111"/>
<circle cx="349.1" cy="211.6" r="2.25" fill="#111"/>
<circle cx="350.6" cy="209.6" r="2.25" fill="#111"/>
<circle cx="353" cy="207.7" r="2.25" fill="#111"/>
<circle cx="354.9" cy="205.7" r="2.25" fill="#111"/>
<text transform="translate(314.4,175.0) scale(1,1.07)" font-size="8" font-weight="bold" fill="#000" stroke="#000" stroke-width=".22"><tspan font-style="italic">r</tspan> = 0.997</text>
<text transform="translate(314.4,184.6) scale(1,1.07)" font-size="8" font-weight="bold" fill="#000" stroke="#000" stroke-width=".22" word-spacing="-0.6"><tspan font-style="italic">P</tspan> &lt; .001</text>
<path d="M421.5 167.5V250.2H501.5M421.5 250.20h-2.4M421.50 250.2v2.2M421.5 222.63h-2.4M448.17 250.2v2.2M421.5 195.07h-2.4M474.83 250.2v2.2M421.5 167.50h-2.4M501.50 250.2v2.2" stroke="#111" stroke-width="1.3" fill="none"/>
<text transform="translate(417.00,253.30) scale(1,1.1)" font-size="8" font-weight="normal" font-style="normal" text-anchor="end" fill="#000" >0</text>
<text transform="translate(420.80,260.50) scale(1,1.1)" font-size="8" font-weight="normal" font-style="normal" text-anchor="middle" fill="#000" >0</text>
<text transform="translate(417.00,225.73) scale(1,1.1)" font-size="8" font-weight="normal" font-style="normal" text-anchor="end" fill="#000" >10</text>
<text transform="translate(447.47,260.50) scale(1,1.1)" font-size="8" font-weight="normal" font-style="normal" text-anchor="middle" fill="#000" >10</text>
<text transform="translate(417.00,198.17) scale(1,1.1)" font-size="8" font-weight="normal" font-style="normal" text-anchor="end" fill="#000" >20</text>
<text transform="translate(474.13,260.50) scale(1,1.1)" font-size="8" font-weight="normal" font-style="normal" text-anchor="middle" fill="#000" >20</text>
<text transform="translate(417.00,170.60) scale(1,1.1)" font-size="8" font-weight="normal" font-style="normal" text-anchor="end" fill="#000" >30</text>
<text transform="translate(500.80,260.50) scale(1,1.1)" font-size="8" font-weight="normal" font-style="normal" text-anchor="middle" fill="#000" >30</text>
<circle cx="436.7" cy="233.8" r="2.25" fill="#111"/>
<circle cx="440.6" cy="230.9" r="2.25" fill="#111"/>
<circle cx="454.6" cy="215.6" r="2.25" fill="#111"/>
<circle cx="458.5" cy="211.8" r="2.25" fill="#111"/>
<circle cx="461.6" cy="207.9" r="2.25" fill="#111"/>
<circle cx="463.2" cy="207" r="2.25" fill="#111"/>
<circle cx="472.5" cy="195.1" r="2.25" fill="#111"/>
<circle cx="483.1" cy="186.8" r="2.25" fill="#111"/>
<circle cx="496.2" cy="172.1" r="2.25" fill="#111"/>
<circle cx="500" cy="167.3" r="2.25" fill="#111"/>
<text transform="translate(424.9,175.0) scale(1,1.07)" font-size="8" font-weight="bold" fill="#000" stroke="#000" stroke-width=".22"><tspan font-style="italic">r</tspan> = 0.998</text>
<text transform="translate(424.9,184.0) scale(1,1.07)" font-size="8" font-weight="bold" fill="#000" stroke="#000" stroke-width=".22" word-spacing="-0.6"><tspan font-style="italic">P</tspan> &lt; .001</text>
</svg>
</body></html>
